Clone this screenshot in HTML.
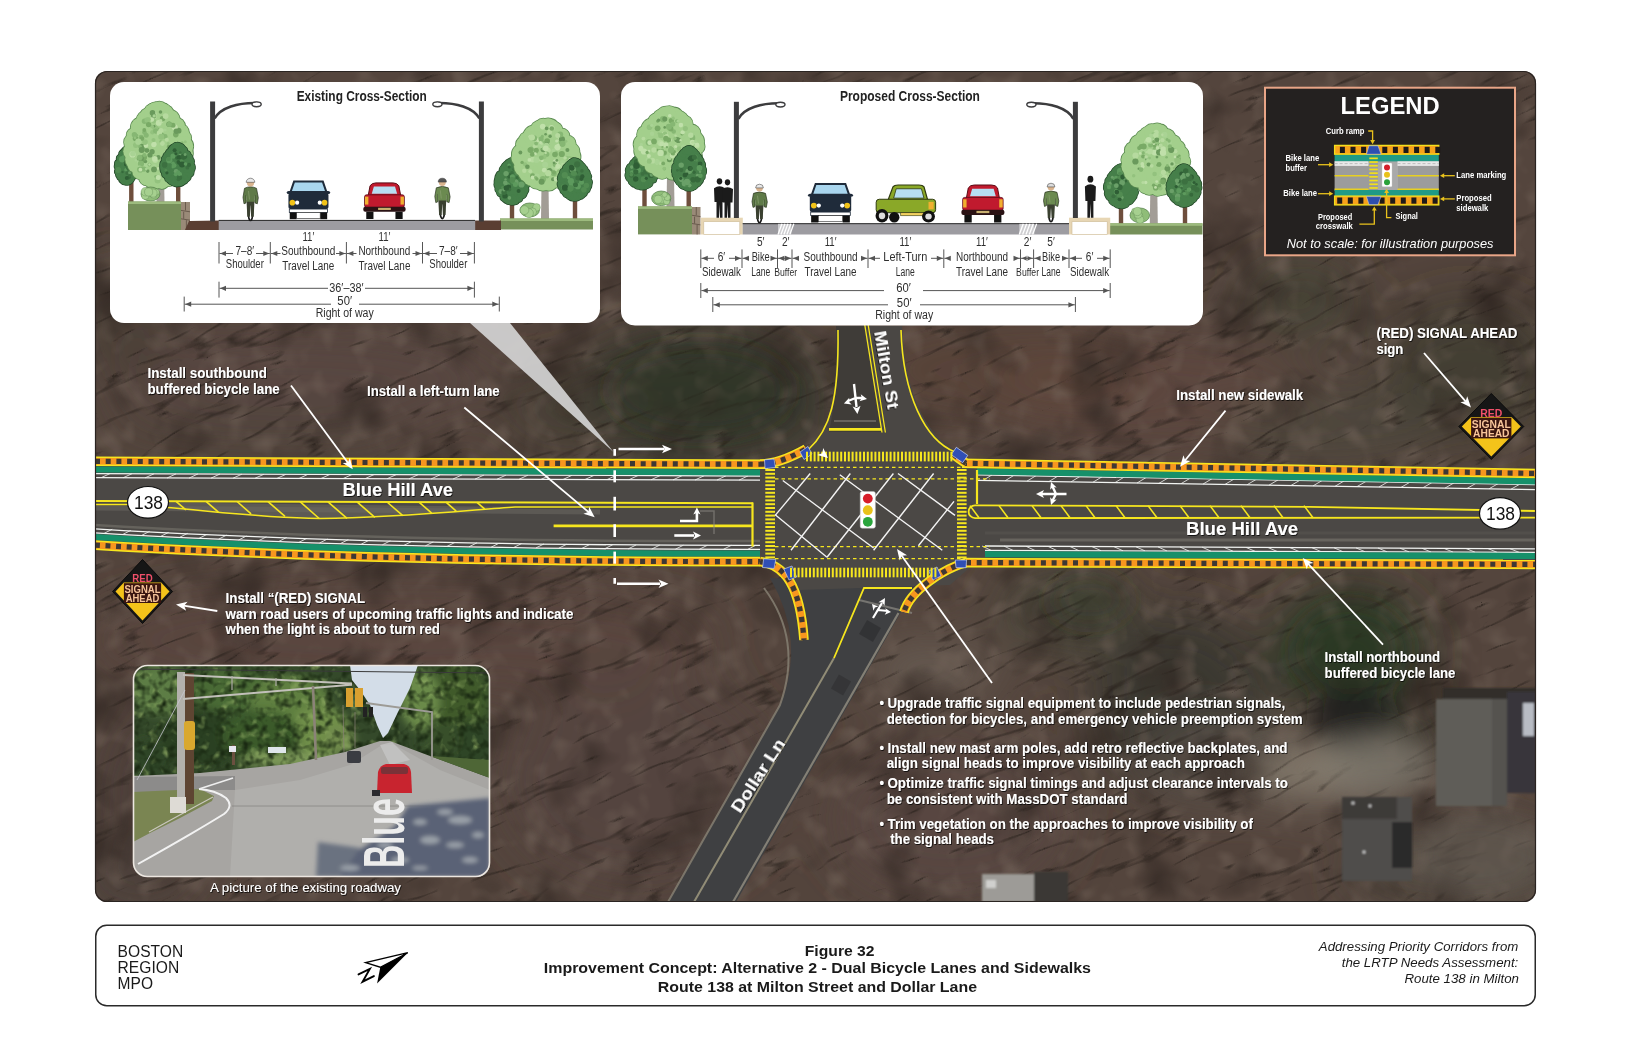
<!DOCTYPE html>
<html><head><meta charset="utf-8">
<style>
html,body{margin:0;padding:0;background:#fff;}
body{width:1632px;height:1056px;position:relative;overflow:hidden;font-family:"Liberation Sans",sans-serif;}
svg{position:absolute;left:0;top:0;font-family:"Liberation Sans",sans-serif;}
.lbl{font-weight:bold;fill:#fff;}
</style></head><body>
<svg width="1632" height="1056" viewBox="0 0 1632 1056">
<defs>
  <clipPath id="mapclip"><rect x="95" y="71" width="1441" height="831" rx="12"/></clipPath>
  <filter id="blur1" x="-20%" y="-20%" width="140%" height="140%"><feGaussianBlur stdDeviation="1"/></filter>
  <filter id="blur2" x="-20%" y="-20%" width="140%" height="140%"><feGaussianBlur stdDeviation="2"/></filter>
  <filter id="blur4" x="-20%" y="-20%" width="140%" height="140%"><feGaussianBlur stdDeviation="4"/></filter>
  <filter id="blur12" x="-50%" y="-50%" width="200%" height="200%"><feGaussianBlur stdDeviation="12"/></filter>
  <filter id="blur25" x="-20%" y="-20%" width="140%" height="140%"><feGaussianBlur stdDeviation="25"/></filter>
  <filter id="streaks" filterUnits="userSpaceOnUse" x="-400" y="-400" width="2600" height="2000" color-interpolation-filters="sRGB">
    <feTurbulence type="turbulence" baseFrequency="0.008 0.045" numOctaves="3" seed="5" result="t"/>
    <feColorMatrix in="t" type="matrix" values="0 0 0 0 0.16  0 0 0 0 0.13  0 0 0 0 0.11  -5 0 0 0 0.75"/>
  </filter>
  <filter id="dblotch" filterUnits="userSpaceOnUse" x="0" y="0" width="1632" height="1056" color-interpolation-filters="sRGB">
    <feTurbulence type="fractalNoise" baseFrequency="0.015 0.015" numOctaves="3" seed="9" result="t"/>
    <feColorMatrix in="t" type="matrix" values="0 0 0 0 0.2  0 0 0 0 0.16  0 0 0 0 0.14  -2.2 0 0 0 1.05"/>
  </filter>
  <filter id="lblotch" filterUnits="userSpaceOnUse" x="0" y="0" width="1632" height="1056" color-interpolation-filters="sRGB">
    <feTurbulence type="fractalNoise" baseFrequency="0.04 0.04" numOctaves="2" seed="2" result="t"/>
    <feColorMatrix in="t" type="matrix" values="0 0 0 0 0.45  0 0 0 0 0.39  0 0 0 0 0.35  1.6 0 0 0 -0.8"/>
  </filter>
  <filter id="foliage" filterUnits="userSpaceOnUse" x="133" y="665" width="357" height="120" color-interpolation-filters="sRGB">
    <feTurbulence type="fractalNoise" baseFrequency="0.12" numOctaves="2" seed="4" result="t"/>
    <feColorMatrix in="t" type="matrix" values="0 0 0 0 0.1  0 0 0 0 0.16  0 0 0 0 0.07  -2.6 0 0 0 1.45"/>
  </filter>
  <filter id="foliage2" filterUnits="userSpaceOnUse" x="133" y="665" width="357" height="120" color-interpolation-filters="sRGB">
    <feTurbulence type="fractalNoise" baseFrequency="0.1" numOctaves="2" seed="11" result="t"/>
    <feColorMatrix in="t" type="matrix" values="0 0 0 0 0.55  0 0 0 0 0.66  0 0 0 0 0.38  2.6 0 0 0 -1.5"/>
  </filter>
  <filter id="tshadow" x="-5%" y="-30%" width="110%" height="160%">
    <feDropShadow dx="0.7" dy="0.9" stdDeviation="0.7" flood-color="#000" flood-opacity="0.85"/>
  </filter>
</defs>
<g clip-path="url(#mapclip)">
<rect x="95" y="71" width="1441" height="831" fill="#54453d"/>
<g filter="url(#blur25)">
<ellipse cx="700" cy="395" rx="130" ry="70" fill="#33372b" opacity="0.95"/>
<ellipse cx="570" cy="410" rx="70" ry="40" fill="#443f35" opacity="0.8"/>
<ellipse cx="1000" cy="370" rx="140" ry="50" fill="#5a4238" opacity="0.7"/>
<ellipse cx="1150" cy="390" rx="160" ry="55" fill="#634a40" opacity="0.6"/>
<ellipse cx="1470" cy="370" rx="90" ry="70" fill="#3a3d31" opacity="0.7"/>
<ellipse cx="1300" cy="300" rx="60" ry="40" fill="#3e4535" opacity="0.7"/>
<ellipse cx="1330" cy="425" rx="110" ry="35" fill="#4a4a3e" opacity="0.6"/>
<ellipse cx="300" cy="380" rx="200" ry="50" fill="#5a4a42" opacity="0.6"/>
<ellipse cx="250" cy="430" rx="160" ry="25" fill="#4a413a" opacity="0.5"/>
<ellipse cx="1350" cy="650" rx="75" ry="60" fill="#2c3c28" opacity="0.95"/>
<ellipse cx="1380" cy="735" rx="60" ry="40" fill="#2a2d25" opacity="0.9"/>
<ellipse cx="930" cy="670" rx="70" ry="25" fill="#6f665c" opacity="0.8"/>
<ellipse cx="1070" cy="610" rx="60" ry="40" fill="#3e4535" opacity="0.8"/>
<ellipse cx="1180" cy="700" rx="90" ry="90" fill="#35362e" opacity="0.85"/>
<ellipse cx="1060" cy="610" rx="70" ry="40" fill="#4b4a3e" opacity="0.6"/>
<ellipse cx="1320" cy="768" rx="90" ry="32" fill="#80766a" opacity="0.95"/>
<ellipse cx="1210" cy="760" rx="70" ry="40" fill="#5e574f" opacity="0.7"/>
<ellipse cx="400" cy="640" rx="320" ry="55" fill="#5c4740" opacity="0.7"/>
<ellipse cx="640" cy="780" rx="140" ry="110" fill="#574540" opacity="0.6"/>
<ellipse cx="950" cy="820" rx="120" ry="80" fill="#5a4a42" opacity="0.6"/>
<ellipse cx="1460" cy="870" rx="120" ry="40" fill="#4e4840" opacity="0.7"/>
<ellipse cx="160" cy="800" rx="60" ry="100" fill="#4a3b36" opacity="0.7"/>
<ellipse cx="860" cy="470" rx="60" ry="30" fill="#45453c" opacity="0.6"/>
<ellipse cx="130" cy="880" rx="60" ry="30" fill="#4a403a" opacity="0.6"/>
<ellipse cx="120" cy="320" rx="60" ry="60" fill="#433a33" opacity="0.6"/>
</g>
<rect x="95" y="71" width="1441" height="831" filter="url(#lblotch)"/>
<rect x="95" y="71" width="1441" height="831" filter="url(#dblotch)"/>
<g transform="rotate(-24 815 486)"><rect x="-300" y="-300" width="2300" height="1600" filter="url(#streaks)"/></g>
<g filter="url(#blur12)">
<ellipse cx="1350" cy="650" rx="55" ry="45" fill="#27361f" opacity="0.55"/>
<ellipse cx="1352" cy="718" rx="38" ry="34" fill="#1c1e1a" opacity="0.75"/>
<ellipse cx="1375" cy="765" rx="62" ry="30" fill="#7c766c" opacity="0.7"/>
<ellipse cx="1300" cy="770" rx="50" ry="22" fill="#8a8172" opacity="0.45"/>
<ellipse cx="1480" cy="855" rx="70" ry="45" fill="#655e55" opacity="0.6"/>
<ellipse cx="700" cy="390" rx="90" ry="45" fill="#2a3324" opacity="0.45"/>
<ellipse cx="1090" cy="600" rx="40" ry="25" fill="#2f3a26" opacity="0.4"/>
</g>
<g filter="url(#blur1)">
<rect x="1443" y="688" width="93" height="12" fill="#332e2a"/>
<rect x="1436" y="699" width="56" height="107" fill="#5e5d58"/>
<rect x="1492" y="699" width="15" height="107" fill="#54534f"/>
<rect x="1507" y="692" width="29" height="101" fill="#37363a"/>
<rect x="1523" y="703" width="11" height="33" fill="#b8bcc4"/>
<rect x="1342" y="797" width="70" height="84" fill="#4f4e4b"/>
<rect x="1342" y="797" width="55" height="22" fill="#3d3b38"/>
<circle cx="1353" cy="803" r="1.6" fill="#d0d0d0"/><circle cx="1370" cy="806" r="1.4" fill="#d0d0d0"/><circle cx="1364" cy="852" r="1.5" fill="#d8d8d8"/>
<rect x="1392" y="822" width="20" height="46" fill="#2c2b29"/>
<rect x="982" y="874" width="52" height="28" fill="#9d9b97"/>
<rect x="986" y="880" width="10" height="8" fill="#d0d0ce"/>
<rect x="1034" y="872" width="34" height="30" fill="#3a3835"/>
</g>
<path d="M770,578 Q806,640 781,703 L668,902 L736,902 L905,605 L935,582 Z" fill="#3f4042"/>
<path d="M764,588 Q803,640 780,705 L668,902" stroke="#857f72" stroke-width="2" fill="none" opacity="0.85"/>
<path d="M898.5,613 L733,902" stroke="#8f8b7e" stroke-width="2.2" opacity="0.85"/>
<path d="M834,658 L694,902" stroke="#a09a80" stroke-width="2" opacity="0.85"/>
<path d="M859,600 L912,613" stroke="#8c8a84" stroke-width="2" opacity="0.7"/>
<rect x="862" y="623" width="16" height="16" fill="#2e2e30" opacity="0.7" transform="rotate(30 870 631)"/>
<rect x="834" y="677" width="14" height="16" fill="#2e2e30" opacity="0.6" transform="rotate(30 841 685)"/>
<path d="M836,326 C838,400 830,430 805,452 L960,452 C930,440 905,400 902,326 Z" fill="#4a4744"/>
<path d="M836,326 L864,326 L881,432 L829,432 C834,410 837,380 836,326 Z" fill="#3c3a36" opacity="0.8"/>
<path d="M95,461.3 L760,464.2 L800,452 L955,452 L975,463.5 L1536,473.5 L1536,566 L975,563 L950,585 L800,590 L760,562 L760,561.6 Q380,562 95,545 Z" fill="#4b4845"/>
<path d="M95,508 L600,512" stroke="#6d6a64" stroke-width="5" opacity="0.5"/>
<path d="M1000,540 L1536,540" stroke="#7a7770" stroke-width="3" opacity="0.6"/>
<path d="M985,533 L1536,533" stroke="#5a5752" stroke-width="3" opacity="0.5"/>
<path d="M95,473.6 L760,476.0" stroke="#f2f4f2" stroke-width="1.3" fill="none" />
<path d="M95,477.7 L760,480.2" stroke="#f2f4f2" stroke-width="1.3" fill="none" />
<path d="M101.0,477.7 L110.0,473.6" stroke="#f2f4f2" stroke-width="0.9" opacity="0.9"/>
<path d="M123.0,477.8 L132.0,473.7" stroke="#f2f4f2" stroke-width="0.9" opacity="0.9"/>
<path d="M145.0,477.9 L154.0,473.8" stroke="#f2f4f2" stroke-width="0.9" opacity="0.9"/>
<path d="M167.0,478.0 L176.0,473.9" stroke="#f2f4f2" stroke-width="0.9" opacity="0.9"/>
<path d="M189.0,478.1 L198.0,473.9" stroke="#f2f4f2" stroke-width="0.9" opacity="0.9"/>
<path d="M211.0,478.1 L220.0,474.0" stroke="#f2f4f2" stroke-width="0.9" opacity="0.9"/>
<path d="M233.0,478.2 L242.0,474.1" stroke="#f2f4f2" stroke-width="0.9" opacity="0.9"/>
<path d="M255.0,478.3 L264.0,474.2" stroke="#f2f4f2" stroke-width="0.9" opacity="0.9"/>
<path d="M277.0,478.4 L286.0,474.3" stroke="#f2f4f2" stroke-width="0.9" opacity="0.9"/>
<path d="M299.0,478.5 L308.0,474.3" stroke="#f2f4f2" stroke-width="0.9" opacity="0.9"/>
<path d="M321.0,478.5 L330.0,474.4" stroke="#f2f4f2" stroke-width="0.9" opacity="0.9"/>
<path d="M343.0,478.6 L352.0,474.5" stroke="#f2f4f2" stroke-width="0.9" opacity="0.9"/>
<path d="M365.0,478.7 L374.0,474.6" stroke="#f2f4f2" stroke-width="0.9" opacity="0.9"/>
<path d="M387.0,478.8 L396.0,474.7" stroke="#f2f4f2" stroke-width="0.9" opacity="0.9"/>
<path d="M409.0,478.9 L418.0,474.7" stroke="#f2f4f2" stroke-width="0.9" opacity="0.9"/>
<path d="M431.0,479.0 L440.0,474.8" stroke="#f2f4f2" stroke-width="0.9" opacity="0.9"/>
<path d="M453.0,479.0 L462.0,474.9" stroke="#f2f4f2" stroke-width="0.9" opacity="0.9"/>
<path d="M475.0,479.1 L484.0,475.0" stroke="#f2f4f2" stroke-width="0.9" opacity="0.9"/>
<path d="M497.0,479.2 L506.0,475.1" stroke="#f2f4f2" stroke-width="0.9" opacity="0.9"/>
<path d="M519.0,479.3 L528.0,475.1" stroke="#f2f4f2" stroke-width="0.9" opacity="0.9"/>
<path d="M541.0,479.4 L550.0,475.2" stroke="#f2f4f2" stroke-width="0.9" opacity="0.9"/>
<path d="M563.0,479.5 L572.0,475.3" stroke="#f2f4f2" stroke-width="0.9" opacity="0.9"/>
<path d="M585.0,479.5 L594.0,475.4" stroke="#f2f4f2" stroke-width="0.9" opacity="0.9"/>
<path d="M607.0,479.6 L616.0,475.4" stroke="#f2f4f2" stroke-width="0.9" opacity="0.9"/>
<path d="M629.0,479.7 L638.0,475.5" stroke="#f2f4f2" stroke-width="0.9" opacity="0.9"/>
<path d="M651.0,479.8 L660.0,475.6" stroke="#f2f4f2" stroke-width="0.9" opacity="0.9"/>
<path d="M673.0,479.9 L682.0,475.7" stroke="#f2f4f2" stroke-width="0.9" opacity="0.9"/>
<path d="M695.0,480.0 L704.0,475.8" stroke="#f2f4f2" stroke-width="0.9" opacity="0.9"/>
<path d="M717.0,480.0 L726.0,475.8" stroke="#f2f4f2" stroke-width="0.9" opacity="0.9"/>
<path d="M739.0,480.1 L748.0,475.9" stroke="#f2f4f2" stroke-width="0.9" opacity="0.9"/>
<path d="M95,469.5 L760,472.4" stroke="#16906a" stroke-width="6" fill="none" />
<path d="M95,461.3 L768,464.3" stroke="#f6e61e" stroke-width="9.6" fill="none"/><path d="M95,461.3 L768,464.3" stroke="#f7961f" stroke-width="6.6" fill="none"/><path d="M95,461.3 L768,464.3" stroke="#3e3834" stroke-width="5.199999999999999" fill="none" stroke-dasharray="5.0 5.699999999999999" stroke-dashoffset="0"/>
<path d="M977,474.8 L1536,484.5" stroke="#f2f4f2" stroke-width="1.3" fill="none" />
<path d="M977,480.3 L1536,489.6" stroke="#f2f4f2" stroke-width="1.3" fill="none" />
<path d="M983.0,480.4 L992.0,474.9" stroke="#f2f4f2" stroke-width="0.9" opacity="0.9"/>
<path d="M1005.0,480.8 L1014.0,475.3" stroke="#f2f4f2" stroke-width="0.9" opacity="0.9"/>
<path d="M1027.0,481.1 L1036.0,475.7" stroke="#f2f4f2" stroke-width="0.9" opacity="0.9"/>
<path d="M1049.0,481.5 L1058.0,476.0" stroke="#f2f4f2" stroke-width="0.9" opacity="0.9"/>
<path d="M1071.0,481.9 L1080.0,476.4" stroke="#f2f4f2" stroke-width="0.9" opacity="0.9"/>
<path d="M1093.0,482.2 L1102.0,476.8" stroke="#f2f4f2" stroke-width="0.9" opacity="0.9"/>
<path d="M1115.0,482.6 L1124.0,477.2" stroke="#f2f4f2" stroke-width="0.9" opacity="0.9"/>
<path d="M1137.0,483.0 L1146.0,477.6" stroke="#f2f4f2" stroke-width="0.9" opacity="0.9"/>
<path d="M1159.0,483.3 L1168.0,478.0" stroke="#f2f4f2" stroke-width="0.9" opacity="0.9"/>
<path d="M1181.0,483.7 L1190.0,478.3" stroke="#f2f4f2" stroke-width="0.9" opacity="0.9"/>
<path d="M1203.0,484.1 L1212.0,478.7" stroke="#f2f4f2" stroke-width="0.9" opacity="0.9"/>
<path d="M1225.0,484.4 L1234.0,479.1" stroke="#f2f4f2" stroke-width="0.9" opacity="0.9"/>
<path d="M1247.0,484.8 L1256.0,479.5" stroke="#f2f4f2" stroke-width="0.9" opacity="0.9"/>
<path d="M1269.0,485.2 L1278.0,479.9" stroke="#f2f4f2" stroke-width="0.9" opacity="0.9"/>
<path d="M1291.0,485.5 L1300.0,480.2" stroke="#f2f4f2" stroke-width="0.9" opacity="0.9"/>
<path d="M1313.0,485.9 L1322.0,480.6" stroke="#f2f4f2" stroke-width="0.9" opacity="0.9"/>
<path d="M1335.0,486.3 L1344.0,481.0" stroke="#f2f4f2" stroke-width="0.9" opacity="0.9"/>
<path d="M1357.0,486.6 L1366.0,481.4" stroke="#f2f4f2" stroke-width="0.9" opacity="0.9"/>
<path d="M1379.0,487.0 L1388.0,481.8" stroke="#f2f4f2" stroke-width="0.9" opacity="0.9"/>
<path d="M1401.0,487.4 L1410.0,482.2" stroke="#f2f4f2" stroke-width="0.9" opacity="0.9"/>
<path d="M1423.0,487.7 L1432.0,482.5" stroke="#f2f4f2" stroke-width="0.9" opacity="0.9"/>
<path d="M1445.0,488.1 L1454.0,482.9" stroke="#f2f4f2" stroke-width="0.9" opacity="0.9"/>
<path d="M1467.0,488.5 L1476.0,483.3" stroke="#f2f4f2" stroke-width="0.9" opacity="0.9"/>
<path d="M1489.0,488.8 L1498.0,483.7" stroke="#f2f4f2" stroke-width="0.9" opacity="0.9"/>
<path d="M1511.0,489.2 L1520.0,484.1" stroke="#f2f4f2" stroke-width="0.9" opacity="0.9"/>
<path d="M977,471.5 L1536,481.4" stroke="#16906a" stroke-width="6.2" fill="none" />
<path d="M962,463.2 L1536,473.5" stroke="#f6e61e" stroke-width="9.6" fill="none"/><path d="M962,463.2 L1536,473.5" stroke="#f7961f" stroke-width="6.6" fill="none"/><path d="M962,463.2 L1536,473.5" stroke="#3e3834" stroke-width="5.199999999999999" fill="none" stroke-dasharray="5.0 5.699999999999999" stroke-dashoffset="0"/>
<path d="M95,528.8000000000001 Q380,545.7 760,545.3000000000001" stroke="#f2f4f2" stroke-width="1.3" fill="none"/>
<path d="M95,532.8000000000001 Q380,549.7 760,549.3000000000001" stroke="#f2f4f2" stroke-width="1.3" fill="none"/>
<path d="M104.2,533.3 L112.2,529.3" stroke="#f2f4f2" stroke-width="0.9" opacity="0.9"/>
<path d="M122.8,534.4 L130.8,530.4" stroke="#f2f4f2" stroke-width="0.9" opacity="0.9"/>
<path d="M141.6,535.4 L149.6,531.4" stroke="#f2f4f2" stroke-width="0.9" opacity="0.9"/>
<path d="M160.6,536.4 L168.6,532.4" stroke="#f2f4f2" stroke-width="0.9" opacity="0.9"/>
<path d="M179.7,537.3 L187.7,533.3" stroke="#f2f4f2" stroke-width="0.9" opacity="0.9"/>
<path d="M199.1,538.3 L207.1,534.3" stroke="#f2f4f2" stroke-width="0.9" opacity="0.9"/>
<path d="M218.7,539.1 L226.7,535.1" stroke="#f2f4f2" stroke-width="0.9" opacity="0.9"/>
<path d="M238.5,540.0 L246.5,536.0" stroke="#f2f4f2" stroke-width="0.9" opacity="0.9"/>
<path d="M258.4,540.8 L266.4,536.8" stroke="#f2f4f2" stroke-width="0.9" opacity="0.9"/>
<path d="M278.6,541.5 L286.6,537.5" stroke="#f2f4f2" stroke-width="0.9" opacity="0.9"/>
<path d="M299.0,542.3 L307.0,538.3" stroke="#f2f4f2" stroke-width="0.9" opacity="0.9"/>
<path d="M319.5,543.0 L327.5,539.0" stroke="#f2f4f2" stroke-width="0.9" opacity="0.9"/>
<path d="M340.3,543.6 L348.3,539.6" stroke="#f2f4f2" stroke-width="0.9" opacity="0.9"/>
<path d="M361.2,544.2 L369.2,540.2" stroke="#f2f4f2" stroke-width="0.9" opacity="0.9"/>
<path d="M382.4,544.8 L390.4,540.8" stroke="#f2f4f2" stroke-width="0.9" opacity="0.9"/>
<path d="M403.8,545.4 L411.8,541.4" stroke="#f2f4f2" stroke-width="0.9" opacity="0.9"/>
<path d="M425.3,545.9 L433.3,541.9" stroke="#f2f4f2" stroke-width="0.9" opacity="0.9"/>
<path d="M447.0,546.4 L455.0,542.4" stroke="#f2f4f2" stroke-width="0.9" opacity="0.9"/>
<path d="M469.0,546.8 L477.0,542.8" stroke="#f2f4f2" stroke-width="0.9" opacity="0.9"/>
<path d="M491.1,547.2 L499.1,543.2" stroke="#f2f4f2" stroke-width="0.9" opacity="0.9"/>
<path d="M513.5,547.6 L521.5,543.6" stroke="#f2f4f2" stroke-width="0.9" opacity="0.9"/>
<path d="M536.0,547.9 L544.0,543.9" stroke="#f2f4f2" stroke-width="0.9" opacity="0.9"/>
<path d="M558.8,548.2 L566.8,544.2" stroke="#f2f4f2" stroke-width="0.9" opacity="0.9"/>
<path d="M581.7,548.5 L589.7,544.5" stroke="#f2f4f2" stroke-width="0.9" opacity="0.9"/>
<path d="M604.8,548.7 L612.8,544.7" stroke="#f2f4f2" stroke-width="0.9" opacity="0.9"/>
<path d="M628.2,548.9 L636.2,544.9" stroke="#f2f4f2" stroke-width="0.9" opacity="0.9"/>
<path d="M651.7,549.1 L659.7,545.1" stroke="#f2f4f2" stroke-width="0.9" opacity="0.9"/>
<path d="M675.4,549.2 L683.4,545.2" stroke="#f2f4f2" stroke-width="0.9" opacity="0.9"/>
<path d="M699.3,549.3 L707.3,545.3" stroke="#f2f4f2" stroke-width="0.9" opacity="0.9"/>
<path d="M723.4,549.3 L731.4,545.3" stroke="#f2f4f2" stroke-width="0.9" opacity="0.9"/>
<path d="M747.8,549.3 L755.8,545.3" stroke="#f2f4f2" stroke-width="0.9" opacity="0.9"/>
<path d="M95,537.0 Q380,553.9 760,553.5" stroke="#16906a" stroke-width="6" fill="none"/>
<path d="M95,545.1 Q380,562 760,561.6" stroke="#f6e61e" stroke-width="9.6" fill="none"/><path d="M95,545.1 Q380,562 760,561.6" stroke="#f7961f" stroke-width="6.6" fill="none"/><path d="M95,545.1 Q380,562 760,561.6" stroke="#3e3834" stroke-width="5.199999999999999" fill="none" stroke-dasharray="5.0 5.699999999999999" stroke-dashoffset="0"/>
<path d="M985,546.0 L1536,548.8" stroke="#f2f4f2" stroke-width="1.3" fill="none" />
<path d="M985,550.3 L1536,552.4" stroke="#f2f4f2" stroke-width="1.3" fill="none" />
<path d="M991.0,550.3 L982.0,546.0" stroke="#f2f4f2" stroke-width="0.9" opacity="0.9"/>
<path d="M1013.0,550.4 L1004.0,546.1" stroke="#f2f4f2" stroke-width="0.9" opacity="0.9"/>
<path d="M1035.0,550.5 L1026.0,546.3" stroke="#f2f4f2" stroke-width="0.9" opacity="0.9"/>
<path d="M1057.0,550.6 L1048.0,546.4" stroke="#f2f4f2" stroke-width="0.9" opacity="0.9"/>
<path d="M1079.0,550.7 L1070.0,546.5" stroke="#f2f4f2" stroke-width="0.9" opacity="0.9"/>
<path d="M1101.0,550.7 L1092.0,546.6" stroke="#f2f4f2" stroke-width="0.9" opacity="0.9"/>
<path d="M1123.0,550.8 L1114.0,546.7" stroke="#f2f4f2" stroke-width="0.9" opacity="0.9"/>
<path d="M1145.0,550.9 L1136.0,546.8" stroke="#f2f4f2" stroke-width="0.9" opacity="0.9"/>
<path d="M1167.0,551.0 L1158.0,546.9" stroke="#f2f4f2" stroke-width="0.9" opacity="0.9"/>
<path d="M1189.0,551.1 L1180.0,547.0" stroke="#f2f4f2" stroke-width="0.9" opacity="0.9"/>
<path d="M1211.0,551.2 L1202.0,547.1" stroke="#f2f4f2" stroke-width="0.9" opacity="0.9"/>
<path d="M1233.0,551.2 L1224.0,547.3" stroke="#f2f4f2" stroke-width="0.9" opacity="0.9"/>
<path d="M1255.0,551.3 L1246.0,547.4" stroke="#f2f4f2" stroke-width="0.9" opacity="0.9"/>
<path d="M1277.0,551.4 L1268.0,547.5" stroke="#f2f4f2" stroke-width="0.9" opacity="0.9"/>
<path d="M1299.0,551.5 L1290.0,547.6" stroke="#f2f4f2" stroke-width="0.9" opacity="0.9"/>
<path d="M1321.0,551.6 L1312.0,547.7" stroke="#f2f4f2" stroke-width="0.9" opacity="0.9"/>
<path d="M1343.0,551.7 L1334.0,547.8" stroke="#f2f4f2" stroke-width="0.9" opacity="0.9"/>
<path d="M1365.0,551.7 L1356.0,547.9" stroke="#f2f4f2" stroke-width="0.9" opacity="0.9"/>
<path d="M1387.0,551.8 L1378.0,548.0" stroke="#f2f4f2" stroke-width="0.9" opacity="0.9"/>
<path d="M1409.0,551.9 L1400.0,548.2" stroke="#f2f4f2" stroke-width="0.9" opacity="0.9"/>
<path d="M1431.0,552.0 L1422.0,548.3" stroke="#f2f4f2" stroke-width="0.9" opacity="0.9"/>
<path d="M1453.0,552.1 L1444.0,548.4" stroke="#f2f4f2" stroke-width="0.9" opacity="0.9"/>
<path d="M1475.0,552.2 L1466.0,548.5" stroke="#f2f4f2" stroke-width="0.9" opacity="0.9"/>
<path d="M1497.0,552.3 L1488.0,548.6" stroke="#f2f4f2" stroke-width="0.9" opacity="0.9"/>
<path d="M1519.0,552.3 L1510.0,548.7" stroke="#f2f4f2" stroke-width="0.9" opacity="0.9"/>
<path d="M985,554.2 L1536,556" stroke="#16906a" stroke-width="6.2" fill="none" />
<path d="M966,562.6 L1536,564.4" stroke="#f6e61e" stroke-width="9.6" fill="none"/><path d="M966,562.6 L1536,564.4" stroke="#f7961f" stroke-width="6.6" fill="none"/><path d="M966,562.6 L1536,564.4" stroke="#3e3834" stroke-width="5.199999999999999" fill="none" stroke-dasharray="5.0 5.699999999999999" stroke-dashoffset="0"/>
<path d="M760,464.2 C775,464 790,458 806,449" stroke="#f6e61e" stroke-width="9.6" fill="none"/><path d="M760,464.2 C775,464 790,458 806,449" stroke="#f7961f" stroke-width="6.6" fill="none"/><path d="M760,464.2 C775,464 790,458 806,449" stroke="#3e3834" stroke-width="5.199999999999999" fill="none" stroke-dasharray="5.0 5.699999999999999" stroke-dashoffset="0"/>
<path d="M966,463.2 C962,461 958,458 953,454" stroke="#f6e61e" stroke-width="9.6" fill="none"/><path d="M966,463.2 C962,461 958,458 953,454" stroke="#f7961f" stroke-width="6.6" fill="none"/><path d="M966,463.2 C962,461 958,458 953,454" stroke="#3e3834" stroke-width="5.199999999999999" fill="none" stroke-dasharray="5.0 5.699999999999999" stroke-dashoffset="0"/>
<path d="M760,561.6 C785,565 800,585 804,640" stroke="#f6e61e" stroke-width="9.6" fill="none"/><path d="M760,561.6 C785,565 800,585 804,640" stroke="#f7961f" stroke-width="6.6" fill="none"/><path d="M760,561.6 C785,565 800,585 804,640" stroke="#3e3834" stroke-width="5.199999999999999" fill="none" stroke-dasharray="5.0 5.699999999999999" stroke-dashoffset="0"/>
<path d="M966,562.6 C945,568 910,590 904,612" stroke="#f6e61e" stroke-width="9.6" fill="none"/><path d="M966,562.6 C945,568 910,590 904,612" stroke="#f7961f" stroke-width="6.6" fill="none"/><path d="M966,562.6 C945,568 910,590 904,612" stroke="#3e3834" stroke-width="5.199999999999999" fill="none" stroke-dasharray="5.0 5.699999999999999" stroke-dashoffset="0"/>
<path d="M838,330 C839,400 830,430 808,450" stroke="#f6e61e" stroke-width="1.6" fill="none"/>
<path d="M901,330 C903,395 925,440 955,452" stroke="#f6e61e" stroke-width="1.6" fill="none"/>
<path d="M864.8,325 L882,432.5 M868.2,325 L885.4,432.5" stroke="#f6e61e" stroke-width="1.3" fill="none"/>
<path d="M829,429.4 L881,429.4" stroke="#f6e61e" stroke-width="2.8"/>
<path d="M834,421 L876,421" stroke="#8b8880" stroke-width="1.5" opacity="0.7"/>
<path d="M834,658 L864,588 L912,588" stroke="#f6e61e" stroke-width="1.8" fill="none"/>
<polygon points="764.5,459.8 774,459 775.5,467.5 765,468.5" fill="#2f4fb5" stroke="#d8e0f8" stroke-width="0.6"/>
<polygon points="800,452 808,446.5 812,454 804,459.5" fill="#2f4fb5" stroke="#d8e0f8" stroke-width="0.6"/>
<polygon points="763.7,558.8 775.8,559.5 774,568.5 762.5,567.5" fill="#2f4fb5" stroke="#d8e0f8" stroke-width="0.6"/>
<polygon points="783.8,569 792,566 796.7,577 789,580" fill="#2f4fb5" stroke="#d8e0f8" stroke-width="0.6"/>
<polygon points="955.3,560 966.6,560 966,567.7 956,567.7" fill="#2f4fb5" stroke="#d8e0f8" stroke-width="0.6"/>
<polygon points="928.7,571 937,567 941,576 933,580" fill="#2f4fb5" stroke="#d8e0f8" stroke-width="0.6"/>
<rect x="-7" y="-4.5" width="14" height="9" fill="#2f4fb5" stroke="#d8e0f8" stroke-width="0.6" transform="translate(959.5,455) rotate(35)"/>
<rect x="806.0" y="451.7" width="2.0" height="9.699999999999989" fill="#f6e61e"/><rect x="809.8" y="451.7" width="2.0" height="9.699999999999989" fill="#f6e61e"/><rect x="813.6" y="451.7" width="2.0" height="9.699999999999989" fill="#f6e61e"/><rect x="817.4" y="451.7" width="2.0" height="9.699999999999989" fill="#f6e61e"/><rect x="821.2" y="451.7" width="2.0" height="9.699999999999989" fill="#f6e61e"/><rect x="825.0" y="451.7" width="2.0" height="9.699999999999989" fill="#f6e61e"/><rect x="828.8" y="451.7" width="2.0" height="9.699999999999989" fill="#f6e61e"/><rect x="832.6" y="451.7" width="2.0" height="9.699999999999989" fill="#f6e61e"/><rect x="836.4" y="451.7" width="2.0" height="9.699999999999989" fill="#f6e61e"/><rect x="840.2" y="451.7" width="2.0" height="9.699999999999989" fill="#f6e61e"/><rect x="844.0" y="451.7" width="2.0" height="9.699999999999989" fill="#f6e61e"/><rect x="847.8" y="451.7" width="2.0" height="9.699999999999989" fill="#f6e61e"/><rect x="851.6" y="451.7" width="2.0" height="9.699999999999989" fill="#f6e61e"/><rect x="855.4" y="451.7" width="2.0" height="9.699999999999989" fill="#f6e61e"/><rect x="859.2" y="451.7" width="2.0" height="9.699999999999989" fill="#f6e61e"/><rect x="863.0" y="451.7" width="2.0" height="9.699999999999989" fill="#f6e61e"/><rect x="866.8" y="451.7" width="2.0" height="9.699999999999989" fill="#f6e61e"/><rect x="870.6" y="451.7" width="2.0" height="9.699999999999989" fill="#f6e61e"/><rect x="874.4" y="451.7" width="2.0" height="9.699999999999989" fill="#f6e61e"/><rect x="878.2" y="451.7" width="2.0" height="9.699999999999989" fill="#f6e61e"/><rect x="882.0" y="451.7" width="2.0" height="9.699999999999989" fill="#f6e61e"/><rect x="885.8" y="451.7" width="2.0" height="9.699999999999989" fill="#f6e61e"/><rect x="889.6" y="451.7" width="2.0" height="9.699999999999989" fill="#f6e61e"/><rect x="893.4" y="451.7" width="2.0" height="9.699999999999989" fill="#f6e61e"/><rect x="897.2" y="451.7" width="2.0" height="9.699999999999989" fill="#f6e61e"/><rect x="901.0" y="451.7" width="2.0" height="9.699999999999989" fill="#f6e61e"/><rect x="904.8" y="451.7" width="2.0" height="9.699999999999989" fill="#f6e61e"/><rect x="908.6" y="451.7" width="2.0" height="9.699999999999989" fill="#f6e61e"/><rect x="912.4" y="451.7" width="2.0" height="9.699999999999989" fill="#f6e61e"/><rect x="916.2" y="451.7" width="2.0" height="9.699999999999989" fill="#f6e61e"/><rect x="920.0" y="451.7" width="2.0" height="9.699999999999989" fill="#f6e61e"/><rect x="923.8" y="451.7" width="2.0" height="9.699999999999989" fill="#f6e61e"/><rect x="927.6" y="451.7" width="2.0" height="9.699999999999989" fill="#f6e61e"/><rect x="931.4" y="451.7" width="2.0" height="9.699999999999989" fill="#f6e61e"/><rect x="935.2" y="451.7" width="2.0" height="9.699999999999989" fill="#f6e61e"/><rect x="939.0" y="451.7" width="2.0" height="9.699999999999989" fill="#f6e61e"/><rect x="942.8" y="451.7" width="2.0" height="9.699999999999989" fill="#f6e61e"/><rect x="946.6" y="451.7" width="2.0" height="9.699999999999989" fill="#f6e61e"/><rect x="950.4" y="451.7" width="2.0" height="9.699999999999989" fill="#f6e61e"/>
<rect x="790.0" y="567.7" width="2.0" height="9.599999999999909" fill="#f6e61e"/><rect x="793.8" y="567.7" width="2.0" height="9.599999999999909" fill="#f6e61e"/><rect x="797.6" y="567.7" width="2.0" height="9.599999999999909" fill="#f6e61e"/><rect x="801.4" y="567.7" width="2.0" height="9.599999999999909" fill="#f6e61e"/><rect x="805.2" y="567.7" width="2.0" height="9.599999999999909" fill="#f6e61e"/><rect x="809.0" y="567.7" width="2.0" height="9.599999999999909" fill="#f6e61e"/><rect x="812.8" y="567.7" width="2.0" height="9.599999999999909" fill="#f6e61e"/><rect x="816.6" y="567.7" width="2.0" height="9.599999999999909" fill="#f6e61e"/><rect x="820.4" y="567.7" width="2.0" height="9.599999999999909" fill="#f6e61e"/><rect x="824.2" y="567.7" width="2.0" height="9.599999999999909" fill="#f6e61e"/><rect x="828.0" y="567.7" width="2.0" height="9.599999999999909" fill="#f6e61e"/><rect x="831.8" y="567.7" width="2.0" height="9.599999999999909" fill="#f6e61e"/><rect x="835.6" y="567.7" width="2.0" height="9.599999999999909" fill="#f6e61e"/><rect x="839.4" y="567.7" width="2.0" height="9.599999999999909" fill="#f6e61e"/><rect x="843.2" y="567.7" width="2.0" height="9.599999999999909" fill="#f6e61e"/><rect x="847.0" y="567.7" width="2.0" height="9.599999999999909" fill="#f6e61e"/><rect x="850.8" y="567.7" width="2.0" height="9.599999999999909" fill="#f6e61e"/><rect x="854.6" y="567.7" width="2.0" height="9.599999999999909" fill="#f6e61e"/><rect x="858.4" y="567.7" width="2.0" height="9.599999999999909" fill="#f6e61e"/><rect x="862.2" y="567.7" width="2.0" height="9.599999999999909" fill="#f6e61e"/><rect x="866.0" y="567.7" width="2.0" height="9.599999999999909" fill="#f6e61e"/><rect x="869.8" y="567.7" width="2.0" height="9.599999999999909" fill="#f6e61e"/><rect x="873.6" y="567.7" width="2.0" height="9.599999999999909" fill="#f6e61e"/><rect x="877.4" y="567.7" width="2.0" height="9.599999999999909" fill="#f6e61e"/><rect x="881.2" y="567.7" width="2.0" height="9.599999999999909" fill="#f6e61e"/><rect x="885.0" y="567.7" width="2.0" height="9.599999999999909" fill="#f6e61e"/><rect x="888.8" y="567.7" width="2.0" height="9.599999999999909" fill="#f6e61e"/><rect x="892.6" y="567.7" width="2.0" height="9.599999999999909" fill="#f6e61e"/><rect x="896.4" y="567.7" width="2.0" height="9.599999999999909" fill="#f6e61e"/><rect x="900.2" y="567.7" width="2.0" height="9.599999999999909" fill="#f6e61e"/><rect x="904.0" y="567.7" width="2.0" height="9.599999999999909" fill="#f6e61e"/><rect x="907.8" y="567.7" width="2.0" height="9.599999999999909" fill="#f6e61e"/><rect x="911.6" y="567.7" width="2.0" height="9.599999999999909" fill="#f6e61e"/><rect x="915.4" y="567.7" width="2.0" height="9.599999999999909" fill="#f6e61e"/><rect x="919.2" y="567.7" width="2.0" height="9.599999999999909" fill="#f6e61e"/><rect x="923.0" y="567.7" width="2.0" height="9.599999999999909" fill="#f6e61e"/><rect x="926.8" y="567.7" width="2.0" height="9.599999999999909" fill="#f6e61e"/><rect x="930.6" y="567.7" width="2.0" height="9.599999999999909" fill="#f6e61e"/><rect x="934.4" y="567.7" width="2.0" height="9.599999999999909" fill="#f6e61e"/>
<rect x="765.3" y="469.0" width="9.700000000000045" height="2.0" fill="#f6e61e"/><rect x="765.3" y="472.8" width="9.700000000000045" height="2.0" fill="#f6e61e"/><rect x="765.3" y="476.6" width="9.700000000000045" height="2.0" fill="#f6e61e"/><rect x="765.3" y="480.4" width="9.700000000000045" height="2.0" fill="#f6e61e"/><rect x="765.3" y="484.2" width="9.700000000000045" height="2.0" fill="#f6e61e"/><rect x="765.3" y="488.0" width="9.700000000000045" height="2.0" fill="#f6e61e"/><rect x="765.3" y="491.8" width="9.700000000000045" height="2.0" fill="#f6e61e"/><rect x="765.3" y="495.6" width="9.700000000000045" height="2.0" fill="#f6e61e"/><rect x="765.3" y="499.4" width="9.700000000000045" height="2.0" fill="#f6e61e"/><rect x="765.3" y="503.2" width="9.700000000000045" height="2.0" fill="#f6e61e"/><rect x="765.3" y="507.0" width="9.700000000000045" height="2.0" fill="#f6e61e"/><rect x="765.3" y="510.8" width="9.700000000000045" height="2.0" fill="#f6e61e"/><rect x="765.3" y="514.6" width="9.700000000000045" height="2.0" fill="#f6e61e"/><rect x="765.3" y="518.4" width="9.700000000000045" height="2.0" fill="#f6e61e"/><rect x="765.3" y="522.2" width="9.700000000000045" height="2.0" fill="#f6e61e"/><rect x="765.3" y="526.0" width="9.700000000000045" height="2.0" fill="#f6e61e"/><rect x="765.3" y="529.8" width="9.700000000000045" height="2.0" fill="#f6e61e"/><rect x="765.3" y="533.6" width="9.700000000000045" height="2.0" fill="#f6e61e"/><rect x="765.3" y="537.4" width="9.700000000000045" height="2.0" fill="#f6e61e"/><rect x="765.3" y="541.2" width="9.700000000000045" height="2.0" fill="#f6e61e"/><rect x="765.3" y="545.0" width="9.700000000000045" height="2.0" fill="#f6e61e"/><rect x="765.3" y="548.8" width="9.700000000000045" height="2.0" fill="#f6e61e"/><rect x="765.3" y="552.6" width="9.700000000000045" height="2.0" fill="#f6e61e"/><rect x="765.3" y="556.4" width="9.700000000000045" height="2.0" fill="#f6e61e"/>
<rect x="957" y="469.0" width="9.600000000000023" height="2.0" fill="#f6e61e"/><rect x="957" y="472.8" width="9.600000000000023" height="2.0" fill="#f6e61e"/><rect x="957" y="476.6" width="9.600000000000023" height="2.0" fill="#f6e61e"/><rect x="957" y="480.4" width="9.600000000000023" height="2.0" fill="#f6e61e"/><rect x="957" y="484.2" width="9.600000000000023" height="2.0" fill="#f6e61e"/><rect x="957" y="488.0" width="9.600000000000023" height="2.0" fill="#f6e61e"/><rect x="957" y="491.8" width="9.600000000000023" height="2.0" fill="#f6e61e"/><rect x="957" y="495.6" width="9.600000000000023" height="2.0" fill="#f6e61e"/><rect x="957" y="499.4" width="9.600000000000023" height="2.0" fill="#f6e61e"/><rect x="957" y="503.2" width="9.600000000000023" height="2.0" fill="#f6e61e"/><rect x="957" y="507.0" width="9.600000000000023" height="2.0" fill="#f6e61e"/><rect x="957" y="510.8" width="9.600000000000023" height="2.0" fill="#f6e61e"/><rect x="957" y="514.6" width="9.600000000000023" height="2.0" fill="#f6e61e"/><rect x="957" y="518.4" width="9.600000000000023" height="2.0" fill="#f6e61e"/><rect x="957" y="522.2" width="9.600000000000023" height="2.0" fill="#f6e61e"/><rect x="957" y="526.0" width="9.600000000000023" height="2.0" fill="#f6e61e"/><rect x="957" y="529.8" width="9.600000000000023" height="2.0" fill="#f6e61e"/><rect x="957" y="533.6" width="9.600000000000023" height="2.0" fill="#f6e61e"/><rect x="957" y="537.4" width="9.600000000000023" height="2.0" fill="#f6e61e"/><rect x="957" y="541.2" width="9.600000000000023" height="2.0" fill="#f6e61e"/><rect x="957" y="545.0" width="9.600000000000023" height="2.0" fill="#f6e61e"/><rect x="957" y="548.8" width="9.600000000000023" height="2.0" fill="#f6e61e"/><rect x="957" y="552.6" width="9.600000000000023" height="2.0" fill="#f6e61e"/><rect x="957" y="556.4" width="9.600000000000023" height="2.0" fill="#f6e61e"/>
<path d="M775,467.4 L990,467.4" stroke="#f6e61e" stroke-width="1.3" stroke-dasharray="3.5 3"/>
<path d="M775,478.9 L990,478.9" stroke="#f6e61e" stroke-width="1.3" stroke-dasharray="3.5 3"/>
<path d="M775,546.6 L990,546.6" stroke="#f6e61e" stroke-width="1.3" stroke-dasharray="3.5 3"/>
<path d="M775,558.6 L990,558.6" stroke="#f6e61e" stroke-width="1.3" stroke-dasharray="3.5 3"/>
<path d="M775.2,515.4 L810.2,473.5" stroke="#f4f4f4" stroke-width="1.4" fill="none" />
<path d="M791,550.3 L850.3,473.5" stroke="#f4f4f4" stroke-width="1.4" fill="none" />
<path d="M827,557.3 L893.4,473.5" stroke="#f4f4f4" stroke-width="1.4" fill="none" />
<path d="M873.6,550.3 L933.6,473.5" stroke="#f4f4f4" stroke-width="1.4" fill="none" />
<path d="M918.4,545.7 L954,501.4" stroke="#f4f4f4" stroke-width="1.4" fill="none" />
<path d="M782.8,480.5 L873.6,548" stroke="#f4f4f4" stroke-width="1.4" fill="none" />
<path d="M775.2,514.8 L827,557.3" stroke="#f4f4f4" stroke-width="1.4" fill="none" />
<path d="M839.8,474.7 L942.3,550.3" stroke="#f4f4f4" stroke-width="1.4" fill="none" />
<path d="M898,473.5 L955,515.4" stroke="#f4f4f4" stroke-width="1.4" fill="none" />
<rect x="860.2" y="491.5" width="15.2" height="36.7" rx="2" fill="#fff" stroke="#bbb" stroke-width="0.5"/>
<circle cx="867.8" cy="498.6" r="4.9" fill="#d81e2a"/>
<circle cx="867.8" cy="510.2" r="4.9" fill="#e8c21a"/>
<circle cx="867.8" cy="521.8" r="4.9" fill="#2aa53c"/>
<path d="M130,504.5 C200,509 250,518 320,518.5 C400,518 470,510 515,507 L130,502 Z" fill="#6e6a62" opacity="0.55"/>
<path d="M95,501 L753,503.3" stroke="#f6e61e" stroke-width="1.9" fill="none"/>
<path d="M95,504.4 L128,504.6 C200,509 250,518 320,518.5 C400,518 470,510 515,507 L753,507" stroke="#f6e61e" stroke-width="1.5" fill="none"/>
<path d="M176,501.3 L185.9,509.9" stroke="#f6e61e" stroke-width="1.6"/>
<path d="M206,501.4 L218.4,512.2" stroke="#f6e61e" stroke-width="1.6"/>
<path d="M237,501.5 L251.1,513.8" stroke="#f6e61e" stroke-width="1.6"/>
<path d="M268,501.6 L285.0,516.4" stroke="#f6e61e" stroke-width="1.6"/>
<path d="M300,501.7 L319.2,518.5" stroke="#f6e61e" stroke-width="1.6"/>
<path d="M328,501.8 L347.0,518.4" stroke="#f6e61e" stroke-width="1.6"/>
<path d="M357,501.9 L374.9,517.4" stroke="#f6e61e" stroke-width="1.6"/>
<path d="M387,502.0 L402.8,515.7" stroke="#f6e61e" stroke-width="1.6"/>
<path d="M419,502.1 L431.7,513.1" stroke="#f6e61e" stroke-width="1.6"/>
<path d="M446,502.2 L456.2,511.1" stroke="#f6e61e" stroke-width="1.6"/>
<path d="M477,502.3 L484.8,509.1" stroke="#f6e61e" stroke-width="1.6"/>
<path d="M95,525 Q380,542 760,541" stroke="#77746d" stroke-width="2.5" fill="none" opacity="0.6"/>
<path d="M553.6,525.8 L753,525.8" stroke="#f6e61e" stroke-width="2.8"/>
<path d="M752.5,502.5 L752.5,546.5" stroke="#f6e61e" stroke-width="2.2"/>
<path d="M700,511 L714,511 L714,534" stroke="#8b8880" stroke-width="1.5" fill="none" opacity="0.6"/>
<path d="M1310,506.8 L975,505.3 A6.4,6.4 0 0 0 975,518.1 L1536,517.7" stroke="#f6e61e" stroke-width="1.8" fill="none"/>
<path d="M1310,506.8 L1536,511" stroke="#f6e61e" stroke-width="1.8" fill="none"/>
<path d="M970,505.6 L979,517.8" stroke="#f6e61e" stroke-width="1.6"/>
<path d="M999,505.6 L1008,517.8" stroke="#f6e61e" stroke-width="1.6"/>
<path d="M1032,505.6 L1041,517.8" stroke="#f6e61e" stroke-width="1.6"/>
<path d="M1061,505.6 L1070,517.8" stroke="#f6e61e" stroke-width="1.6"/>
<path d="M1086,505.6 L1095,517.8" stroke="#f6e61e" stroke-width="1.6"/>
<path d="M1116,505.6 L1125,517.8" stroke="#f6e61e" stroke-width="1.6"/>
<path d="M1148,505.6 L1157,517.8" stroke="#f6e61e" stroke-width="1.6"/>
<path d="M1180,505.6 L1189,517.8" stroke="#f6e61e" stroke-width="1.6"/>
<path d="M1210,505.6 L1219,517.8" stroke="#f6e61e" stroke-width="1.6"/>
<path d="M1241,505.6 L1250,517.8" stroke="#f6e61e" stroke-width="1.6"/>
<path d="M1274,505.6 L1283,517.8" stroke="#f6e61e" stroke-width="1.6"/>
<path d="M1304,505.6 L1313,517.8" stroke="#f6e61e" stroke-width="1.6"/>
<path d="M977,470 L977,504" stroke="#f6e61e" stroke-width="2.2"/>
<path d="M680,521 L696.9,521 L696.9,512" stroke="#fff" stroke-width="2.6" fill="none"/><path d="M696.9,507.5 L700.50,514.50 L696.90,512.75 L693.30,514.50 Z" fill="#fff"/>
<path d="M674.3,535.5 L694,535.5" stroke="#fff" stroke-width="2.6"/><path d="M701,535.5 L693.00,539.50 L695.00,535.50 L693.00,531.50 Z" fill="#fff"/>
<path d="M1066.5,494 L1042,494 M1056,494 L1052.3,486 M1056,494 L1052.3,501" stroke="#fff" stroke-width="2.4" fill="none"/><path d="M1036,494 L1044.00,490.00 L1042.00,494.00 L1044.00,498.00 Z" fill="#fff"/><path d="M1051,482 L1056.68,487.38 L1052.80,486.93 L1050.11,489.77 Z" fill="#fff"/><path d="M1051,505 L1050.11,497.23 L1052.80,500.07 L1056.68,499.62 Z" fill="#fff"/>
<path d="M854,384 L856.5,407 M855.5,398 L848,401 M855.5,398 L862.5,398" stroke="#fff" stroke-width="2.4" fill="none"/><path d="M857.4,414 L852.59,406.46 L856.77,408.03 L860.54,405.63 Z" fill="#fff"/><path d="M843.9,403.5 L849.28,397.82 L848.83,401.70 L851.67,404.39 Z" fill="#fff"/><path d="M867,399 L859.50,401.23 L861.83,398.09 L860.71,394.34 Z" fill="#fff"/>
<path d="M873,618 L882,603 M878,610 L888,611" stroke="#fff" stroke-width="2.2" fill="none"/><path d="M885,598 L884.53,605.81 L882.38,602.55 L878.47,602.31 Z" fill="#fff"/><path d="M891,612 L884.74,614.66 L886.52,611.61 L885.30,608.29 Z" fill="#fff"/><path d="M872,604 L878.31,606.54 L874.89,607.45 L873.41,610.65 Z" fill="#fff"/>
<path d="M828,458 L817.45,455.02 L822.25,453.18 L823.23,448.12 Z" fill="#fff"/>
<path d="M614.7,449 L614.7,455.8" stroke="#fff" stroke-width="2.6" fill="none" />
<path d="M614.7,470.3 L614.7,482.3" stroke="#fff" stroke-width="2.6" fill="none" />
<path d="M614.7,496.8 L614.7,510.5" stroke="#fff" stroke-width="2.6" fill="none" />
<path d="M614.7,524.2 L614.7,537" stroke="#fff" stroke-width="2.6" fill="none" />
<path d="M614.7,551.6 L614.7,563.7" stroke="#fff" stroke-width="2.6" fill="none" />
<path d="M614.7,578 L614.7,583.8" stroke="#fff" stroke-width="2.6" fill="none" />
<path d="M618.5,449 L664,449" stroke="#fff" stroke-width="2.4" fill="none" /><path d="M672,449 L662.00,453.20 L664.50,449.00 L662.00,444.80 Z" fill="#fff"/>
<path d="M617,583.8 L660,583.8" stroke="#fff" stroke-width="2.4" fill="none" /><path d="M668.5,583.8 L658.50,588.00 L661.00,583.80 L658.50,579.60 Z" fill="#fff"/>
<ellipse cx="148" cy="502.3" rx="20.5" ry="15.8" fill="#fff" stroke="#111" stroke-width="1.2"/><text x="148.5" y="508.6" font-size="17.5" fill="#111" text-anchor="middle" textLength="29" lengthAdjust="spacingAndGlyphs">138</text>
<ellipse cx="1500" cy="513.4" rx="20.5" ry="15.8" fill="#fff" stroke="#111" stroke-width="1.2"/><text x="1500.5" y="519.6999999999999" font-size="17.5" fill="#111" text-anchor="middle" textLength="29" lengthAdjust="spacingAndGlyphs">138</text>
<polygon points="142.5,559.5 172.5,591.5 142.5,623.5 112.5,591.5" fill="#161616" stroke="#0b0b0b" stroke-width="1"/>
<polygon points="123.8,582.5 161.2,582.5 169.5,591.5 142.5,620.5 115.5,591.5" fill="#f4c31a"/>
<rect x="123.9" y="583.2" width="37.2" height="19.8" fill="#3a1510"/>
<text x="142.5" y="582.2" font-size="11.4" font-weight="bold" fill="#f0506a" text-anchor="middle" textLength="20.4" lengthAdjust="spacingAndGlyphs">RED</text>
<text x="142.5" y="592.8" font-size="11.4" font-weight="bold" fill="#f8c59a" text-anchor="middle" textLength="36.0" lengthAdjust="spacingAndGlyphs">SIGNAL</text>
<text x="142.5" y="602.1" font-size="11.4" font-weight="bold" fill="#f8c59a" text-anchor="middle" textLength="33.6" lengthAdjust="spacingAndGlyphs">AHEAD</text>
<polygon points="1491.3,393.5 1523.8,426.5 1491.3,459.5 1458.8,426.5" fill="#161616" stroke="#0b0b0b" stroke-width="1"/>
<polygon points="1470.9,417.3 1511.7,417.3 1520.8,426.5 1491.3,456.5 1461.8,426.5" fill="#f4c31a"/>
<rect x="1471.1" y="417.9" width="40.3" height="20.5" fill="#3a1510"/>
<text x="1491.3" y="416.9" font-size="11.7" font-weight="bold" fill="#f0506a" text-anchor="middle" textLength="22.1" lengthAdjust="spacingAndGlyphs">RED</text>
<text x="1491.3" y="427.8" font-size="11.7" font-weight="bold" fill="#f8c59a" text-anchor="middle" textLength="39.0" lengthAdjust="spacingAndGlyphs">SIGNAL</text>
<text x="1491.3" y="437.4" font-size="11.7" font-weight="bold" fill="#f8c59a" text-anchor="middle" textLength="36.4" lengthAdjust="spacingAndGlyphs">AHEAD</text>
<clipPath id="photoclip"><rect x="133" y="665" width="357" height="212" rx="14"/></clipPath>
<g clip-path="url(#photoclip)">
<rect x="133" y="665" width="357" height="212" fill="#34492a"/>
<g filter="url(#blur4)">
<ellipse cx="160" cy="690" rx="30" ry="25" fill="#5d7d44"/>
<ellipse cx="230" cy="690" rx="40" ry="22" fill="#4a6a34"/>
<ellipse cx="290" cy="700" rx="40" ry="25" fill="#5f7f40"/>
<ellipse cx="320" cy="730" rx="30" ry="25" fill="#6f8f48"/>
<ellipse cx="200" cy="740" rx="40" ry="30" fill="#2c4024"/>
<ellipse cx="260" cy="735" rx="40" ry="25" fill="#3a5a2c"/>
<ellipse cx="455" cy="700" rx="35" ry="35" fill="#3f5a2c"/>
<ellipse cx="470" cy="745" rx="25" ry="25" fill="#2f4526"/>
<ellipse cx="440" cy="740" rx="20" ry="20" fill="#38502a"/>
<ellipse cx="290" cy="760" rx="50" ry="8" fill="#7e9a58"/>
<ellipse cx="420" cy="700" rx="20" ry="30" fill="#6a8a4a"/>
<ellipse cx="340" cy="740" rx="15" ry="15" fill="#6f8a4c"/>
<ellipse cx="150" cy="760" rx="20" ry="20" fill="#2e4526"/>
</g>
<polygon points="133,665 490,665 490,780 430,756 390,741 380,741 345,752 290,764 200,773 133,776" filter="url(#foliage2)"/>
<polygon points="133,665 490,665 490,780 430,756 390,741 380,741 345,752 290,764 200,773 133,776" filter="url(#foliage)"/>
<polygon points="350,665 418,665 410,688 398,712 388,733 383,738 377,725 370,705 360,690 352,680" fill="#d3dde8"/>
<polygon points="133,776 200,773 290,764 345,752 380,741 390,741 430,756 490,778 490,877 133,877" fill="#a7a5a2"/>
<polygon points="235,790 300,780 350,765 382,745 395,745 440,770 490,790 490,877 230,877" fill="#b0afac"/>
<polygon points="380,745 392,742 410,760 390,765" fill="#c9c9c9" opacity="0.7"/>
<polygon points="133,777 235,776 235,790 200,790 133,793" fill="#8c8b8a"/>
<polygon points="133,792 200,789 214,796 212,801 180,818 150,833 133,842" fill="#7a8552"/>
<path d="M149,832 Q185,812 213,797" stroke="#c9c6bd" stroke-width="1.3" fill="none"/>
<path d="M138,864 Q190,835 224,814 Q234,806 226,798 Q215,790 199,789" stroke="#f2f2f2" stroke-width="2" fill="none"/>
<path d="M199,789 L233,778" stroke="#eeeeee" stroke-width="1.6" fill="none"/>
<path d="M232,806 L480,806" stroke="#7a7876" stroke-width="1" opacity="0.6"/>
<g filter="url(#blur2)">
<polygon points="408,806 490,798 490,877 322,877 330,866 362,848 395,826" fill="#5a6276"/>
<polygon points="318,842 360,848 340,877 316,877" fill="#6b7280"/>
<ellipse cx="430" cy="840" rx="10" ry="4" fill="#9aa0a8"/>
<ellipse cx="460" cy="820" rx="12" ry="4" fill="#9aa0a8"/>
<ellipse cx="400" cy="860" rx="9" ry="3" fill="#9aa0a8"/>
<ellipse cx="470" cy="860" rx="8" ry="3" fill="#9aa0a8"/>
<ellipse cx="445" cy="812" rx="8" ry="3" fill="#9aa0a8"/>
<ellipse cx="420" cy="822" rx="7" ry="3" fill="#9aa0a8"/>
<ellipse cx="385" cy="845" rx="8" ry="3" fill="#9aa0a8"/>
<ellipse cx="455" cy="845" rx="9" ry="3" fill="#9aa0a8"/>
<ellipse cx="478" cy="835" rx="6" ry="3" fill="#9aa0a8"/>
<ellipse cx="350" cy="868" rx="10" ry="3" fill="#9aa0a8"/>
<ellipse cx="420" cy="868" rx="8" ry="2" fill="#9aa0a8"/>
</g>
<polygon points="430,756 490,760 490,778" fill="#4e6636"/>
<path d="M133,669 L490,673" stroke="#3a3a3a" stroke-width="1"/>
<rect x="177" y="672" width="8" height="132" fill="#b3b1ac"/>
<rect x="185" y="673" width="9" height="131" fill="#5e4532"/>
<rect x="170" y="797" width="16" height="16" fill="#dedbd5"/>
<path d="M183,675 L352,683.5 M183,699 L352,684.7" stroke="#c2c0ba" stroke-width="2" fill="none"/>
<path d="M232,676 L232,690 M276,678 L276,686" stroke="#b0aea8" stroke-width="1.2"/>
<path d="M366,703 L432,712 L432,760" stroke="#9d9b96" stroke-width="1.8" fill="none"/>
<path d="M313,686 L316,760" stroke="#8b8378" stroke-width="2.6"/>
<path d="M343,705 L344,752 M355,712 L355,748" stroke="#8b8378" stroke-width="1" opacity="0.7"/>
<path d="M185,690 L137,780" stroke="#c8c8d0" stroke-width="0.8"/>
<rect x="184" y="721" width="11" height="29" rx="3" fill="#d9a82e"/>
<rect x="346" y="688" width="7" height="19" fill="#d9a030"/><rect x="355" y="688" width="8" height="19" fill="#d9a030"/>
<rect x="363" y="707" width="4" height="10" fill="#222"/><rect x="369" y="707" width="4" height="10" fill="#222"/>
<rect x="232" y="745" width="3" height="20" fill="#6b5040"/><rect x="229" y="746" width="7" height="6" fill="#e8e8f0"/>
<rect x="268" y="747" width="18" height="6" fill="#dfe6ea"/>
<path d="M378,772 Q380,765 386,764 L404,764 Q410,765 411,772 L412,793 L377,793 Z" fill="#c8242f"/>
<rect x="381" y="767" width="27" height="7" rx="2" fill="#7a3238"/>
<rect x="372" y="790" width="8" height="6" fill="#2a2a2e"/>
<rect x="347" y="751" width="14" height="12" rx="2" fill="#3a3c42"/>
<text transform="translate(404,868) rotate(-90) scale(1,1.75)" font-size="33" font-weight="bold" fill="#ececec" textLength="70" lengthAdjust="spacingAndGlyphs">Blue</text>
</g>
<rect x="133.5" y="665.5" width="356" height="211" rx="14" fill="none" stroke="#ece6e0" stroke-width="1.6"/>
<polygon points="470,323 510,323 613.5,452" fill="#d4d4d4" opacity="0.92"/>
<text class="lbl" x="147.5" y="378.2" font-size="14" textLength="119.4" lengthAdjust="spacingAndGlyphs" filter="url(#tshadow)">Install southbound</text>
<text class="lbl" x="147.5" y="393.8" font-size="14" textLength="132.2" lengthAdjust="spacingAndGlyphs" filter="url(#tshadow)">buffered bicycle lane</text>
<text class="lbl" x="367" y="396" font-size="14" textLength="132.7" lengthAdjust="spacingAndGlyphs" filter="url(#tshadow)">Install a left-turn lane</text>
<text class="lbl" x="1176.3" y="399.9" font-size="14" textLength="126.9" lengthAdjust="spacingAndGlyphs" filter="url(#tshadow)">Install new sidewalk</text>
<text class="lbl" x="1376.5" y="338.2" font-size="14" textLength="140.9" lengthAdjust="spacingAndGlyphs" filter="url(#tshadow)">(RED) SIGNAL AHEAD</text>
<text class="lbl" x="1376.5" y="353.6" font-size="14" textLength="26.8" lengthAdjust="spacingAndGlyphs" filter="url(#tshadow)">sign</text>
<text class="lbl" x="225.6" y="603.1" font-size="14" textLength="139.4" lengthAdjust="spacingAndGlyphs" filter="url(#tshadow)">Install &#8220;(RED) SIGNAL</text>
<text class="lbl" x="225.6" y="619" font-size="14" textLength="347.7" lengthAdjust="spacingAndGlyphs" filter="url(#tshadow)">warn road users of upcoming traffic lights and indicate</text>
<text class="lbl" x="225.6" y="634.3" font-size="14" textLength="214.4" lengthAdjust="spacingAndGlyphs" filter="url(#tshadow)">when the light is about to turn red</text>
<text class="lbl" x="1324.6" y="661.5" font-size="14" textLength="115.4" lengthAdjust="spacingAndGlyphs" filter="url(#tshadow)">Install northbound</text>
<text class="lbl" x="1324.6" y="677.8" font-size="14" textLength="130.8" lengthAdjust="spacingAndGlyphs" filter="url(#tshadow)">buffered bicycle lane</text>
<text class="lbl" x="879.4" y="708.3" font-size="14" textLength="4.5" lengthAdjust="spacingAndGlyphs" filter="url(#tshadow)">&#8226;</text>
<text class="lbl" x="887.5" y="708.3" font-size="14" textLength="397.7" lengthAdjust="spacingAndGlyphs" filter="url(#tshadow)">Upgrade traffic signal equipment to include pedestrian signals,</text>
<text class="lbl" x="886.7" y="724.2" font-size="14" textLength="416" lengthAdjust="spacingAndGlyphs" filter="url(#tshadow)">detection for bicycles, and emergency vehicle preemption system</text>
<text class="lbl" x="879.4" y="752.5" font-size="14" textLength="4.5" lengthAdjust="spacingAndGlyphs" filter="url(#tshadow)">&#8226;</text>
<text class="lbl" x="887.5" y="752.5" font-size="14" textLength="399.9" lengthAdjust="spacingAndGlyphs" filter="url(#tshadow)">Install new mast arm poles, add retro reflective backplates, and</text>
<text class="lbl" x="886.7" y="768.2" font-size="14" textLength="358.1" lengthAdjust="spacingAndGlyphs" filter="url(#tshadow)">align signal heads to improve visibility at each approach</text>
<text class="lbl" x="879.4" y="788" font-size="14" textLength="4.5" lengthAdjust="spacingAndGlyphs" filter="url(#tshadow)">&#8226;</text>
<text class="lbl" x="887.5" y="788" font-size="14" textLength="400.4" lengthAdjust="spacingAndGlyphs" filter="url(#tshadow)">Optimize traffic signal timings and adjust clearance intervals to</text>
<text class="lbl" x="886.7" y="804.2" font-size="14" textLength="240.8" lengthAdjust="spacingAndGlyphs" filter="url(#tshadow)">be consistent with MassDOT standard</text>
<text class="lbl" x="879.4" y="828.5" font-size="14" textLength="4.5" lengthAdjust="spacingAndGlyphs" filter="url(#tshadow)">&#8226;</text>
<text class="lbl" x="887.5" y="828.5" font-size="14" textLength="365.4" lengthAdjust="spacingAndGlyphs" filter="url(#tshadow)">Trim vegetation on the approaches to improve visibility of</text>
<text class="lbl" x="890.2" y="844.1" font-size="14" textLength="103.8" lengthAdjust="spacingAndGlyphs" filter="url(#tshadow)">the signal heads</text>
<text class="lbl" x="342.5" y="495.7" font-size="17.5" textLength="110.5" lengthAdjust="spacingAndGlyphs" filter="url(#tshadow)">Blue Hill Ave</text>
<text class="lbl" x="1186" y="534.8" font-size="17.5" textLength="112.2" lengthAdjust="spacingAndGlyphs" filter="url(#tshadow)">Blue Hill Ave</text>
<text class="lbl" transform="translate(874,332) rotate(80)" font-size="16.5" textLength="79" lengthAdjust="spacingAndGlyphs" filter="url(#tshadow)">Milton St</text>
<text class="lbl" transform="translate(740,814) rotate(-57)" font-size="16" textLength="84" lengthAdjust="spacingAndGlyphs" filter="url(#tshadow)">Dollar Ln</text>
<text x="210" y="891.7" font-size="13" fill="#fff" textLength="191" lengthAdjust="spacingAndGlyphs" filter="url(#tshadow)">A picture of the existing roadway</text>
<path d="M291,385.5 L349.2,464.5" stroke="#fff" stroke-width="1.8"/><path d="M352.8,469.3 L342.65,463.12 L347.90,462.66 L349.89,457.78 Z" fill="#fff"/>
<path d="M464.3,407.5 L590.1,513.4" stroke="#fff" stroke-width="1.8"/><path d="M594.7,517.3 L583.39,513.66 L588.39,511.99 L589.18,506.77 Z" fill="#fff"/>
<path d="M217.3,611 L181.9,605.4" stroke="#fff" stroke-width="1.8"/><path d="M176,604.5 L187.57,601.76 L184.15,605.78 L186.17,610.66 Z" fill="#fff"/>
<path d="M1225.5,410.6 L1183.8,462.0" stroke="#fff" stroke-width="1.8"/><path d="M1180,466.7 L1183.43,455.32 L1185.20,460.29 L1190.42,460.99 Z" fill="#fff"/>
<path d="M1424,353 L1467.1,403.1" stroke="#fff" stroke-width="1.8"/><path d="M1471,407.6 L1460.41,402.20 L1465.62,401.35 L1467.23,396.33 Z" fill="#fff"/>
<path d="M1383,644.6 L1306.8,562.4" stroke="#fff" stroke-width="1.8"/><path d="M1302.7,558 L1313.48,563.01 L1308.31,564.05 L1306.88,569.13 Z" fill="#fff"/>
<path d="M992,683 L900.5,553.9" stroke="#fff" stroke-width="1.8"/><path d="M897,549 L907.03,555.37 L901.77,555.73 L899.69,560.58 Z" fill="#fff"/>
</g>
<rect x="95.5" y="71.5" width="1440" height="830" rx="12" fill="none" stroke="#2a2421" stroke-width="1.2"/>
<rect x="110" y="82" width="490" height="241" rx="14" fill="#fff"/>
<rect x="129.10000000000002" y="167.81" width="4.4" height="34.19" fill="#6e4e3c"/>
<circle cx="126.7" cy="149.9" r="3.1" fill="#254a2a" stroke="#254a2a" stroke-width="1.6"/>
<circle cx="127.9" cy="150.5" r="2.9" fill="#254a2a" stroke="#254a2a" stroke-width="1.6"/>
<circle cx="128.5" cy="151.3" r="3.1" fill="#254a2a" stroke="#254a2a" stroke-width="1.6"/>
<circle cx="129.3" cy="152.2" r="3.0" fill="#254a2a" stroke="#254a2a" stroke-width="1.6"/>
<circle cx="130.8" cy="154.8" r="3.3" fill="#254a2a" stroke="#254a2a" stroke-width="1.6"/>
<circle cx="131.8" cy="155.6" r="2.7" fill="#254a2a" stroke="#254a2a" stroke-width="1.6"/>
<circle cx="132.6" cy="158.2" r="3.4" fill="#254a2a" stroke="#254a2a" stroke-width="1.6"/>
<circle cx="134.9" cy="161.8" r="2.4" fill="#254a2a" stroke="#254a2a" stroke-width="1.6"/>
<circle cx="134.6" cy="165.5" r="3.6" fill="#254a2a" stroke="#254a2a" stroke-width="1.6"/>
<circle cx="135.1" cy="167.5" r="3.1" fill="#254a2a" stroke="#254a2a" stroke-width="1.6"/>
<circle cx="135.8" cy="169.2" r="2.4" fill="#254a2a" stroke="#254a2a" stroke-width="1.6"/>
<circle cx="135.1" cy="172.8" r="2.4" fill="#254a2a" stroke="#254a2a" stroke-width="1.6"/>
<circle cx="134.2" cy="174.5" r="2.7" fill="#254a2a" stroke="#254a2a" stroke-width="1.6"/>
<circle cx="133.1" cy="176.3" r="2.9" fill="#254a2a" stroke="#254a2a" stroke-width="1.6"/>
<circle cx="131.1" cy="178.6" r="3.4" fill="#254a2a" stroke="#254a2a" stroke-width="1.6"/>
<circle cx="129.8" cy="180.3" r="3.2" fill="#254a2a" stroke="#254a2a" stroke-width="1.6"/>
<circle cx="128.5" cy="181.2" r="3.2" fill="#254a2a" stroke="#254a2a" stroke-width="1.6"/>
<circle cx="127.2" cy="182.2" r="2.7" fill="#254a2a" stroke="#254a2a" stroke-width="1.6"/>
<circle cx="125.3" cy="181.2" r="3.6" fill="#254a2a" stroke="#254a2a" stroke-width="1.6"/>
<circle cx="124.1" cy="181.1" r="3.2" fill="#254a2a" stroke="#254a2a" stroke-width="1.6"/>
<circle cx="123.1" cy="181.1" r="2.6" fill="#254a2a" stroke="#254a2a" stroke-width="1.6"/>
<circle cx="121.6" cy="180.0" r="2.4" fill="#254a2a" stroke="#254a2a" stroke-width="1.6"/>
<circle cx="120.0" cy="177.1" r="2.9" fill="#254a2a" stroke="#254a2a" stroke-width="1.6"/>
<circle cx="118.7" cy="174.7" r="2.8" fill="#254a2a" stroke="#254a2a" stroke-width="1.6"/>
<circle cx="118.3" cy="171.7" r="3.4" fill="#254a2a" stroke="#254a2a" stroke-width="1.6"/>
<circle cx="117.5" cy="171.5" r="2.6" fill="#254a2a" stroke="#254a2a" stroke-width="1.6"/>
<circle cx="117.4" cy="166.5" r="2.9" fill="#254a2a" stroke="#254a2a" stroke-width="1.6"/>
<circle cx="117.8" cy="163.5" r="2.8" fill="#254a2a" stroke="#254a2a" stroke-width="1.6"/>
<circle cx="118.2" cy="163.0" r="3.1" fill="#254a2a" stroke="#254a2a" stroke-width="1.6"/>
<circle cx="119.3" cy="158.5" r="2.7" fill="#254a2a" stroke="#254a2a" stroke-width="1.6"/>
<circle cx="119.9" cy="157.5" r="2.8" fill="#254a2a" stroke="#254a2a" stroke-width="1.6"/>
<circle cx="122.3" cy="154.1" r="3.3" fill="#254a2a" stroke="#254a2a" stroke-width="1.6"/>
<circle cx="122.4" cy="153.1" r="2.7" fill="#254a2a" stroke="#254a2a" stroke-width="1.6"/>
<circle cx="123.5" cy="151.3" r="2.4" fill="#254a2a" stroke="#254a2a" stroke-width="1.6"/>
<circle cx="125.2" cy="149.8" r="2.6" fill="#254a2a" stroke="#254a2a" stroke-width="1.6"/>
<circle cx="125.9" cy="149.8" r="2.9" fill="#254a2a" stroke="#254a2a" stroke-width="1.6"/>
<polygon points="135.3,165.9 135.4,168.0 135.3,170.1 134.9,172.1 134.3,174.0 133.5,175.8 132.6,177.4 131.6,178.8 130.5,180.0 129.5,180.9 128.4,181.6 127.4,182.0 126.3,182.2 125.3,182.0 124.3,181.6 123.2,180.9 122.2,180.0 121.1,178.8 120.1,177.4 119.2,175.8 118.4,174.0 117.8,172.1 117.4,170.1 117.3,168.0 117.4,165.9 117.7,163.8 118.2,161.7 119.0,159.7 119.8,157.8 120.7,156.0 121.7,154.4 122.6,153.0 123.5,151.8 124.3,150.9 125.0,150.2 125.7,149.8 126.3,149.6 127.0,149.8 127.7,150.2 128.4,150.9 129.2,151.8 130.1,153.0 131.0,154.4 132.0,156.0 132.9,157.8 133.7,159.7 134.5,161.7 135.0,163.8" fill="#467f4a" stroke="#467f4a" stroke-width="1"/>
<circle cx="126.7" cy="149.9" r="3.1" fill="#467f4a"/>
<circle cx="127.9" cy="150.5" r="2.9" fill="#467f4a"/>
<circle cx="128.5" cy="151.3" r="3.1" fill="#467f4a"/>
<circle cx="129.3" cy="152.2" r="3.0" fill="#467f4a"/>
<circle cx="130.8" cy="154.8" r="3.3" fill="#467f4a"/>
<circle cx="131.8" cy="155.6" r="2.7" fill="#467f4a"/>
<circle cx="132.6" cy="158.2" r="3.4" fill="#467f4a"/>
<circle cx="134.9" cy="161.8" r="2.4" fill="#467f4a"/>
<circle cx="134.6" cy="165.5" r="3.6" fill="#467f4a"/>
<circle cx="135.1" cy="167.5" r="3.1" fill="#467f4a"/>
<circle cx="135.8" cy="169.2" r="2.4" fill="#467f4a"/>
<circle cx="135.1" cy="172.8" r="2.4" fill="#467f4a"/>
<circle cx="134.2" cy="174.5" r="2.7" fill="#467f4a"/>
<circle cx="133.1" cy="176.3" r="2.9" fill="#467f4a"/>
<circle cx="131.1" cy="178.6" r="3.4" fill="#467f4a"/>
<circle cx="129.8" cy="180.3" r="3.2" fill="#467f4a"/>
<circle cx="128.5" cy="181.2" r="3.2" fill="#467f4a"/>
<circle cx="127.2" cy="182.2" r="2.7" fill="#467f4a"/>
<circle cx="125.3" cy="181.2" r="3.6" fill="#467f4a"/>
<circle cx="124.1" cy="181.1" r="3.2" fill="#467f4a"/>
<circle cx="123.1" cy="181.1" r="2.6" fill="#467f4a"/>
<circle cx="121.6" cy="180.0" r="2.4" fill="#467f4a"/>
<circle cx="120.0" cy="177.1" r="2.9" fill="#467f4a"/>
<circle cx="118.7" cy="174.7" r="2.8" fill="#467f4a"/>
<circle cx="118.3" cy="171.7" r="3.4" fill="#467f4a"/>
<circle cx="117.5" cy="171.5" r="2.6" fill="#467f4a"/>
<circle cx="117.4" cy="166.5" r="2.9" fill="#467f4a"/>
<circle cx="117.8" cy="163.5" r="2.8" fill="#467f4a"/>
<circle cx="118.2" cy="163.0" r="3.1" fill="#467f4a"/>
<circle cx="119.3" cy="158.5" r="2.7" fill="#467f4a"/>
<circle cx="119.9" cy="157.5" r="2.8" fill="#467f4a"/>
<circle cx="122.3" cy="154.1" r="3.3" fill="#467f4a"/>
<circle cx="122.4" cy="153.1" r="2.7" fill="#467f4a"/>
<circle cx="123.5" cy="151.3" r="2.4" fill="#467f4a"/>
<circle cx="125.2" cy="149.8" r="2.6" fill="#467f4a"/>
<circle cx="125.9" cy="149.8" r="2.9" fill="#467f4a"/>
<circle cx="128.7" cy="177.5" r="2.0" fill="#36693b"/>
<circle cx="122.5" cy="172.0" r="1.2" fill="#36693b"/>
<circle cx="130.2" cy="155.1" r="1.8" fill="#3c7040"/>
<circle cx="128.5" cy="161.5" r="3.2" fill="#528c52"/>
<circle cx="122.3" cy="159.3" r="3.2" fill="#5d9a5d"/>
<circle cx="127.2" cy="173.1" r="1.9" fill="#3c7040"/>
<circle cx="125.8" cy="169.7" r="1.6" fill="#5d9a5d"/>
<circle cx="125.9" cy="164.5" r="1.9" fill="#2f5e35"/>
<circle cx="118.3" cy="170.0" r="2.9" fill="#528c52"/>
<circle cx="129.6" cy="172.7" r="1.5" fill="#6aa068"/>
<circle cx="131.5" cy="158.7" r="2.7" fill="#36693b"/>
<circle cx="129.7" cy="175.6" r="1.6" fill="#3c7040"/>
<circle cx="133.2" cy="161.7" r="1.4" fill="#3c7040"/>
<circle cx="129.0" cy="167.3" r="3.1" fill="#3c7040"/>
<circle cx="126.8" cy="178.1" r="2.0" fill="#2f5e35"/>
<circle cx="130.3" cy="160.2" r="1.6" fill="#3c7040"/>
<circle cx="126.1" cy="162.2" r="2.2" fill="#36693b"/>
<circle cx="123.9" cy="156.5" r="1.8" fill="#5d9a5d"/>
<circle cx="129.1" cy="162.6" r="1.3" fill="#5d9a5d"/>
<path d="M157.5,145.4 L156.5,202 L164.5,202 L163.5,145.4 Z" fill="#a29d96"/>
<path d="M160.5,185.4 L169.5,175.4 M160.5,187.4 L152.5,177.4" stroke="#a29d96" stroke-width="2.2"/>
<circle cx="159.3" cy="110.8" r="9.3" fill="#5a8a50" stroke="#5a8a50" stroke-width="1.6"/>
<circle cx="163.3" cy="110.8" r="7.4" fill="#5a8a50" stroke="#5a8a50" stroke-width="1.6"/>
<circle cx="165.3" cy="113.3" r="8.3" fill="#5a8a50" stroke="#5a8a50" stroke-width="1.6"/>
<circle cx="169.8" cy="119.6" r="9.9" fill="#5a8a50" stroke="#5a8a50" stroke-width="1.6"/>
<circle cx="176.1" cy="126.6" r="9.1" fill="#5a8a50" stroke="#5a8a50" stroke-width="1.6"/>
<circle cx="179.7" cy="133.0" r="9.4" fill="#5a8a50" stroke="#5a8a50" stroke-width="1.6"/>
<circle cx="182.8" cy="138.3" r="8.5" fill="#5a8a50" stroke="#5a8a50" stroke-width="1.6"/>
<circle cx="183.0" cy="146.2" r="10.3" fill="#5a8a50" stroke="#5a8a50" stroke-width="1.6"/>
<circle cx="183.1" cy="153.3" r="9.9" fill="#5a8a50" stroke="#5a8a50" stroke-width="1.6"/>
<circle cx="181.5" cy="160.7" r="9.5" fill="#5a8a50" stroke="#5a8a50" stroke-width="1.6"/>
<circle cx="177.8" cy="169.0" r="8.4" fill="#5a8a50" stroke="#5a8a50" stroke-width="1.6"/>
<circle cx="171.8" cy="177.0" r="7.0" fill="#5a8a50" stroke="#5a8a50" stroke-width="1.6"/>
<circle cx="167.9" cy="175.9" r="10.3" fill="#5a8a50" stroke="#5a8a50" stroke-width="1.6"/>
<circle cx="161.9" cy="181.7" r="7.3" fill="#5a8a50" stroke="#5a8a50" stroke-width="1.6"/>
<circle cx="155.1" cy="178.6" r="10.4" fill="#5a8a50" stroke="#5a8a50" stroke-width="1.6"/>
<circle cx="152.7" cy="179.9" r="8.5" fill="#5a8a50" stroke="#5a8a50" stroke-width="1.6"/>
<circle cx="147.1" cy="177.4" r="8.1" fill="#5a8a50" stroke="#5a8a50" stroke-width="1.6"/>
<circle cx="139.9" cy="171.7" r="7.5" fill="#5a8a50" stroke="#5a8a50" stroke-width="1.6"/>
<circle cx="134.8" cy="165.3" r="7.1" fill="#5a8a50" stroke="#5a8a50" stroke-width="1.6"/>
<circle cx="135.1" cy="159.4" r="9.9" fill="#5a8a50" stroke="#5a8a50" stroke-width="1.6"/>
<circle cx="131.8" cy="151.2" r="8.5" fill="#5a8a50" stroke="#5a8a50" stroke-width="1.6"/>
<circle cx="132.7" cy="142.2" r="8.7" fill="#5a8a50" stroke="#5a8a50" stroke-width="1.6"/>
<circle cx="133.6" cy="135.1" r="7.0" fill="#5a8a50" stroke="#5a8a50" stroke-width="1.6"/>
<circle cx="141.2" cy="127.7" r="10.5" fill="#5a8a50" stroke="#5a8a50" stroke-width="1.6"/>
<circle cx="145.9" cy="120.1" r="9.4" fill="#5a8a50" stroke="#5a8a50" stroke-width="1.6"/>
<circle cx="148.1" cy="116.3" r="8.3" fill="#5a8a50" stroke="#5a8a50" stroke-width="1.6"/>
<circle cx="153.3" cy="112.9" r="9.4" fill="#5a8a50" stroke="#5a8a50" stroke-width="1.6"/>
<circle cx="155.2" cy="110.0" r="7.8" fill="#5a8a50" stroke="#5a8a50" stroke-width="1.6"/>
<polygon points="184.8,145.4 185.0,150.1 184.6,154.6 183.4,159.1 181.6,163.2 179.3,167.1 176.6,170.6 173.7,173.7 170.7,176.3 167.6,178.4 164.5,179.9 161.4,180.8 158.3,181.1 155.2,180.8 152.1,179.9 149.0,178.4 145.9,176.3 142.9,173.7 140.0,170.6 137.3,167.1 135.0,163.2 133.2,159.1 132.0,154.6 131.6,150.1 131.8,145.4 132.8,140.7 134.4,136.2 136.5,131.7 139.0,127.6 141.8,123.7 144.6,120.2 147.4,117.1 150.0,114.5 152.3,112.4 154.5,110.9 156.4,110.0 158.3,109.7 160.2,110.0 162.1,110.9 164.3,112.4 166.6,114.5 169.2,117.1 172.0,120.2 174.8,123.7 177.6,127.6 180.1,131.7 182.2,136.2 183.8,140.7" fill="#a3cf8c" stroke="#a3cf8c" stroke-width="1"/>
<circle cx="159.3" cy="110.8" r="9.3" fill="#a3cf8c"/>
<circle cx="163.3" cy="110.8" r="7.4" fill="#a3cf8c"/>
<circle cx="165.3" cy="113.3" r="8.3" fill="#a3cf8c"/>
<circle cx="169.8" cy="119.6" r="9.9" fill="#a3cf8c"/>
<circle cx="176.1" cy="126.6" r="9.1" fill="#a3cf8c"/>
<circle cx="179.7" cy="133.0" r="9.4" fill="#a3cf8c"/>
<circle cx="182.8" cy="138.3" r="8.5" fill="#a3cf8c"/>
<circle cx="183.0" cy="146.2" r="10.3" fill="#a3cf8c"/>
<circle cx="183.1" cy="153.3" r="9.9" fill="#a3cf8c"/>
<circle cx="181.5" cy="160.7" r="9.5" fill="#a3cf8c"/>
<circle cx="177.8" cy="169.0" r="8.4" fill="#a3cf8c"/>
<circle cx="171.8" cy="177.0" r="7.0" fill="#a3cf8c"/>
<circle cx="167.9" cy="175.9" r="10.3" fill="#a3cf8c"/>
<circle cx="161.9" cy="181.7" r="7.3" fill="#a3cf8c"/>
<circle cx="155.1" cy="178.6" r="10.4" fill="#a3cf8c"/>
<circle cx="152.7" cy="179.9" r="8.5" fill="#a3cf8c"/>
<circle cx="147.1" cy="177.4" r="8.1" fill="#a3cf8c"/>
<circle cx="139.9" cy="171.7" r="7.5" fill="#a3cf8c"/>
<circle cx="134.8" cy="165.3" r="7.1" fill="#a3cf8c"/>
<circle cx="135.1" cy="159.4" r="9.9" fill="#a3cf8c"/>
<circle cx="131.8" cy="151.2" r="8.5" fill="#a3cf8c"/>
<circle cx="132.7" cy="142.2" r="8.7" fill="#a3cf8c"/>
<circle cx="133.6" cy="135.1" r="7.0" fill="#a3cf8c"/>
<circle cx="141.2" cy="127.7" r="10.5" fill="#a3cf8c"/>
<circle cx="145.9" cy="120.1" r="9.4" fill="#a3cf8c"/>
<circle cx="148.1" cy="116.3" r="8.3" fill="#a3cf8c"/>
<circle cx="153.3" cy="112.9" r="9.4" fill="#a3cf8c"/>
<circle cx="155.2" cy="110.0" r="7.8" fill="#a3cf8c"/>
<circle cx="145.8" cy="164.7" r="2.7" fill="#a9d394"/>
<circle cx="165.1" cy="165.3" r="2.1" fill="#a9d394"/>
<circle cx="145.6" cy="143.4" r="1.3" fill="#79aa66"/>
<circle cx="163.8" cy="172.1" r="2.3" fill="#a9d394"/>
<circle cx="167.6" cy="172.2" r="2.1" fill="#c0e0aa"/>
<circle cx="136.7" cy="145.7" r="1.3" fill="#6a9a5c"/>
<circle cx="145.7" cy="149.5" r="2.1" fill="#86b773"/>
<circle cx="153.5" cy="114.2" r="3.1" fill="#b6da9f"/>
<circle cx="170.6" cy="175.2" r="1.6" fill="#86b773"/>
<circle cx="159.0" cy="128.7" r="1.2" fill="#93c27e"/>
<circle cx="155.8" cy="176.5" r="1.6" fill="#86b773"/>
<circle cx="161.4" cy="121.1" r="2.4" fill="#b6da9f"/>
<circle cx="185.3" cy="141.8" r="1.5" fill="#93c27e"/>
<circle cx="178.6" cy="130.7" r="2.9" fill="#6a9a5c"/>
<circle cx="152.4" cy="132.3" r="2.2" fill="#93c27e"/>
<circle cx="141.7" cy="146.8" r="3.1" fill="#6a9a5c"/>
<circle cx="165.2" cy="136.5" r="2.4" fill="#86b773"/>
<circle cx="174.0" cy="151.2" r="2.2" fill="#a9d394"/>
<circle cx="153.8" cy="117.1" r="2.7" fill="#b6da9f"/>
<circle cx="153.8" cy="144.6" r="2.6" fill="#c0e0aa"/>
<circle cx="175.5" cy="170.2" r="1.5" fill="#79aa66"/>
<circle cx="163.6" cy="168.7" r="2.3" fill="#c0e0aa"/>
<circle cx="144.5" cy="121.2" r="2.7" fill="#86b773"/>
<circle cx="139.5" cy="158.9" r="2.8" fill="#79aa66"/>
<circle cx="146.2" cy="135.2" r="2.5" fill="#86b773"/>
<circle cx="150.0" cy="154.9" r="2.6" fill="#6a9a5c"/>
<circle cx="174.7" cy="127.3" r="3.0" fill="#c0e0aa"/>
<circle cx="135.5" cy="138.5" r="2.8" fill="#79aa66"/>
<circle cx="156.6" cy="130.4" r="3.1" fill="#86b773"/>
<circle cx="153.8" cy="121.0" r="2.4" fill="#93c27e"/>
<circle cx="162.9" cy="172.2" r="2.0" fill="#6a9a5c"/>
<circle cx="158.7" cy="168.2" r="1.4" fill="#86b773"/>
<circle cx="147.7" cy="171.1" r="1.8" fill="#6a9a5c"/>
<circle cx="153.6" cy="116.1" r="2.5" fill="#6a9a5c"/>
<circle cx="147.3" cy="151.3" r="2.2" fill="#b6da9f"/>
<circle cx="147.0" cy="150.6" r="2.4" fill="#6a9a5c"/>
<circle cx="132.5" cy="154.4" r="3.1" fill="#c0e0aa"/>
<circle cx="175.1" cy="146.4" r="2.9" fill="#86b773"/>
<circle cx="155.0" cy="127.4" r="3.0" fill="#93c27e"/>
<circle cx="135.1" cy="145.2" r="2.2" fill="#b6da9f"/>
<circle cx="143.4" cy="161.6" r="1.7" fill="#6a9a5c"/>
<circle cx="132.8" cy="153.7" r="2.7" fill="#a9d394"/>
<circle cx="138.8" cy="161.8" r="2.0" fill="#a9d394"/>
<circle cx="151.9" cy="119.6" r="2.3" fill="#c0e0aa"/>
<circle cx="154.1" cy="126.2" r="1.2" fill="#6a9a5c"/>
<circle cx="160.5" cy="112.0" r="1.8" fill="#6a9a5c"/>
<circle cx="166.7" cy="158.2" r="1.5" fill="#93c27e"/>
<circle cx="140.0" cy="146.2" r="1.8" fill="#86b773"/>
<circle cx="175.8" cy="134.6" r="2.8" fill="#79aa66"/>
<circle cx="161.3" cy="118.4" r="1.5" fill="#b6da9f"/>
<circle cx="147.2" cy="120.0" r="2.8" fill="#93c27e"/>
<circle cx="145.5" cy="161.5" r="1.7" fill="#6a9a5c"/>
<circle cx="143.9" cy="157.5" r="3.1" fill="#79aa66"/>
<circle cx="161.1" cy="131.4" r="1.6" fill="#a9d394"/>
<circle cx="157.6" cy="180.6" r="3.0" fill="#93c27e"/>
<circle cx="169.1" cy="124.2" r="2.8" fill="#6a9a5c"/>
<circle cx="143.9" cy="169.1" r="2.7" fill="#86b773"/>
<circle cx="165.0" cy="130.0" r="1.6" fill="#a9d394"/>
<circle cx="160.7" cy="141.6" r="1.3" fill="#86b773"/>
<circle cx="161.0" cy="130.7" r="2.6" fill="#b6da9f"/>
<circle cx="155.2" cy="160.3" r="2.7" fill="#b6da9f"/>
<circle cx="154.7" cy="143.9" r="1.9" fill="#c0e0aa"/>
<circle cx="145.9" cy="145.6" r="2.3" fill="#c0e0aa"/>
<circle cx="148.7" cy="119.4" r="2.2" fill="#93c27e"/>
<circle cx="154.3" cy="165.9" r="2.0" fill="#a9d394"/>
<circle cx="140.9" cy="158.5" r="2.9" fill="#6a9a5c"/>
<circle cx="169.3" cy="147.2" r="2.9" fill="#a9d394"/>
<circle cx="152.5" cy="112.9" r="2.8" fill="#6a9a5c"/>
<circle cx="134.4" cy="134.8" r="2.7" fill="#86b773"/>
<circle cx="161.7" cy="134.5" r="1.7" fill="#c0e0aa"/>
<circle cx="135.8" cy="160.3" r="1.2" fill="#a9d394"/>
<circle cx="158.3" cy="157.4" r="2.3" fill="#6a9a5c"/>
<circle cx="176.3" cy="131.3" r="2.7" fill="#6a9a5c"/>
<circle cx="162.4" cy="143.5" r="2.4" fill="#b6da9f"/>
<circle cx="162.5" cy="118.7" r="2.7" fill="#79aa66"/>
<circle cx="139.8" cy="157.6" r="2.8" fill="#86b773"/>
<circle cx="141.0" cy="163.7" r="3.1" fill="#86b773"/>
<circle cx="182.1" cy="142.8" r="1.5" fill="#86b773"/>
<circle cx="171.9" cy="162.7" r="2.5" fill="#b6da9f"/>
<circle cx="171.7" cy="146.7" r="2.1" fill="#79aa66"/>
<circle cx="149.4" cy="164.6" r="1.9" fill="#86b773"/>
<circle cx="139.6" cy="167.8" r="2.2" fill="#a9d394"/>
<circle cx="165.1" cy="171.9" r="2.4" fill="#93c27e"/>
<circle cx="173.6" cy="153.6" r="2.4" fill="#86b773"/>
<circle cx="172.2" cy="164.2" r="2.7" fill="#79aa66"/>
<circle cx="158.1" cy="168.5" r="1.4" fill="#c0e0aa"/>
<circle cx="144.5" cy="132.4" r="2.3" fill="#86b773"/>
<circle cx="144.3" cy="130.0" r="1.9" fill="#79aa66"/>
<circle cx="140.1" cy="169.5" r="3.1" fill="#86b773"/>
<circle cx="153.5" cy="139.9" r="2.0" fill="#93c27e"/>
<circle cx="162.3" cy="164.9" r="2.4" fill="#86b773"/>
<circle cx="162.8" cy="135.0" r="1.9" fill="#86b773"/>
<circle cx="152.1" cy="126.6" r="1.9" fill="#93c27e"/>
<circle cx="135.0" cy="137.8" r="1.4" fill="#93c27e"/>
<circle cx="158.3" cy="177.5" r="2.5" fill="#c0e0aa"/>
<circle cx="166.4" cy="166.2" r="1.3" fill="#86b773"/>
<circle cx="155.6" cy="131.1" r="2.5" fill="#86b773"/>
<circle cx="148.6" cy="124.6" r="2.7" fill="#79aa66"/>
<circle cx="154.9" cy="157.5" r="2.0" fill="#79aa66"/>
<circle cx="141.7" cy="150.0" r="3.0" fill="#6a9a5c"/>
<circle cx="164.7" cy="171.3" r="2.7" fill="#a9d394"/>
<circle cx="135.8" cy="145.1" r="2.9" fill="#93c27e"/>
<circle cx="149.5" cy="164.5" r="1.2" fill="#b6da9f"/>
<circle cx="173.0" cy="125.2" r="2.5" fill="#79aa66"/>
<circle cx="154.0" cy="169.4" r="2.9" fill="#6a9a5c"/>
<circle cx="144.4" cy="154.9" r="2.0" fill="#86b773"/>
<circle cx="161.5" cy="133.6" r="1.4" fill="#79aa66"/>
<circle cx="154.8" cy="158.7" r="2.8" fill="#c0e0aa"/>
<circle cx="141.1" cy="137.2" r="2.4" fill="#86b773"/>
<circle cx="166.8" cy="139.8" r="2.0" fill="#b6da9f"/>
<circle cx="145.0" cy="142.1" r="2.8" fill="#93c27e"/>
<circle cx="159.5" cy="133.0" r="2.7" fill="#b6da9f"/>
<circle cx="136.9" cy="135.3" r="1.3" fill="#86b773"/>
<circle cx="141.9" cy="138.6" r="2.4" fill="#79aa66"/>
<circle cx="167.5" cy="175.4" r="2.9" fill="#a9d394"/>
<circle cx="172.9" cy="152.4" r="2.0" fill="#79aa66"/>
<circle cx="161.2" cy="136.7" r="3.0" fill="#93c27e"/>
<circle cx="138.3" cy="141.7" r="3.1" fill="#a9d394"/>
<circle cx="158.7" cy="122.9" r="2.9" fill="#c0e0aa"/>
<circle cx="140.4" cy="169.7" r="1.9" fill="#c0e0aa"/>
<circle cx="179.2" cy="158.4" r="3.2" fill="#86b773"/>
<circle cx="161.3" cy="167.8" r="2.2" fill="#a9d394"/>
<circle cx="152.1" cy="151.7" r="2.6" fill="#6a9a5c"/>
<circle cx="169.2" cy="124.3" r="2.6" fill="#86b773"/>
<circle cx="146.2" cy="169.1" r="1.3" fill="#a9d394"/>
<circle cx="168.2" cy="143.4" r="1.5" fill="#93c27e"/>
<circle cx="160.8" cy="120.7" r="1.6" fill="#b6da9f"/>
<circle cx="165.6" cy="116.1" r="2.9" fill="#b6da9f"/>
<circle cx="168.9" cy="147.1" r="2.3" fill="#79aa66"/>
<circle cx="154.2" cy="115.9" r="1.7" fill="#a9d394"/>
<rect x="176.0" y="166.755" width="4.4" height="35.245000000000005" fill="#6e4e3c"/>
<circle cx="177.7" cy="147.2" r="4.7" fill="#254a2a" stroke="#254a2a" stroke-width="1.6"/>
<circle cx="179.7" cy="148.4" r="5.0" fill="#254a2a" stroke="#254a2a" stroke-width="1.6"/>
<circle cx="181.3" cy="148.4" r="3.9" fill="#254a2a" stroke="#254a2a" stroke-width="1.6"/>
<circle cx="183.5" cy="150.6" r="3.9" fill="#254a2a" stroke="#254a2a" stroke-width="1.6"/>
<circle cx="187.0" cy="154.8" r="3.7" fill="#254a2a" stroke="#254a2a" stroke-width="1.6"/>
<circle cx="188.8" cy="158.0" r="3.9" fill="#254a2a" stroke="#254a2a" stroke-width="1.6"/>
<circle cx="189.9" cy="161.4" r="4.3" fill="#254a2a" stroke="#254a2a" stroke-width="1.6"/>
<circle cx="190.4" cy="166.7" r="4.6" fill="#254a2a" stroke="#254a2a" stroke-width="1.6"/>
<circle cx="190.9" cy="168.6" r="4.0" fill="#254a2a" stroke="#254a2a" stroke-width="1.6"/>
<circle cx="188.7" cy="172.3" r="5.1" fill="#254a2a" stroke="#254a2a" stroke-width="1.6"/>
<circle cx="186.0" cy="176.8" r="4.9" fill="#254a2a" stroke="#254a2a" stroke-width="1.6"/>
<circle cx="183.6" cy="179.2" r="4.8" fill="#254a2a" stroke="#254a2a" stroke-width="1.6"/>
<circle cx="180.8" cy="180.9" r="4.9" fill="#254a2a" stroke="#254a2a" stroke-width="1.6"/>
<circle cx="179.5" cy="181.3" r="5.0" fill="#254a2a" stroke="#254a2a" stroke-width="1.6"/>
<circle cx="176.6" cy="181.7" r="4.9" fill="#254a2a" stroke="#254a2a" stroke-width="1.6"/>
<circle cx="173.8" cy="181.5" r="4.3" fill="#254a2a" stroke="#254a2a" stroke-width="1.6"/>
<circle cx="171.6" cy="180.1" r="4.3" fill="#254a2a" stroke="#254a2a" stroke-width="1.6"/>
<circle cx="168.7" cy="178.4" r="3.7" fill="#254a2a" stroke="#254a2a" stroke-width="1.6"/>
<circle cx="166.7" cy="173.5" r="4.9" fill="#254a2a" stroke="#254a2a" stroke-width="1.6"/>
<circle cx="165.0" cy="169.7" r="4.7" fill="#254a2a" stroke="#254a2a" stroke-width="1.6"/>
<circle cx="164.8" cy="167.0" r="4.8" fill="#254a2a" stroke="#254a2a" stroke-width="1.6"/>
<circle cx="164.8" cy="164.2" r="4.7" fill="#254a2a" stroke="#254a2a" stroke-width="1.6"/>
<circle cx="165.4" cy="159.3" r="3.8" fill="#254a2a" stroke="#254a2a" stroke-width="1.6"/>
<circle cx="167.6" cy="156.4" r="4.4" fill="#254a2a" stroke="#254a2a" stroke-width="1.6"/>
<circle cx="169.9" cy="153.0" r="4.3" fill="#254a2a" stroke="#254a2a" stroke-width="1.6"/>
<circle cx="172.7" cy="149.6" r="4.2" fill="#254a2a" stroke="#254a2a" stroke-width="1.6"/>
<circle cx="174.2" cy="148.5" r="4.4" fill="#254a2a" stroke="#254a2a" stroke-width="1.6"/>
<circle cx="176.1" cy="146.7" r="3.9" fill="#254a2a" stroke="#254a2a" stroke-width="1.6"/>
<polygon points="190.7,164.6 190.8,166.9 190.6,169.2 190.0,171.4 189.1,173.5 187.9,175.4 186.6,177.2 185.2,178.7 183.6,180.0 182.1,181.1 180.5,181.8 179.0,182.3 177.4,182.4 175.9,182.3 174.4,181.8 172.8,181.1 171.3,180.0 169.7,178.7 168.3,177.2 167.0,175.4 165.8,173.5 164.9,171.4 164.3,169.2 164.1,166.9 164.2,164.6 164.7,162.2 165.5,159.9 166.6,157.7 167.8,155.6 169.2,153.7 170.6,151.9 172.0,150.4 173.3,149.1 174.5,148.0 175.5,147.3 176.5,146.8 177.4,146.7 178.4,146.8 179.4,147.3 180.4,148.0 181.6,149.1 182.9,150.4 184.3,151.9 185.7,153.7 187.1,155.6 188.3,157.7 189.4,159.9 190.2,162.2" fill="#467f4a" stroke="#467f4a" stroke-width="1"/>
<circle cx="177.7" cy="147.2" r="4.7" fill="#467f4a"/>
<circle cx="179.7" cy="148.4" r="5.0" fill="#467f4a"/>
<circle cx="181.3" cy="148.4" r="3.9" fill="#467f4a"/>
<circle cx="183.5" cy="150.6" r="3.9" fill="#467f4a"/>
<circle cx="187.0" cy="154.8" r="3.7" fill="#467f4a"/>
<circle cx="188.8" cy="158.0" r="3.9" fill="#467f4a"/>
<circle cx="189.9" cy="161.4" r="4.3" fill="#467f4a"/>
<circle cx="190.4" cy="166.7" r="4.6" fill="#467f4a"/>
<circle cx="190.9" cy="168.6" r="4.0" fill="#467f4a"/>
<circle cx="188.7" cy="172.3" r="5.1" fill="#467f4a"/>
<circle cx="186.0" cy="176.8" r="4.9" fill="#467f4a"/>
<circle cx="183.6" cy="179.2" r="4.8" fill="#467f4a"/>
<circle cx="180.8" cy="180.9" r="4.9" fill="#467f4a"/>
<circle cx="179.5" cy="181.3" r="5.0" fill="#467f4a"/>
<circle cx="176.6" cy="181.7" r="4.9" fill="#467f4a"/>
<circle cx="173.8" cy="181.5" r="4.3" fill="#467f4a"/>
<circle cx="171.6" cy="180.1" r="4.3" fill="#467f4a"/>
<circle cx="168.7" cy="178.4" r="3.7" fill="#467f4a"/>
<circle cx="166.7" cy="173.5" r="4.9" fill="#467f4a"/>
<circle cx="165.0" cy="169.7" r="4.7" fill="#467f4a"/>
<circle cx="164.8" cy="167.0" r="4.8" fill="#467f4a"/>
<circle cx="164.8" cy="164.2" r="4.7" fill="#467f4a"/>
<circle cx="165.4" cy="159.3" r="3.8" fill="#467f4a"/>
<circle cx="167.6" cy="156.4" r="4.4" fill="#467f4a"/>
<circle cx="169.9" cy="153.0" r="4.3" fill="#467f4a"/>
<circle cx="172.7" cy="149.6" r="4.2" fill="#467f4a"/>
<circle cx="174.2" cy="148.5" r="4.4" fill="#467f4a"/>
<circle cx="176.1" cy="146.7" r="3.9" fill="#467f4a"/>
<circle cx="179.9" cy="174.2" r="2.1" fill="#5d9a5d"/>
<circle cx="173.0" cy="156.1" r="2.6" fill="#5d9a5d"/>
<circle cx="179.6" cy="163.1" r="2.2" fill="#36693b"/>
<circle cx="175.9" cy="153.8" r="1.5" fill="#2f5e35"/>
<circle cx="166.9" cy="172.8" r="1.6" fill="#2f5e35"/>
<circle cx="180.7" cy="156.3" r="2.5" fill="#6aa068"/>
<circle cx="184.6" cy="156.3" r="2.6" fill="#36693b"/>
<circle cx="179.6" cy="177.6" r="2.6" fill="#3c7040"/>
<circle cx="187.4" cy="167.7" r="1.9" fill="#3c7040"/>
<circle cx="176.1" cy="171.2" r="2.3" fill="#6aa068"/>
<circle cx="180.9" cy="160.5" r="2.5" fill="#528c52"/>
<circle cx="169.3" cy="160.2" r="3.1" fill="#5d9a5d"/>
<circle cx="180.4" cy="152.4" r="1.2" fill="#3c7040"/>
<circle cx="182.0" cy="164.5" r="3.0" fill="#2f5e35"/>
<circle cx="168.6" cy="158.9" r="2.2" fill="#528c52"/>
<circle cx="178.4" cy="162.0" r="1.9" fill="#2f5e35"/>
<circle cx="164.6" cy="164.9" r="2.8" fill="#3c7040"/>
<circle cx="178.3" cy="172.2" r="2.0" fill="#5d9a5d"/>
<circle cx="176.8" cy="158.0" r="1.7" fill="#36693b"/>
<circle cx="174.6" cy="150.2" r="2.0" fill="#2f5e35"/>
<circle cx="178.4" cy="179.5" r="1.8" fill="#3c7040"/>
<circle cx="179.4" cy="174.2" r="1.8" fill="#5d9a5d"/>
<circle cx="174.1" cy="165.6" r="2.4" fill="#5d9a5d"/>
<circle cx="189.0" cy="164.9" r="2.1" fill="#36693b"/>
<circle cx="185.5" cy="164.0" r="1.8" fill="#5d9a5d"/>
<circle cx="172.9" cy="167.1" r="1.4" fill="#5d9a5d"/>
<circle cx="179.1" cy="157.4" r="2.4" fill="#2f5e35"/>
<circle cx="175.7" cy="174.3" r="1.9" fill="#5d9a5d"/>
<circle cx="165.8" cy="170.2" r="1.3" fill="#528c52"/>
<circle cx="173.1" cy="163.2" r="1.8" fill="#5d9a5d"/>
<circle cx="183.3" cy="156.7" r="3.0" fill="#36693b"/>
<circle cx="185.1" cy="154.5" r="1.5" fill="#6aa068"/>
<ellipse cx="150.5" cy="194" rx="9.5" ry="7.0" fill="#8fbd78" stroke="#4f7a45" stroke-width="0.7"/>
<circle cx="145.3" cy="195.7" r="3.8" fill="#a6d08f" stroke="#5f8c54" stroke-width="0.4"/>
<circle cx="156.4" cy="192.1" r="3.0" fill="#a6d08f" stroke="#5f8c54" stroke-width="0.4"/>
<circle cx="153.6" cy="195.3" r="3.1" fill="#a6d08f" stroke="#5f8c54" stroke-width="0.4"/>
<circle cx="153.0" cy="193.1" r="4.1" fill="#a6d08f" stroke="#5f8c54" stroke-width="0.4"/>
<circle cx="145.4" cy="191.7" r="4.3" fill="#a6d08f" stroke="#5f8c54" stroke-width="0.4"/>
<circle cx="148.6" cy="192.0" r="4.1" fill="#a6d08f" stroke="#5f8c54" stroke-width="0.4"/>
<rect x="128" y="201.5" width="53" height="28.5" fill="#76905a"/>
<rect x="128" y="201.5" width="53" height="2.5" fill="#9dbb7e"/>
<rect x="181" y="202" width="9" height="28" fill="#9a8a78"/><path d="M181,210.4 L190,211.8 M181,218.8 L190,220.2 M185.5,202 L185.5,210.4 M183.7,211.8 L183.7,218.8 M186.4,220.2 L186.4,230" stroke="#5e4f42" stroke-width="0.8"/>
<rect x="509.8" y="183.85" width="4.4" height="35.150000000000006" fill="#6e4e3c"/>
<circle cx="512.2" cy="162.8" r="4.8" fill="#254a2a" stroke="#254a2a" stroke-width="1.6"/>
<circle cx="514.3" cy="163.3" r="4.4" fill="#254a2a" stroke="#254a2a" stroke-width="1.6"/>
<circle cx="515.4" cy="164.8" r="5.0" fill="#254a2a" stroke="#254a2a" stroke-width="1.6"/>
<circle cx="518.4" cy="167.6" r="4.5" fill="#254a2a" stroke="#254a2a" stroke-width="1.6"/>
<circle cx="520.5" cy="169.6" r="4.0" fill="#254a2a" stroke="#254a2a" stroke-width="1.6"/>
<circle cx="521.8" cy="171.9" r="4.2" fill="#254a2a" stroke="#254a2a" stroke-width="1.6"/>
<circle cx="524.9" cy="177.0" r="3.6" fill="#254a2a" stroke="#254a2a" stroke-width="1.6"/>
<circle cx="525.7" cy="181.8" r="3.9" fill="#254a2a" stroke="#254a2a" stroke-width="1.6"/>
<circle cx="526.2" cy="184.3" r="3.6" fill="#254a2a" stroke="#254a2a" stroke-width="1.6"/>
<circle cx="523.7" cy="189.8" r="4.9" fill="#254a2a" stroke="#254a2a" stroke-width="1.6"/>
<circle cx="522.3" cy="193.0" r="4.7" fill="#254a2a" stroke="#254a2a" stroke-width="1.6"/>
<circle cx="521.9" cy="194.5" r="4.1" fill="#254a2a" stroke="#254a2a" stroke-width="1.6"/>
<circle cx="518.9" cy="198.3" r="3.7" fill="#254a2a" stroke="#254a2a" stroke-width="1.6"/>
<circle cx="515.3" cy="200.1" r="4.2" fill="#254a2a" stroke="#254a2a" stroke-width="1.6"/>
<circle cx="514.1" cy="199.6" r="5.0" fill="#254a2a" stroke="#254a2a" stroke-width="1.6"/>
<circle cx="511.8" cy="199.7" r="5.2" fill="#254a2a" stroke="#254a2a" stroke-width="1.6"/>
<circle cx="508.8" cy="199.7" r="4.5" fill="#254a2a" stroke="#254a2a" stroke-width="1.6"/>
<circle cx="506.5" cy="198.5" r="4.4" fill="#254a2a" stroke="#254a2a" stroke-width="1.6"/>
<circle cx="503.8" cy="197.3" r="3.6" fill="#254a2a" stroke="#254a2a" stroke-width="1.6"/>
<circle cx="500.7" cy="192.6" r="3.9" fill="#254a2a" stroke="#254a2a" stroke-width="1.6"/>
<circle cx="499.1" cy="189.3" r="3.9" fill="#254a2a" stroke="#254a2a" stroke-width="1.6"/>
<circle cx="499.4" cy="184.6" r="5.2" fill="#254a2a" stroke="#254a2a" stroke-width="1.6"/>
<circle cx="499.3" cy="181.3" r="4.9" fill="#254a2a" stroke="#254a2a" stroke-width="1.6"/>
<circle cx="500.0" cy="177.9" r="4.9" fill="#254a2a" stroke="#254a2a" stroke-width="1.6"/>
<circle cx="500.6" cy="175.3" r="4.4" fill="#254a2a" stroke="#254a2a" stroke-width="1.6"/>
<circle cx="503.4" cy="169.7" r="3.9" fill="#254a2a" stroke="#254a2a" stroke-width="1.6"/>
<circle cx="506.4" cy="167.5" r="5.2" fill="#254a2a" stroke="#254a2a" stroke-width="1.6"/>
<circle cx="507.3" cy="165.2" r="4.2" fill="#254a2a" stroke="#254a2a" stroke-width="1.6"/>
<circle cx="509.3" cy="163.4" r="4.2" fill="#254a2a" stroke="#254a2a" stroke-width="1.6"/>
<circle cx="511.6" cy="162.3" r="4.2" fill="#254a2a" stroke="#254a2a" stroke-width="1.6"/>
<polygon points="525.4,181.5 525.6,184.0 525.3,186.5 524.7,188.9 523.8,191.1 522.6,193.2 521.3,195.1 519.8,196.8 518.3,198.2 516.7,199.3 515.1,200.1 513.6,200.6 512.0,200.8 510.4,200.6 508.9,200.1 507.3,199.3 505.7,198.2 504.2,196.8 502.7,195.1 501.4,193.2 500.2,191.1 499.3,188.9 498.7,186.5 498.4,184.0 498.6,181.5 499.0,179.0 499.9,176.5 500.9,174.1 502.2,171.9 503.6,169.8 505.1,167.9 506.5,166.2 507.8,164.8 509.0,163.7 510.1,162.9 511.1,162.4 512.0,162.2 512.9,162.4 513.9,162.9 515.0,163.7 516.2,164.8 517.5,166.2 518.9,167.9 520.4,169.8 521.8,171.9 523.1,174.1 524.1,176.5 525.0,179.0" fill="#467f4a" stroke="#467f4a" stroke-width="1"/>
<circle cx="512.2" cy="162.8" r="4.8" fill="#467f4a"/>
<circle cx="514.3" cy="163.3" r="4.4" fill="#467f4a"/>
<circle cx="515.4" cy="164.8" r="5.0" fill="#467f4a"/>
<circle cx="518.4" cy="167.6" r="4.5" fill="#467f4a"/>
<circle cx="520.5" cy="169.6" r="4.0" fill="#467f4a"/>
<circle cx="521.8" cy="171.9" r="4.2" fill="#467f4a"/>
<circle cx="524.9" cy="177.0" r="3.6" fill="#467f4a"/>
<circle cx="525.7" cy="181.8" r="3.9" fill="#467f4a"/>
<circle cx="526.2" cy="184.3" r="3.6" fill="#467f4a"/>
<circle cx="523.7" cy="189.8" r="4.9" fill="#467f4a"/>
<circle cx="522.3" cy="193.0" r="4.7" fill="#467f4a"/>
<circle cx="521.9" cy="194.5" r="4.1" fill="#467f4a"/>
<circle cx="518.9" cy="198.3" r="3.7" fill="#467f4a"/>
<circle cx="515.3" cy="200.1" r="4.2" fill="#467f4a"/>
<circle cx="514.1" cy="199.6" r="5.0" fill="#467f4a"/>
<circle cx="511.8" cy="199.7" r="5.2" fill="#467f4a"/>
<circle cx="508.8" cy="199.7" r="4.5" fill="#467f4a"/>
<circle cx="506.5" cy="198.5" r="4.4" fill="#467f4a"/>
<circle cx="503.8" cy="197.3" r="3.6" fill="#467f4a"/>
<circle cx="500.7" cy="192.6" r="3.9" fill="#467f4a"/>
<circle cx="499.1" cy="189.3" r="3.9" fill="#467f4a"/>
<circle cx="499.4" cy="184.6" r="5.2" fill="#467f4a"/>
<circle cx="499.3" cy="181.3" r="4.9" fill="#467f4a"/>
<circle cx="500.0" cy="177.9" r="4.9" fill="#467f4a"/>
<circle cx="500.6" cy="175.3" r="4.4" fill="#467f4a"/>
<circle cx="503.4" cy="169.7" r="3.9" fill="#467f4a"/>
<circle cx="506.4" cy="167.5" r="5.2" fill="#467f4a"/>
<circle cx="507.3" cy="165.2" r="4.2" fill="#467f4a"/>
<circle cx="509.3" cy="163.4" r="4.2" fill="#467f4a"/>
<circle cx="511.6" cy="162.3" r="4.2" fill="#467f4a"/>
<circle cx="516.1" cy="182.4" r="2.6" fill="#6aa068"/>
<circle cx="512.7" cy="181.4" r="2.3" fill="#5d9a5d"/>
<circle cx="512.0" cy="172.9" r="1.8" fill="#3c7040"/>
<circle cx="516.3" cy="180.7" r="1.5" fill="#6aa068"/>
<circle cx="505.0" cy="195.9" r="2.7" fill="#2f5e35"/>
<circle cx="517.2" cy="177.6" r="1.3" fill="#36693b"/>
<circle cx="514.7" cy="166.7" r="1.5" fill="#2f5e35"/>
<circle cx="521.5" cy="184.5" r="3.1" fill="#6aa068"/>
<circle cx="500.9" cy="191.5" r="2.4" fill="#6aa068"/>
<circle cx="517.2" cy="172.9" r="2.5" fill="#528c52"/>
<circle cx="517.4" cy="178.0" r="1.3" fill="#3c7040"/>
<circle cx="514.3" cy="166.4" r="1.3" fill="#528c52"/>
<circle cx="509.4" cy="197.9" r="1.8" fill="#6aa068"/>
<circle cx="507.1" cy="185.2" r="2.9" fill="#5d9a5d"/>
<circle cx="509.9" cy="176.0" r="2.7" fill="#36693b"/>
<circle cx="505.3" cy="182.7" r="2.3" fill="#6aa068"/>
<circle cx="511.8" cy="178.5" r="3.0" fill="#36693b"/>
<circle cx="508.7" cy="186.9" r="2.4" fill="#2f5e35"/>
<circle cx="502.8" cy="187.7" r="1.8" fill="#528c52"/>
<circle cx="505.5" cy="179.4" r="1.2" fill="#6aa068"/>
<circle cx="509.0" cy="165.1" r="1.7" fill="#5d9a5d"/>
<circle cx="509.2" cy="189.6" r="2.0" fill="#3c7040"/>
<circle cx="509.2" cy="167.0" r="1.5" fill="#36693b"/>
<circle cx="515.4" cy="184.6" r="2.5" fill="#5d9a5d"/>
<circle cx="512.4" cy="176.7" r="2.5" fill="#5d9a5d"/>
<circle cx="518.6" cy="191.1" r="2.0" fill="#2f5e35"/>
<circle cx="518.1" cy="172.2" r="1.6" fill="#36693b"/>
<circle cx="504.1" cy="192.2" r="2.7" fill="#3c7040"/>
<circle cx="506.1" cy="173.6" r="2.7" fill="#6aa068"/>
<circle cx="512.2" cy="179.9" r="2.9" fill="#528c52"/>
<circle cx="504.0" cy="189.7" r="1.7" fill="#6aa068"/>
<circle cx="521.5" cy="178.3" r="1.3" fill="#6aa068"/>
<circle cx="506.4" cy="188.0" r="2.8" fill="#2f5e35"/>
<circle cx="513.7" cy="169.4" r="1.4" fill="#3c7040"/>
<circle cx="506.0" cy="173.8" r="1.8" fill="#6aa068"/>
<path d="M542,154.5 L541,219 L549,219 L548,154.5 Z" fill="#a29d96"/>
<path d="M545,187 L554,177 M545,189 L537,179" stroke="#a29d96" stroke-width="2.2"/>
<circle cx="548.1" cy="125.6" r="7.3" fill="#5a8a50" stroke="#5a8a50" stroke-width="1.6"/>
<circle cx="549.5" cy="129.4" r="10.5" fill="#5a8a50" stroke="#5a8a50" stroke-width="1.6"/>
<circle cx="555.1" cy="129.6" r="7.3" fill="#5a8a50" stroke="#5a8a50" stroke-width="1.6"/>
<circle cx="561.6" cy="136.5" r="8.1" fill="#5a8a50" stroke="#5a8a50" stroke-width="1.6"/>
<circle cx="568.0" cy="143.5" r="7.7" fill="#5a8a50" stroke="#5a8a50" stroke-width="1.6"/>
<circle cx="571.5" cy="151.1" r="8.0" fill="#5a8a50" stroke="#5a8a50" stroke-width="1.6"/>
<circle cx="570.4" cy="156.9" r="10.2" fill="#5a8a50" stroke="#5a8a50" stroke-width="1.6"/>
<circle cx="569.2" cy="163.9" r="10.2" fill="#5a8a50" stroke="#5a8a50" stroke-width="1.6"/>
<circle cx="568.1" cy="171.9" r="7.0" fill="#5a8a50" stroke="#5a8a50" stroke-width="1.6"/>
<circle cx="560.7" cy="176.4" r="9.0" fill="#5a8a50" stroke="#5a8a50" stroke-width="1.6"/>
<circle cx="557.4" cy="180.2" r="7.5" fill="#5a8a50" stroke="#5a8a50" stroke-width="1.6"/>
<circle cx="549.0" cy="181.8" r="8.9" fill="#5a8a50" stroke="#5a8a50" stroke-width="1.6"/>
<circle cx="542.9" cy="181.1" r="9.6" fill="#5a8a50" stroke="#5a8a50" stroke-width="1.6"/>
<circle cx="536.8" cy="179.9" r="8.9" fill="#5a8a50" stroke="#5a8a50" stroke-width="1.6"/>
<circle cx="531.9" cy="176.7" r="9.1" fill="#5a8a50" stroke="#5a8a50" stroke-width="1.6"/>
<circle cx="528.6" cy="172.3" r="10.3" fill="#5a8a50" stroke="#5a8a50" stroke-width="1.6"/>
<circle cx="523.7" cy="166.8" r="9.7" fill="#5a8a50" stroke="#5a8a50" stroke-width="1.6"/>
<circle cx="520.6" cy="157.7" r="9.2" fill="#5a8a50" stroke="#5a8a50" stroke-width="1.6"/>
<circle cx="521.6" cy="153.9" r="9.8" fill="#5a8a50" stroke="#5a8a50" stroke-width="1.6"/>
<circle cx="523.4" cy="144.2" r="7.5" fill="#5a8a50" stroke="#5a8a50" stroke-width="1.6"/>
<circle cx="527.6" cy="140.5" r="8.8" fill="#5a8a50" stroke="#5a8a50" stroke-width="1.6"/>
<circle cx="533.6" cy="135.8" r="10.2" fill="#5a8a50" stroke="#5a8a50" stroke-width="1.6"/>
<circle cx="539.3" cy="129.4" r="8.7" fill="#5a8a50" stroke="#5a8a50" stroke-width="1.6"/>
<circle cx="543.3" cy="127.8" r="9.2" fill="#5a8a50" stroke="#5a8a50" stroke-width="1.6"/>
<polygon points="572.1,154.5 572.4,158.2 571.9,161.8 570.7,165.3 569.0,168.7 566.7,171.7 564.1,174.5 561.2,177.0 558.2,179.0 555.1,180.7 552.1,181.8 549.0,182.6 546.0,182.8 543.0,182.6 539.9,181.8 536.9,180.7 533.8,179.0 530.8,177.0 527.9,174.5 525.3,171.7 523.0,168.7 521.3,165.3 520.1,161.8 519.6,158.2 519.9,154.5 520.8,150.8 522.4,147.2 524.5,143.7 527.0,140.3 529.7,137.3 532.5,134.5 535.2,132.0 537.8,130.0 540.1,128.3 542.2,127.2 544.2,126.4 546.0,126.2 547.8,126.4 549.8,127.2 551.9,128.3 554.2,130.0 556.8,132.0 559.5,134.5 562.3,137.3 565.0,140.3 567.5,143.7 569.6,147.2 571.2,150.8" fill="#a3cf8c" stroke="#a3cf8c" stroke-width="1"/>
<circle cx="548.1" cy="125.6" r="7.3" fill="#a3cf8c"/>
<circle cx="549.5" cy="129.4" r="10.5" fill="#a3cf8c"/>
<circle cx="555.1" cy="129.6" r="7.3" fill="#a3cf8c"/>
<circle cx="561.6" cy="136.5" r="8.1" fill="#a3cf8c"/>
<circle cx="568.0" cy="143.5" r="7.7" fill="#a3cf8c"/>
<circle cx="571.5" cy="151.1" r="8.0" fill="#a3cf8c"/>
<circle cx="570.4" cy="156.9" r="10.2" fill="#a3cf8c"/>
<circle cx="569.2" cy="163.9" r="10.2" fill="#a3cf8c"/>
<circle cx="568.1" cy="171.9" r="7.0" fill="#a3cf8c"/>
<circle cx="560.7" cy="176.4" r="9.0" fill="#a3cf8c"/>
<circle cx="557.4" cy="180.2" r="7.5" fill="#a3cf8c"/>
<circle cx="549.0" cy="181.8" r="8.9" fill="#a3cf8c"/>
<circle cx="542.9" cy="181.1" r="9.6" fill="#a3cf8c"/>
<circle cx="536.8" cy="179.9" r="8.9" fill="#a3cf8c"/>
<circle cx="531.9" cy="176.7" r="9.1" fill="#a3cf8c"/>
<circle cx="528.6" cy="172.3" r="10.3" fill="#a3cf8c"/>
<circle cx="523.7" cy="166.8" r="9.7" fill="#a3cf8c"/>
<circle cx="520.6" cy="157.7" r="9.2" fill="#a3cf8c"/>
<circle cx="521.6" cy="153.9" r="9.8" fill="#a3cf8c"/>
<circle cx="523.4" cy="144.2" r="7.5" fill="#a3cf8c"/>
<circle cx="527.6" cy="140.5" r="8.8" fill="#a3cf8c"/>
<circle cx="533.6" cy="135.8" r="10.2" fill="#a3cf8c"/>
<circle cx="539.3" cy="129.4" r="8.7" fill="#a3cf8c"/>
<circle cx="543.3" cy="127.8" r="9.2" fill="#a3cf8c"/>
<circle cx="557.0" cy="146.4" r="2.0" fill="#86b773"/>
<circle cx="566.9" cy="158.0" r="2.3" fill="#93c27e"/>
<circle cx="525.0" cy="164.3" r="2.1" fill="#93c27e"/>
<circle cx="561.5" cy="165.0" r="2.1" fill="#c0e0aa"/>
<circle cx="524.3" cy="170.7" r="2.2" fill="#b6da9f"/>
<circle cx="539.1" cy="159.8" r="1.5" fill="#b6da9f"/>
<circle cx="531.7" cy="149.5" r="3.0" fill="#86b773"/>
<circle cx="537.0" cy="140.3" r="2.3" fill="#c0e0aa"/>
<circle cx="549.5" cy="131.9" r="2.5" fill="#b6da9f"/>
<circle cx="555.7" cy="162.2" r="2.9" fill="#c0e0aa"/>
<circle cx="559.9" cy="145.0" r="1.4" fill="#a9d394"/>
<circle cx="544.5" cy="144.1" r="3.2" fill="#86b773"/>
<circle cx="545.6" cy="134.3" r="1.3" fill="#6a9a5c"/>
<circle cx="542.7" cy="126.6" r="2.8" fill="#c0e0aa"/>
<circle cx="530.0" cy="136.6" r="1.6" fill="#c0e0aa"/>
<circle cx="542.1" cy="160.5" r="1.5" fill="#c0e0aa"/>
<circle cx="542.3" cy="136.4" r="1.6" fill="#86b773"/>
<circle cx="556.8" cy="160.4" r="1.4" fill="#6a9a5c"/>
<circle cx="548.6" cy="169.0" r="1.3" fill="#a9d394"/>
<circle cx="569.9" cy="158.2" r="2.1" fill="#93c27e"/>
<circle cx="549.8" cy="171.1" r="3.0" fill="#6a9a5c"/>
<circle cx="534.9" cy="152.6" r="2.0" fill="#b6da9f"/>
<circle cx="547.9" cy="150.2" r="2.7" fill="#b6da9f"/>
<circle cx="543.2" cy="149.6" r="2.6" fill="#6a9a5c"/>
<circle cx="532.4" cy="157.7" r="1.4" fill="#b6da9f"/>
<circle cx="565.9" cy="141.3" r="1.5" fill="#93c27e"/>
<circle cx="559.0" cy="139.4" r="1.3" fill="#c0e0aa"/>
<circle cx="553.4" cy="167.5" r="2.2" fill="#a9d394"/>
<circle cx="570.0" cy="159.3" r="1.6" fill="#c0e0aa"/>
<circle cx="550.1" cy="136.2" r="1.7" fill="#6a9a5c"/>
<circle cx="536.5" cy="152.1" r="1.7" fill="#86b773"/>
<circle cx="567.4" cy="150.1" r="2.0" fill="#6a9a5c"/>
<circle cx="541.0" cy="145.0" r="3.1" fill="#a9d394"/>
<circle cx="534.2" cy="138.2" r="2.9" fill="#86b773"/>
<circle cx="534.4" cy="153.5" r="2.3" fill="#86b773"/>
<circle cx="532.7" cy="175.8" r="2.6" fill="#79aa66"/>
<circle cx="552.6" cy="128.1" r="2.2" fill="#b6da9f"/>
<circle cx="532.7" cy="177.4" r="2.0" fill="#c0e0aa"/>
<circle cx="541.6" cy="143.8" r="1.4" fill="#b6da9f"/>
<circle cx="557.9" cy="146.4" r="2.2" fill="#c0e0aa"/>
<circle cx="556.0" cy="152.3" r="1.9" fill="#93c27e"/>
<circle cx="546.6" cy="154.3" r="2.7" fill="#86b773"/>
<circle cx="572.9" cy="158.4" r="1.3" fill="#6a9a5c"/>
<circle cx="542.7" cy="149.0" r="1.3" fill="#93c27e"/>
<circle cx="553.8" cy="173.3" r="3.0" fill="#86b773"/>
<circle cx="527.4" cy="166.7" r="2.3" fill="#6a9a5c"/>
<circle cx="536.9" cy="176.2" r="2.7" fill="#a9d394"/>
<circle cx="561.9" cy="139.3" r="3.1" fill="#6a9a5c"/>
<circle cx="545.6" cy="153.0" r="1.3" fill="#b6da9f"/>
<circle cx="557.5" cy="147.3" r="3.1" fill="#c0e0aa"/>
<circle cx="565.6" cy="172.7" r="1.9" fill="#a9d394"/>
<circle cx="553.9" cy="172.6" r="2.0" fill="#79aa66"/>
<circle cx="556.7" cy="168.8" r="2.3" fill="#b6da9f"/>
<circle cx="560.2" cy="134.6" r="3.0" fill="#86b773"/>
<circle cx="531.6" cy="158.0" r="1.6" fill="#93c27e"/>
<circle cx="555.0" cy="164.8" r="2.3" fill="#86b773"/>
<circle cx="532.6" cy="159.6" r="2.8" fill="#b6da9f"/>
<circle cx="560.2" cy="167.8" r="1.5" fill="#a9d394"/>
<circle cx="530.3" cy="171.3" r="2.0" fill="#b6da9f"/>
<circle cx="561.0" cy="143.0" r="2.1" fill="#79aa66"/>
<circle cx="530.3" cy="150.1" r="2.8" fill="#79aa66"/>
<circle cx="541.1" cy="139.0" r="2.6" fill="#86b773"/>
<circle cx="553.6" cy="150.6" r="2.1" fill="#a9d394"/>
<circle cx="547.2" cy="141.1" r="2.8" fill="#79aa66"/>
<circle cx="545.1" cy="164.8" r="3.0" fill="#a9d394"/>
<circle cx="535.2" cy="146.3" r="2.4" fill="#b6da9f"/>
<circle cx="553.0" cy="179.2" r="2.0" fill="#6a9a5c"/>
<circle cx="536.3" cy="150.2" r="2.5" fill="#79aa66"/>
<circle cx="522.1" cy="162.4" r="1.7" fill="#79aa66"/>
<circle cx="557.7" cy="135.4" r="2.5" fill="#b6da9f"/>
<circle cx="544.3" cy="170.2" r="2.4" fill="#c0e0aa"/>
<circle cx="547.1" cy="176.3" r="2.1" fill="#86b773"/>
<circle cx="551.5" cy="127.3" r="2.4" fill="#c0e0aa"/>
<circle cx="548.2" cy="173.2" r="3.1" fill="#b6da9f"/>
<circle cx="558.6" cy="171.1" r="1.8" fill="#93c27e"/>
<circle cx="546.9" cy="144.2" r="2.2" fill="#6a9a5c"/>
<circle cx="558.6" cy="145.4" r="1.9" fill="#c0e0aa"/>
<circle cx="540.5" cy="142.4" r="1.5" fill="#c0e0aa"/>
<circle cx="561.8" cy="154.0" r="3.1" fill="#79aa66"/>
<circle cx="535.2" cy="153.9" r="1.7" fill="#c0e0aa"/>
<circle cx="554.0" cy="162.8" r="1.4" fill="#6a9a5c"/>
<circle cx="532.2" cy="154.4" r="2.3" fill="#79aa66"/>
<circle cx="535.8" cy="177.6" r="1.7" fill="#86b773"/>
<circle cx="556.0" cy="179.1" r="2.4" fill="#c0e0aa"/>
<circle cx="544.3" cy="156.7" r="2.3" fill="#93c27e"/>
<circle cx="562.5" cy="143.8" r="3.1" fill="#86b773"/>
<circle cx="546.5" cy="145.5" r="2.8" fill="#a9d394"/>
<circle cx="541.3" cy="157.8" r="2.4" fill="#86b773"/>
<circle cx="543.0" cy="179.2" r="3.1" fill="#86b773"/>
<circle cx="520.4" cy="152.5" r="1.9" fill="#6a9a5c"/>
<circle cx="562.6" cy="163.1" r="3.0" fill="#a9d394"/>
<circle cx="529.4" cy="159.9" r="1.9" fill="#c0e0aa"/>
<circle cx="565.1" cy="158.0" r="1.8" fill="#b6da9f"/>
<circle cx="531.9" cy="137.5" r="3.1" fill="#b6da9f"/>
<circle cx="555.0" cy="154.5" r="2.8" fill="#79aa66"/>
<circle cx="536.9" cy="179.0" r="1.7" fill="#79aa66"/>
<circle cx="571.6" cy="166.0" r="1.7" fill="#b6da9f"/>
<circle cx="546.6" cy="128.4" r="1.8" fill="#6a9a5c"/>
<circle cx="536.1" cy="143.5" r="1.9" fill="#86b773"/>
<circle cx="562.6" cy="164.3" r="1.5" fill="#b6da9f"/>
<circle cx="536.4" cy="159.9" r="3.0" fill="#a9d394"/>
<circle cx="541.6" cy="181.8" r="3.0" fill="#6a9a5c"/>
<circle cx="551.8" cy="128.5" r="2.3" fill="#79aa66"/>
<circle cx="556.7" cy="141.0" r="1.6" fill="#c0e0aa"/>
<circle cx="545.7" cy="148.3" r="2.9" fill="#c0e0aa"/>
<circle cx="557.8" cy="166.2" r="2.5" fill="#c0e0aa"/>
<rect x="572.8" y="181.65" width="4.4" height="37.349999999999994" fill="#6e4e3c"/>
<circle cx="575.7" cy="163.4" r="5.2" fill="#254a2a" stroke="#254a2a" stroke-width="1.6"/>
<circle cx="577.6" cy="162.8" r="3.6" fill="#254a2a" stroke="#254a2a" stroke-width="1.6"/>
<circle cx="579.2" cy="164.8" r="4.2" fill="#254a2a" stroke="#254a2a" stroke-width="1.6"/>
<circle cx="581.7" cy="166.8" r="3.7" fill="#254a2a" stroke="#254a2a" stroke-width="1.6"/>
<circle cx="583.4" cy="169.6" r="4.3" fill="#254a2a" stroke="#254a2a" stroke-width="1.6"/>
<circle cx="585.7" cy="173.2" r="4.3" fill="#254a2a" stroke="#254a2a" stroke-width="1.6"/>
<circle cx="587.8" cy="176.5" r="3.6" fill="#254a2a" stroke="#254a2a" stroke-width="1.6"/>
<circle cx="588.0" cy="182.3" r="4.2" fill="#254a2a" stroke="#254a2a" stroke-width="1.6"/>
<circle cx="586.8" cy="185.5" r="4.8" fill="#254a2a" stroke="#254a2a" stroke-width="1.6"/>
<circle cx="586.4" cy="189.3" r="3.6" fill="#254a2a" stroke="#254a2a" stroke-width="1.6"/>
<circle cx="582.7" cy="192.5" r="4.5" fill="#254a2a" stroke="#254a2a" stroke-width="1.6"/>
<circle cx="580.3" cy="194.5" r="4.6" fill="#254a2a" stroke="#254a2a" stroke-width="1.6"/>
<circle cx="577.1" cy="196.5" r="4.1" fill="#254a2a" stroke="#254a2a" stroke-width="1.6"/>
<circle cx="574.8" cy="196.9" r="4.1" fill="#254a2a" stroke="#254a2a" stroke-width="1.6"/>
<circle cx="572.5" cy="196.0" r="4.7" fill="#254a2a" stroke="#254a2a" stroke-width="1.6"/>
<circle cx="569.9" cy="196.0" r="3.6" fill="#254a2a" stroke="#254a2a" stroke-width="1.6"/>
<circle cx="567.4" cy="192.8" r="4.8" fill="#254a2a" stroke="#254a2a" stroke-width="1.6"/>
<circle cx="564.5" cy="190.2" r="4.3" fill="#254a2a" stroke="#254a2a" stroke-width="1.6"/>
<circle cx="562.1" cy="186.8" r="3.8" fill="#254a2a" stroke="#254a2a" stroke-width="1.6"/>
<circle cx="561.5" cy="184.1" r="4.1" fill="#254a2a" stroke="#254a2a" stroke-width="1.6"/>
<circle cx="561.4" cy="178.4" r="3.8" fill="#254a2a" stroke="#254a2a" stroke-width="1.6"/>
<circle cx="561.8" cy="176.1" r="3.6" fill="#254a2a" stroke="#254a2a" stroke-width="1.6"/>
<circle cx="563.9" cy="172.5" r="4.0" fill="#254a2a" stroke="#254a2a" stroke-width="1.6"/>
<circle cx="567.7" cy="168.5" r="5.0" fill="#254a2a" stroke="#254a2a" stroke-width="1.6"/>
<circle cx="569.3" cy="165.7" r="4.1" fill="#254a2a" stroke="#254a2a" stroke-width="1.6"/>
<circle cx="571.5" cy="163.6" r="4.0" fill="#254a2a" stroke="#254a2a" stroke-width="1.6"/>
<circle cx="573.9" cy="162.6" r="4.5" fill="#254a2a" stroke="#254a2a" stroke-width="1.6"/>
<polygon points="588.0,179.5 588.1,181.8 587.9,184.0 587.3,186.1 586.4,188.2 585.2,190.1 583.9,191.8 582.5,193.3 580.9,194.5 579.4,195.5 577.8,196.3 576.3,196.7 574.8,196.8 573.2,196.7 571.7,196.3 570.1,195.5 568.6,194.5 567.0,193.3 565.6,191.8 564.3,190.1 563.1,188.2 562.2,186.1 561.6,184.0 561.4,181.8 561.5,179.5 562.0,177.2 562.8,175.0 563.9,172.9 565.1,170.8 566.5,168.9 567.9,167.2 569.3,165.7 570.6,164.5 571.8,163.5 572.8,162.7 573.8,162.3 574.8,162.2 575.7,162.3 576.7,162.7 577.7,163.5 578.9,164.5 580.2,165.7 581.6,167.2 583.0,168.9 584.4,170.8 585.6,172.9 586.7,175.0 587.5,177.2" fill="#467f4a" stroke="#467f4a" stroke-width="1"/>
<circle cx="575.7" cy="163.4" r="5.2" fill="#467f4a"/>
<circle cx="577.6" cy="162.8" r="3.6" fill="#467f4a"/>
<circle cx="579.2" cy="164.8" r="4.2" fill="#467f4a"/>
<circle cx="581.7" cy="166.8" r="3.7" fill="#467f4a"/>
<circle cx="583.4" cy="169.6" r="4.3" fill="#467f4a"/>
<circle cx="585.7" cy="173.2" r="4.3" fill="#467f4a"/>
<circle cx="587.8" cy="176.5" r="3.6" fill="#467f4a"/>
<circle cx="588.0" cy="182.3" r="4.2" fill="#467f4a"/>
<circle cx="586.8" cy="185.5" r="4.8" fill="#467f4a"/>
<circle cx="586.4" cy="189.3" r="3.6" fill="#467f4a"/>
<circle cx="582.7" cy="192.5" r="4.5" fill="#467f4a"/>
<circle cx="580.3" cy="194.5" r="4.6" fill="#467f4a"/>
<circle cx="577.1" cy="196.5" r="4.1" fill="#467f4a"/>
<circle cx="574.8" cy="196.9" r="4.1" fill="#467f4a"/>
<circle cx="572.5" cy="196.0" r="4.7" fill="#467f4a"/>
<circle cx="569.9" cy="196.0" r="3.6" fill="#467f4a"/>
<circle cx="567.4" cy="192.8" r="4.8" fill="#467f4a"/>
<circle cx="564.5" cy="190.2" r="4.3" fill="#467f4a"/>
<circle cx="562.1" cy="186.8" r="3.8" fill="#467f4a"/>
<circle cx="561.5" cy="184.1" r="4.1" fill="#467f4a"/>
<circle cx="561.4" cy="178.4" r="3.8" fill="#467f4a"/>
<circle cx="561.8" cy="176.1" r="3.6" fill="#467f4a"/>
<circle cx="563.9" cy="172.5" r="4.0" fill="#467f4a"/>
<circle cx="567.7" cy="168.5" r="5.0" fill="#467f4a"/>
<circle cx="569.3" cy="165.7" r="4.1" fill="#467f4a"/>
<circle cx="571.5" cy="163.6" r="4.0" fill="#467f4a"/>
<circle cx="573.9" cy="162.6" r="4.5" fill="#467f4a"/>
<circle cx="574.6" cy="184.9" r="2.6" fill="#5d9a5d"/>
<circle cx="576.6" cy="172.4" r="1.5" fill="#3c7040"/>
<circle cx="574.7" cy="174.3" r="1.5" fill="#528c52"/>
<circle cx="577.7" cy="178.9" r="2.0" fill="#528c52"/>
<circle cx="577.8" cy="186.2" r="3.1" fill="#5d9a5d"/>
<circle cx="577.2" cy="164.3" r="3.1" fill="#3c7040"/>
<circle cx="570.9" cy="181.2" r="3.1" fill="#5d9a5d"/>
<circle cx="570.7" cy="184.6" r="1.7" fill="#5d9a5d"/>
<circle cx="564.8" cy="175.2" r="3.1" fill="#528c52"/>
<circle cx="575.5" cy="184.7" r="2.5" fill="#3c7040"/>
<circle cx="572.7" cy="168.0" r="1.7" fill="#36693b"/>
<circle cx="563.6" cy="186.9" r="2.7" fill="#528c52"/>
<circle cx="571.7" cy="170.6" r="3.0" fill="#36693b"/>
<circle cx="572.9" cy="169.7" r="3.1" fill="#6aa068"/>
<circle cx="581.9" cy="170.9" r="1.8" fill="#3c7040"/>
<circle cx="565.0" cy="187.3" r="2.4" fill="#3c7040"/>
<circle cx="581.5" cy="182.3" r="2.5" fill="#5d9a5d"/>
<circle cx="570.2" cy="190.3" r="1.7" fill="#528c52"/>
<circle cx="578.0" cy="178.1" r="2.6" fill="#3c7040"/>
<circle cx="583.9" cy="189.7" r="2.8" fill="#528c52"/>
<circle cx="581.4" cy="178.9" r="2.0" fill="#2f5e35"/>
<circle cx="575.4" cy="173.4" r="1.6" fill="#528c52"/>
<circle cx="573.4" cy="173.2" r="2.7" fill="#528c52"/>
<circle cx="582.3" cy="176.5" r="2.2" fill="#2f5e35"/>
<circle cx="572.6" cy="168.2" r="1.6" fill="#3c7040"/>
<circle cx="568.5" cy="177.8" r="1.7" fill="#5d9a5d"/>
<circle cx="586.4" cy="185.5" r="2.8" fill="#528c52"/>
<circle cx="571.9" cy="168.1" r="2.6" fill="#2f5e35"/>
<circle cx="564.9" cy="187.7" r="3.1" fill="#2f5e35"/>
<circle cx="570.6" cy="188.2" r="3.0" fill="#528c52"/>
<circle cx="571.2" cy="167.0" r="2.3" fill="#2f5e35"/>
<ellipse cx="529.7" cy="210" rx="9.75" ry="7.0" fill="#8fbd78" stroke="#4f7a45" stroke-width="0.7"/>
<circle cx="532.6" cy="212.9" r="2.9" fill="#a6d08f" stroke="#5f8c54" stroke-width="0.4"/>
<circle cx="536.5" cy="207.4" r="3.8" fill="#a6d08f" stroke="#5f8c54" stroke-width="0.4"/>
<circle cx="524.1" cy="212.2" r="2.8" fill="#a6d08f" stroke="#5f8c54" stroke-width="0.4"/>
<circle cx="532.5" cy="211.9" r="4.0" fill="#a6d08f" stroke="#5f8c54" stroke-width="0.4"/>
<circle cx="528.9" cy="213.1" r="4.5" fill="#a6d08f" stroke="#5f8c54" stroke-width="0.4"/>
<circle cx="524.5" cy="210.1" r="4.4" fill="#a6d08f" stroke="#5f8c54" stroke-width="0.4"/>
<rect x="500" y="218.5" width="93" height="11" fill="#76905a"/>
<rect x="500" y="218.5" width="93" height="2.5" fill="#9dbb7e"/>
<path d="M185,230 L189,221 L219,220.5 L219,230 Z" fill="#5a3e32"/>
<rect x="475" y="220.5" width="26" height="9.5" fill="#5a3e32"/>
<rect x="218.7" y="220" width="256.5" height="10" fill="#9d9ca1"/>
<path d="M218.7,220.4 L475,220.4" stroke="#2a2a2a" stroke-width="1"/>
<rect x="210.1" y="101.5" width="5" height="120.0" fill="#3c3c3e"/><path d="M214.6,118.5 C220.6,107.5 237.6,102.5 257.6,103.0" stroke="#3c3c3e" stroke-width="2.6" fill="none"/><ellipse cx="256.6" cy="104.3" rx="4.6" ry="2.4" fill="#fff" stroke="#3c3c3e" stroke-width="1.4"/>
<rect x="478.9" y="101.5" width="5" height="120.0" fill="#3c3c3e"/><path d="M479.4,118.5 C473.4,107.5 456.4,102.5 436.4,103.0" stroke="#3c3c3e" stroke-width="2.6" fill="none"/><ellipse cx="437.4" cy="104.3" rx="4.6" ry="2.4" fill="#fff" stroke="#3c3c3e" stroke-width="1.4"/>
<ellipse cx="250.5" cy="212.4" rx="2.2" ry="8.17" fill="none" stroke="#1a1a1a" stroke-width="1.6"/>
<path d="M246.5,200.36 L247.3,216.7 L249.9,216.7 L250.5,203.8 L251.1,216.7 L253.7,216.7 L254.5,200.36 Z" fill="#3a4030"/>
<path d="M244.0,203.8 L243.0,197.35 L244.5,188.32 Q250.5,185.31 256.5,188.32 L258.3,197.78 L257.3,203.8 L255.0,202.94 L255.0,195.2 L246.0,195.2 L246.0,202.94 Z" fill="#5f7a48" stroke="#2a3320" stroke-width="0.7"/>
<path d="M246.0,190.9 L255.0,190.9 L254.7,201.65 L246.3,201.65 Z" fill="#5f7a48"/>
<path d="M248.5,190.9 L249.5,199.5" stroke="#8aa070" stroke-width="1" opacity="0.7"/>
<circle cx="250.5" cy="182.73" r="3.6550000000000002" fill="#d9b48f"/>
<path d="M246.2,182.3 A4.3,4.085 0 0 1 254.8,182.3 Z" fill="#e8e8e8" stroke="#333" stroke-width="0.5"/>
<path d="M294.09499999999997,181.6 L322.805,181.6 L326.71999999999997,192.88 L290.18,192.88 Z" fill="#a9d6ee" stroke="#1f2b3a" stroke-width="2"/>
<rect x="286.7" y="191.0" width="43.5" height="3.008" rx="2" fill="#1f2b3a"/>
<rect x="288.44" y="192.88" width="40.02" height="16.168" rx="2" fill="#1f2b3a"/>
<circle cx="292.35499999999996" cy="202.656" r="2.82" fill="#f2c318"/>
<circle cx="324.54499999999996" cy="202.656" r="2.82" fill="#f2c318"/>
<circle cx="297.14" cy="202.656" r="2.068" fill="#fff"/>
<circle cx="319.76" cy="202.656" r="2.068" fill="#fff"/>
<rect x="289.31" y="209.048" width="38.28" height="3.384" fill="#fff" stroke="#1f2b3a" stroke-width="0.8"/>
<rect x="289.745" y="212.432" width="6.96" height="6.768" fill="#111"/>
<rect x="320.195" y="212.432" width="6.96" height="6.768" fill="#111"/>
<rect x="296.705" y="212.432" width="23.490000000000002" height="6.016" fill="#fff" stroke="#222" stroke-width="0.6"/>
<path d="M367.53000000000003,199.145 L370.068,185.788 Q371.76,182.9 375.99,182.9 L392.91,182.9 Q397.14,182.9 398.832,185.788 L401.37,199.145 Z" fill="#c01a2e" stroke="#5a0a14" stroke-width="1"/>
<path d="M371.76,193.73000000000002 L373.875,186.51000000000002 L395.02500000000003,186.51000000000002 L397.14,193.73000000000002 Z" fill="#b7def2"/>
<rect x="364.569" y="194.81300000000002" width="39.76199999999999" height="12.635" rx="2" fill="#c01a2e" stroke="#5a0a14" stroke-width="0.8"/>
<rect x="364.992" y="196.618" width="3.384" height="7.942" fill="#f0b030"/>
<rect x="400.524" y="196.618" width="3.384" height="7.942" fill="#f0b030"/>
<rect x="363.3" y="206.726" width="42.3" height="5.054" rx="2" fill="#2a1214"/>
<rect x="378.105" y="207.809" width="12.69" height="2.166" fill="#c8b070"/>
<rect x="366.261" y="211.78" width="7.191" height="7.220000000000001" fill="#111"/>
<rect x="395.448" y="211.78" width="7.191" height="7.220000000000001" fill="#111"/>
<ellipse cx="442.3" cy="210.8" rx="2.2" ry="7.79" fill="none" stroke="#1a1a1a" stroke-width="1.6"/>
<path d="M438.3,199.32 L439.1,214.9 L441.7,214.9 L442.3,202.6 L442.90000000000003,214.9 L445.5,214.9 L446.3,199.32 Z" fill="#3a4030"/>
<path d="M435.8,202.6 L434.8,196.45 L436.3,187.84 Q442.3,184.97 448.3,187.84 L450.1,196.86 L449.1,202.6 L446.8,201.78 L446.8,194.4 L437.8,194.4 L437.8,201.78 Z" fill="#6b8a50" stroke="#2a3320" stroke-width="0.7"/>
<path d="M437.8,190.3 L446.8,190.3 L446.5,200.55 L438.1,200.55 Z" fill="#6b8a50"/>
<path d="M440.3,190.3 L441.3,198.5" stroke="#8aa070" stroke-width="1" opacity="0.7"/>
<circle cx="442.3" cy="182.51" r="3.4850000000000003" fill="#d9b48f"/>
<path d="M438.2,182.1 A4.1000000000000005,3.895 0 0 1 446.40000000000003,182.1 Z" fill="#555" stroke="#333" stroke-width="0.5"/>
<text x="296.7" y="101.4" font-size="14.5" font-weight="bold" fill="#222" textLength="130" lengthAdjust="spacingAndGlyphs">Existing Cross-Section</text>
<path d="M219,242 L219,263.5" stroke="#555" stroke-width="1"/>
<path d="M270.3,242 L270.3,263.5" stroke="#555" stroke-width="1"/>
<path d="M346.4,242 L346.4,263.5" stroke="#555" stroke-width="1"/>
<path d="M422.5,242 L422.5,263.5" stroke="#555" stroke-width="1"/>
<path d="M474.4,242 L474.4,263.5" stroke="#555" stroke-width="1"/>
<text x="308.3" y="241.3" font-size="12.5" font-weight="normal" fill="#2e2e2e" text-anchor="middle" textLength="11.8" lengthAdjust="spacingAndGlyphs">11&#8242;</text>
<text x="384.4" y="241.3" font-size="12.5" font-weight="normal" fill="#2e2e2e" text-anchor="middle" textLength="11.8" lengthAdjust="spacingAndGlyphs">11&#8242;</text>
<path d="M219.5,253.5 L233,253.5 M256,253.5 L269.8,253.5" stroke="#555" stroke-width="1"/>
<path d="M220.0,253.5 l6,-2.6 l0,5.2 Z M269.3,253.5 l-6,-2.6 l0,5.2 Z" fill="#555"/>
<path d="M270.8,253.5 L280.5,253.5 M336,253.5 L345.9,253.5" stroke="#555" stroke-width="1"/>
<path d="M271.3,253.5 l6,-2.6 l0,5.2 Z M345.4,253.5 l-6,-2.6 l0,5.2 Z" fill="#555"/>
<path d="M346.9,253.5 L356.5,253.5 M412.5,253.5 L422,253.5" stroke="#555" stroke-width="1"/>
<path d="M347.4,253.5 l6,-2.6 l0,5.2 Z M421.5,253.5 l-6,-2.6 l0,5.2 Z" fill="#555"/>
<path d="M423,253.5 L437,253.5 M460,253.5 L473.9,253.5" stroke="#555" stroke-width="1"/>
<path d="M423.5,253.5 l6,-2.6 l0,5.2 Z M473.4,253.5 l-6,-2.6 l0,5.2 Z" fill="#555"/>
<text x="244.8" y="254.6" font-size="12.5" font-weight="normal" fill="#2e2e2e" text-anchor="middle" textLength="18.6" lengthAdjust="spacingAndGlyphs">7&#8211;8&#8242;</text>
<text x="308.3" y="254.6" font-size="12.5" font-weight="normal" fill="#2e2e2e" text-anchor="middle" textLength="54" lengthAdjust="spacingAndGlyphs">Southbound</text>
<text x="384.4" y="254.6" font-size="12.5" font-weight="normal" fill="#2e2e2e" text-anchor="middle" textLength="52" lengthAdjust="spacingAndGlyphs">Northbound</text>
<text x="448.3" y="254.6" font-size="12.5" font-weight="normal" fill="#2e2e2e" text-anchor="middle" textLength="18.6" lengthAdjust="spacingAndGlyphs">7&#8211;8&#8242;</text>
<text x="244.8" y="267.8" font-size="12.5" font-weight="normal" fill="#2e2e2e" text-anchor="middle" textLength="38" lengthAdjust="spacingAndGlyphs">Shoulder</text>
<text x="308.3" y="269.5" font-size="12.5" font-weight="normal" fill="#2e2e2e" text-anchor="middle" textLength="52" lengthAdjust="spacingAndGlyphs">Travel Lane</text>
<text x="384.4" y="269.5" font-size="12.5" font-weight="normal" fill="#2e2e2e" text-anchor="middle" textLength="52" lengthAdjust="spacingAndGlyphs">Travel Lane</text>
<text x="448.3" y="267.8" font-size="12.5" font-weight="normal" fill="#2e2e2e" text-anchor="middle" textLength="38" lengthAdjust="spacingAndGlyphs">Shoulder</text>
<path d="M219,281.7 L219,297.6" stroke="#555" stroke-width="1"/>
<path d="M474.4,281.7 L474.4,297.6" stroke="#555" stroke-width="1"/>
<path d="M219.5,288.3 L328,288.3 M365,288.3 L473.9,288.3" stroke="#555" stroke-width="1"/>
<path d="M220.0,288.3 l6,-2.6 l0,5.2 Z M473.4,288.3 l-6,-2.6 l0,5.2 Z" fill="#555"/>
<text x="346.4" y="291.6" font-size="12.5" font-weight="normal" fill="#2e2e2e" text-anchor="middle" textLength="34.3" lengthAdjust="spacingAndGlyphs">36&#8242;&#8211;38&#8242;</text>
<path d="M184.2,296.6 L184.2,311.5" stroke="#555" stroke-width="1"/>
<path d="M499.3,296.6 L499.3,311.5" stroke="#555" stroke-width="1"/>
<path d="M184.7,304.2 L331,304.2 M359,304.2 L498.8,304.2" stroke="#555" stroke-width="1"/>
<path d="M185.2,304.2 l6,-2.6 l0,5.2 Z M498.3,304.2 l-6,-2.6 l0,5.2 Z" fill="#555"/>
<text x="344.7" y="304.9" font-size="12.5" font-weight="normal" fill="#2e2e2e" text-anchor="middle" textLength="14.7" lengthAdjust="spacingAndGlyphs">50&#8242;</text>
<text x="344.7" y="316.5" font-size="12.5" font-weight="normal" fill="#2e2e2e" text-anchor="middle" textLength="58" lengthAdjust="spacingAndGlyphs">Right of way</text>
<rect x="621" y="82" width="582" height="243.5" rx="14" fill="#fff"/>
<rect x="642.3" y="173.69" width="4.4" height="33.31" fill="#6e4e3c"/>
<circle cx="641.7" cy="157.5" r="3.5" fill="#254a2a" stroke="#254a2a" stroke-width="1.6"/>
<circle cx="643.8" cy="159.2" r="4.5" fill="#254a2a" stroke="#254a2a" stroke-width="1.6"/>
<circle cx="645.9" cy="159.6" r="3.5" fill="#254a2a" stroke="#254a2a" stroke-width="1.6"/>
<circle cx="648.1" cy="162.8" r="4.6" fill="#254a2a" stroke="#254a2a" stroke-width="1.6"/>
<circle cx="650.5" cy="165.5" r="4.6" fill="#254a2a" stroke="#254a2a" stroke-width="1.6"/>
<circle cx="654.0" cy="169.6" r="3.5" fill="#254a2a" stroke="#254a2a" stroke-width="1.6"/>
<circle cx="654.2" cy="173.0" r="4.1" fill="#254a2a" stroke="#254a2a" stroke-width="1.6"/>
<circle cx="652.9" cy="176.0" r="5.0" fill="#254a2a" stroke="#254a2a" stroke-width="1.6"/>
<circle cx="653.1" cy="179.4" r="3.3" fill="#254a2a" stroke="#254a2a" stroke-width="1.6"/>
<circle cx="648.8" cy="183.0" r="4.0" fill="#254a2a" stroke="#254a2a" stroke-width="1.6"/>
<circle cx="647.2" cy="184.3" r="3.9" fill="#254a2a" stroke="#254a2a" stroke-width="1.6"/>
<circle cx="643.8" cy="184.6" r="5.0" fill="#254a2a" stroke="#254a2a" stroke-width="1.6"/>
<circle cx="641.3" cy="186.1" r="3.7" fill="#254a2a" stroke="#254a2a" stroke-width="1.6"/>
<circle cx="637.8" cy="184.7" r="4.2" fill="#254a2a" stroke="#254a2a" stroke-width="1.6"/>
<circle cx="634.7" cy="182.2" r="4.8" fill="#254a2a" stroke="#254a2a" stroke-width="1.6"/>
<circle cx="632.2" cy="181.4" r="3.6" fill="#254a2a" stroke="#254a2a" stroke-width="1.6"/>
<circle cx="630.8" cy="176.9" r="5.0" fill="#254a2a" stroke="#254a2a" stroke-width="1.6"/>
<circle cx="629.8" cy="175.3" r="4.6" fill="#254a2a" stroke="#254a2a" stroke-width="1.6"/>
<circle cx="630.0" cy="170.2" r="4.4" fill="#254a2a" stroke="#254a2a" stroke-width="1.6"/>
<circle cx="631.2" cy="168.1" r="4.7" fill="#254a2a" stroke="#254a2a" stroke-width="1.6"/>
<circle cx="633.4" cy="163.5" r="3.6" fill="#254a2a" stroke="#254a2a" stroke-width="1.6"/>
<circle cx="636.0" cy="160.9" r="3.7" fill="#254a2a" stroke="#254a2a" stroke-width="1.6"/>
<circle cx="637.7" cy="159.7" r="3.9" fill="#254a2a" stroke="#254a2a" stroke-width="1.6"/>
<circle cx="640.2" cy="158.3" r="4.0" fill="#254a2a" stroke="#254a2a" stroke-width="1.6"/>
<polygon points="654.2,171.9 654.3,173.7 654.1,175.5 653.6,177.2 652.7,178.9 651.6,180.4 650.3,181.8 649.0,183.0 647.5,184.0 646.0,184.8 644.6,185.4 643.1,185.7 641.6,185.9 640.2,185.7 638.7,185.4 637.3,184.8 635.8,184.0 634.3,183.0 633.0,181.8 631.7,180.4 630.6,178.9 629.7,177.2 629.2,175.5 629.0,173.7 629.1,171.9 629.5,170.1 630.3,168.3 631.3,166.6 632.5,164.9 633.8,163.4 635.2,162.0 636.5,160.8 637.7,159.8 638.8,159.0 639.8,158.4 640.8,158.1 641.6,157.9 642.5,158.1 643.5,158.4 644.5,159.0 645.6,159.8 646.8,160.8 648.1,162.0 649.5,163.4 650.8,164.9 652.0,166.6 653.0,168.3 653.8,170.1" fill="#467f4a" stroke="#467f4a" stroke-width="1"/>
<circle cx="641.7" cy="157.5" r="3.5" fill="#467f4a"/>
<circle cx="643.8" cy="159.2" r="4.5" fill="#467f4a"/>
<circle cx="645.9" cy="159.6" r="3.5" fill="#467f4a"/>
<circle cx="648.1" cy="162.8" r="4.6" fill="#467f4a"/>
<circle cx="650.5" cy="165.5" r="4.6" fill="#467f4a"/>
<circle cx="654.0" cy="169.6" r="3.5" fill="#467f4a"/>
<circle cx="654.2" cy="173.0" r="4.1" fill="#467f4a"/>
<circle cx="652.9" cy="176.0" r="5.0" fill="#467f4a"/>
<circle cx="653.1" cy="179.4" r="3.3" fill="#467f4a"/>
<circle cx="648.8" cy="183.0" r="4.0" fill="#467f4a"/>
<circle cx="647.2" cy="184.3" r="3.9" fill="#467f4a"/>
<circle cx="643.8" cy="184.6" r="5.0" fill="#467f4a"/>
<circle cx="641.3" cy="186.1" r="3.7" fill="#467f4a"/>
<circle cx="637.8" cy="184.7" r="4.2" fill="#467f4a"/>
<circle cx="634.7" cy="182.2" r="4.8" fill="#467f4a"/>
<circle cx="632.2" cy="181.4" r="3.6" fill="#467f4a"/>
<circle cx="630.8" cy="176.9" r="5.0" fill="#467f4a"/>
<circle cx="629.8" cy="175.3" r="4.6" fill="#467f4a"/>
<circle cx="630.0" cy="170.2" r="4.4" fill="#467f4a"/>
<circle cx="631.2" cy="168.1" r="4.7" fill="#467f4a"/>
<circle cx="633.4" cy="163.5" r="3.6" fill="#467f4a"/>
<circle cx="636.0" cy="160.9" r="3.7" fill="#467f4a"/>
<circle cx="637.7" cy="159.7" r="3.9" fill="#467f4a"/>
<circle cx="640.2" cy="158.3" r="4.0" fill="#467f4a"/>
<circle cx="637.1" cy="162.1" r="3.2" fill="#36693b"/>
<circle cx="652.5" cy="171.4" r="3.0" fill="#2f5e35"/>
<circle cx="631.7" cy="167.1" r="1.8" fill="#6aa068"/>
<circle cx="642.5" cy="173.9" r="1.9" fill="#3c7040"/>
<circle cx="650.7" cy="168.9" r="3.0" fill="#2f5e35"/>
<circle cx="636.8" cy="161.0" r="1.4" fill="#36693b"/>
<circle cx="643.5" cy="179.4" r="2.8" fill="#528c52"/>
<circle cx="638.2" cy="170.1" r="2.9" fill="#5d9a5d"/>
<circle cx="636.2" cy="161.8" r="1.9" fill="#36693b"/>
<circle cx="640.2" cy="159.7" r="1.3" fill="#528c52"/>
<circle cx="636.5" cy="165.7" r="3.2" fill="#2f5e35"/>
<circle cx="632.1" cy="172.5" r="2.2" fill="#5d9a5d"/>
<circle cx="643.2" cy="161.8" r="3.1" fill="#528c52"/>
<circle cx="642.0" cy="165.1" r="1.9" fill="#528c52"/>
<circle cx="649.2" cy="172.5" r="2.1" fill="#2f5e35"/>
<circle cx="646.1" cy="171.7" r="2.9" fill="#3c7040"/>
<circle cx="651.1" cy="175.2" r="2.8" fill="#36693b"/>
<circle cx="651.5" cy="167.8" r="1.6" fill="#6aa068"/>
<circle cx="631.5" cy="175.1" r="2.6" fill="#3c7040"/>
<circle cx="635.8" cy="171.8" r="2.6" fill="#36693b"/>
<circle cx="631.3" cy="174.6" r="1.9" fill="#528c52"/>
<circle cx="635.7" cy="179.0" r="2.7" fill="#2f5e35"/>
<circle cx="650.3" cy="167.9" r="2.7" fill="#3c7040"/>
<circle cx="651.6" cy="174.8" r="2.0" fill="#6aa068"/>
<circle cx="646.3" cy="178.3" r="1.6" fill="#2f5e35"/>
<path d="M667.5,143.0 L666.5,207 L674.5,207 L673.5,143.0 Z" fill="#a29d96"/>
<path d="M670.5,176 L679.5,166 M670.5,178 L662.5,168" stroke="#a29d96" stroke-width="2.2"/>
<circle cx="669.3" cy="113.8" r="7.8" fill="#5a8a50" stroke="#5a8a50" stroke-width="1.6"/>
<circle cx="673.6" cy="117.8" r="10.4" fill="#5a8a50" stroke="#5a8a50" stroke-width="1.6"/>
<circle cx="679.0" cy="120.8" r="9.7" fill="#5a8a50" stroke="#5a8a50" stroke-width="1.6"/>
<circle cx="683.8" cy="124.2" r="9.0" fill="#5a8a50" stroke="#5a8a50" stroke-width="1.6"/>
<circle cx="691.5" cy="133.4" r="9.0" fill="#5a8a50" stroke="#5a8a50" stroke-width="1.6"/>
<circle cx="693.8" cy="141.3" r="10.4" fill="#5a8a50" stroke="#5a8a50" stroke-width="1.6"/>
<circle cx="697.7" cy="146.7" r="7.0" fill="#5a8a50" stroke="#5a8a50" stroke-width="1.6"/>
<circle cx="694.6" cy="156.0" r="7.5" fill="#5a8a50" stroke="#5a8a50" stroke-width="1.6"/>
<circle cx="690.1" cy="158.7" r="9.8" fill="#5a8a50" stroke="#5a8a50" stroke-width="1.6"/>
<circle cx="681.6" cy="165.8" r="10.2" fill="#5a8a50" stroke="#5a8a50" stroke-width="1.6"/>
<circle cx="675.6" cy="171.2" r="7.8" fill="#5a8a50" stroke="#5a8a50" stroke-width="1.6"/>
<circle cx="672.2" cy="172.3" r="7.5" fill="#5a8a50" stroke="#5a8a50" stroke-width="1.6"/>
<circle cx="662.1" cy="171.4" r="7.5" fill="#5a8a50" stroke="#5a8a50" stroke-width="1.6"/>
<circle cx="658.2" cy="170.1" r="7.1" fill="#5a8a50" stroke="#5a8a50" stroke-width="1.6"/>
<circle cx="651.8" cy="166.0" r="7.2" fill="#5a8a50" stroke="#5a8a50" stroke-width="1.6"/>
<circle cx="645.4" cy="158.6" r="7.7" fill="#5a8a50" stroke="#5a8a50" stroke-width="1.6"/>
<circle cx="644.6" cy="150.7" r="10.5" fill="#5a8a50" stroke="#5a8a50" stroke-width="1.6"/>
<circle cx="643.6" cy="144.2" r="10.1" fill="#5a8a50" stroke="#5a8a50" stroke-width="1.6"/>
<circle cx="646.2" cy="134.4" r="9.2" fill="#5a8a50" stroke="#5a8a50" stroke-width="1.6"/>
<circle cx="651.4" cy="128.5" r="9.9" fill="#5a8a50" stroke="#5a8a50" stroke-width="1.6"/>
<circle cx="656.1" cy="121.3" r="7.9" fill="#5a8a50" stroke="#5a8a50" stroke-width="1.6"/>
<circle cx="661.0" cy="117.5" r="8.0" fill="#5a8a50" stroke="#5a8a50" stroke-width="1.6"/>
<circle cx="666.2" cy="117.3" r="10.7" fill="#5a8a50" stroke="#5a8a50" stroke-width="1.6"/>
<polygon points="696.0,143.0 696.3,146.7 695.8,150.4 694.6,153.9 692.8,157.3 690.4,160.4 687.7,163.2 684.8,165.7 681.7,167.7 678.5,169.4 675.4,170.6 672.2,171.3 669.1,171.6 666.0,171.3 662.8,170.6 659.7,169.4 656.5,167.7 653.4,165.7 650.5,163.2 647.8,160.4 645.4,157.3 643.6,153.9 642.4,150.4 641.9,146.7 642.2,143.0 643.1,139.3 644.8,135.6 646.9,132.1 649.5,128.7 652.3,125.6 655.2,122.8 658.0,120.3 660.6,118.3 663.0,116.6 665.2,115.4 667.2,114.7 669.1,114.4 671.0,114.7 673.0,115.4 675.2,116.6 677.6,118.3 680.2,120.3 683.0,122.8 685.9,125.6 688.7,128.7 691.3,132.1 693.4,135.6 695.1,139.3" fill="#a3cf8c" stroke="#a3cf8c" stroke-width="1"/>
<circle cx="669.3" cy="113.8" r="7.8" fill="#a3cf8c"/>
<circle cx="673.6" cy="117.8" r="10.4" fill="#a3cf8c"/>
<circle cx="679.0" cy="120.8" r="9.7" fill="#a3cf8c"/>
<circle cx="683.8" cy="124.2" r="9.0" fill="#a3cf8c"/>
<circle cx="691.5" cy="133.4" r="9.0" fill="#a3cf8c"/>
<circle cx="693.8" cy="141.3" r="10.4" fill="#a3cf8c"/>
<circle cx="697.7" cy="146.7" r="7.0" fill="#a3cf8c"/>
<circle cx="694.6" cy="156.0" r="7.5" fill="#a3cf8c"/>
<circle cx="690.1" cy="158.7" r="9.8" fill="#a3cf8c"/>
<circle cx="681.6" cy="165.8" r="10.2" fill="#a3cf8c"/>
<circle cx="675.6" cy="171.2" r="7.8" fill="#a3cf8c"/>
<circle cx="672.2" cy="172.3" r="7.5" fill="#a3cf8c"/>
<circle cx="662.1" cy="171.4" r="7.5" fill="#a3cf8c"/>
<circle cx="658.2" cy="170.1" r="7.1" fill="#a3cf8c"/>
<circle cx="651.8" cy="166.0" r="7.2" fill="#a3cf8c"/>
<circle cx="645.4" cy="158.6" r="7.7" fill="#a3cf8c"/>
<circle cx="644.6" cy="150.7" r="10.5" fill="#a3cf8c"/>
<circle cx="643.6" cy="144.2" r="10.1" fill="#a3cf8c"/>
<circle cx="646.2" cy="134.4" r="9.2" fill="#a3cf8c"/>
<circle cx="651.4" cy="128.5" r="9.9" fill="#a3cf8c"/>
<circle cx="656.1" cy="121.3" r="7.9" fill="#a3cf8c"/>
<circle cx="661.0" cy="117.5" r="8.0" fill="#a3cf8c"/>
<circle cx="666.2" cy="117.3" r="10.7" fill="#a3cf8c"/>
<circle cx="662.3" cy="146.5" r="1.2" fill="#79aa66"/>
<circle cx="673.6" cy="153.9" r="2.9" fill="#c0e0aa"/>
<circle cx="678.5" cy="154.2" r="1.8" fill="#93c27e"/>
<circle cx="659.9" cy="151.7" r="2.2" fill="#c0e0aa"/>
<circle cx="648.8" cy="142.4" r="3.1" fill="#86b773"/>
<circle cx="641.3" cy="144.5" r="1.7" fill="#a9d394"/>
<circle cx="660.4" cy="163.2" r="1.7" fill="#b6da9f"/>
<circle cx="652.3" cy="160.7" r="2.9" fill="#b6da9f"/>
<circle cx="678.2" cy="140.2" r="2.8" fill="#6a9a5c"/>
<circle cx="664.8" cy="134.2" r="3.1" fill="#b6da9f"/>
<circle cx="659.8" cy="143.0" r="2.4" fill="#c0e0aa"/>
<circle cx="692.5" cy="137.9" r="2.8" fill="#86b773"/>
<circle cx="657.3" cy="150.1" r="1.4" fill="#79aa66"/>
<circle cx="664.7" cy="154.0" r="1.8" fill="#86b773"/>
<circle cx="683.7" cy="132.5" r="1.6" fill="#a9d394"/>
<circle cx="671.3" cy="120.7" r="2.6" fill="#79aa66"/>
<circle cx="663.5" cy="149.8" r="1.3" fill="#a9d394"/>
<circle cx="680.3" cy="140.3" r="1.3" fill="#c0e0aa"/>
<circle cx="660.9" cy="135.4" r="2.7" fill="#93c27e"/>
<circle cx="662.4" cy="150.0" r="1.6" fill="#86b773"/>
<circle cx="665.0" cy="133.3" r="2.1" fill="#93c27e"/>
<circle cx="642.9" cy="151.6" r="2.1" fill="#c0e0aa"/>
<circle cx="670.4" cy="139.9" r="1.5" fill="#c0e0aa"/>
<circle cx="692.3" cy="157.1" r="1.6" fill="#93c27e"/>
<circle cx="664.7" cy="127.4" r="1.3" fill="#6a9a5c"/>
<circle cx="649.5" cy="127.2" r="2.8" fill="#93c27e"/>
<circle cx="691.4" cy="160.2" r="3.2" fill="#c0e0aa"/>
<circle cx="669.4" cy="159.8" r="2.5" fill="#6a9a5c"/>
<circle cx="656.9" cy="162.0" r="2.4" fill="#c0e0aa"/>
<circle cx="666.4" cy="146.3" r="1.3" fill="#93c27e"/>
<circle cx="676.9" cy="139.5" r="2.6" fill="#6a9a5c"/>
<circle cx="682.0" cy="134.2" r="1.3" fill="#79aa66"/>
<circle cx="657.7" cy="121.1" r="1.7" fill="#79aa66"/>
<circle cx="672.2" cy="155.7" r="2.5" fill="#c0e0aa"/>
<circle cx="669.7" cy="115.8" r="1.8" fill="#c0e0aa"/>
<circle cx="692.5" cy="136.9" r="2.5" fill="#86b773"/>
<circle cx="673.7" cy="131.5" r="2.3" fill="#86b773"/>
<circle cx="683.5" cy="158.2" r="2.8" fill="#a9d394"/>
<circle cx="686.4" cy="165.3" r="1.8" fill="#86b773"/>
<circle cx="692.4" cy="142.3" r="2.6" fill="#c0e0aa"/>
<circle cx="672.5" cy="148.4" r="2.0" fill="#b6da9f"/>
<circle cx="693.1" cy="157.9" r="2.8" fill="#a9d394"/>
<circle cx="663.2" cy="119.2" r="3.2" fill="#86b773"/>
<circle cx="663.2" cy="163.4" r="1.9" fill="#79aa66"/>
<circle cx="652.1" cy="133.8" r="2.2" fill="#a9d394"/>
<circle cx="648.6" cy="160.1" r="3.0" fill="#a9d394"/>
<circle cx="678.6" cy="157.0" r="1.4" fill="#93c27e"/>
<circle cx="657.1" cy="161.9" r="2.6" fill="#a9d394"/>
<circle cx="692.5" cy="159.4" r="2.5" fill="#c0e0aa"/>
<circle cx="666.4" cy="141.3" r="2.4" fill="#93c27e"/>
<circle cx="666.9" cy="157.0" r="2.1" fill="#a9d394"/>
<circle cx="665.8" cy="144.9" r="2.6" fill="#c0e0aa"/>
<circle cx="680.9" cy="125.1" r="2.3" fill="#c0e0aa"/>
<circle cx="697.2" cy="145.9" r="2.5" fill="#b6da9f"/>
<circle cx="678.7" cy="163.9" r="2.9" fill="#c0e0aa"/>
<circle cx="658.5" cy="140.6" r="2.7" fill="#a9d394"/>
<circle cx="679.2" cy="148.7" r="2.4" fill="#93c27e"/>
<circle cx="673.8" cy="152.3" r="2.3" fill="#79aa66"/>
<circle cx="660.1" cy="151.4" r="2.5" fill="#86b773"/>
<circle cx="649.0" cy="151.1" r="1.4" fill="#c0e0aa"/>
<circle cx="676.9" cy="121.1" r="1.9" fill="#86b773"/>
<circle cx="643.4" cy="138.6" r="1.9" fill="#b6da9f"/>
<circle cx="682.2" cy="159.9" r="1.4" fill="#6a9a5c"/>
<circle cx="692.8" cy="142.2" r="1.5" fill="#b6da9f"/>
<circle cx="672.9" cy="168.5" r="2.3" fill="#c0e0aa"/>
<circle cx="664.4" cy="168.7" r="1.7" fill="#86b773"/>
<circle cx="668.5" cy="128.7" r="1.8" fill="#93c27e"/>
<circle cx="682.6" cy="132.3" r="2.1" fill="#c0e0aa"/>
<circle cx="670.7" cy="147.8" r="1.9" fill="#86b773"/>
<circle cx="673.3" cy="118.2" r="1.6" fill="#93c27e"/>
<circle cx="640.8" cy="148.4" r="2.6" fill="#c0e0aa"/>
<circle cx="644.0" cy="151.5" r="3.1" fill="#c0e0aa"/>
<circle cx="690.8" cy="135.2" r="2.7" fill="#b6da9f"/>
<circle cx="664.8" cy="152.7" r="2.1" fill="#79aa66"/>
<circle cx="678.0" cy="121.2" r="1.4" fill="#a9d394"/>
<circle cx="683.4" cy="146.9" r="2.5" fill="#a9d394"/>
<circle cx="660.5" cy="143.0" r="3.1" fill="#b6da9f"/>
<circle cx="670.2" cy="149.1" r="2.1" fill="#c0e0aa"/>
<circle cx="675.6" cy="146.5" r="1.6" fill="#c0e0aa"/>
<circle cx="661.7" cy="144.0" r="2.4" fill="#c0e0aa"/>
<circle cx="649.2" cy="161.3" r="2.5" fill="#93c27e"/>
<circle cx="660.6" cy="152.9" r="3.2" fill="#c0e0aa"/>
<circle cx="672.8" cy="124.1" r="2.6" fill="#86b773"/>
<circle cx="654.0" cy="150.0" r="2.7" fill="#b6da9f"/>
<circle cx="647.1" cy="152.4" r="1.6" fill="#79aa66"/>
<circle cx="664.8" cy="118.9" r="2.5" fill="#6a9a5c"/>
<circle cx="666.7" cy="136.1" r="2.2" fill="#b6da9f"/>
<circle cx="651.7" cy="125.3" r="1.6" fill="#a9d394"/>
<circle cx="658.8" cy="133.5" r="1.2" fill="#93c27e"/>
<circle cx="675.0" cy="138.4" r="1.7" fill="#93c27e"/>
<circle cx="673.1" cy="153.0" r="2.5" fill="#79aa66"/>
<circle cx="668.8" cy="140.0" r="2.4" fill="#79aa66"/>
<circle cx="675.6" cy="135.6" r="1.2" fill="#b6da9f"/>
<circle cx="657.6" cy="128.3" r="2.9" fill="#79aa66"/>
<circle cx="664.2" cy="168.5" r="1.7" fill="#93c27e"/>
<circle cx="666.9" cy="147.1" r="1.2" fill="#79aa66"/>
<circle cx="670.7" cy="128.7" r="2.7" fill="#79aa66"/>
<circle cx="692.3" cy="149.7" r="2.1" fill="#c0e0aa"/>
<circle cx="681.1" cy="153.0" r="2.5" fill="#79aa66"/>
<circle cx="697.0" cy="144.9" r="2.3" fill="#c0e0aa"/>
<circle cx="685.4" cy="128.6" r="2.5" fill="#93c27e"/>
<circle cx="649.7" cy="142.7" r="2.4" fill="#c0e0aa"/>
<circle cx="669.6" cy="158.5" r="1.8" fill="#a9d394"/>
<circle cx="665.9" cy="138.4" r="2.7" fill="#79aa66"/>
<circle cx="658.6" cy="120.2" r="1.6" fill="#6a9a5c"/>
<circle cx="668.9" cy="126.7" r="3.0" fill="#86b773"/>
<circle cx="677.4" cy="154.7" r="2.7" fill="#b6da9f"/>
<circle cx="695.6" cy="141.5" r="1.6" fill="#a9d394"/>
<circle cx="648.9" cy="156.1" r="2.0" fill="#c0e0aa"/>
<circle cx="671.1" cy="149.9" r="3.1" fill="#86b773"/>
<circle cx="654.0" cy="141.4" r="2.8" fill="#79aa66"/>
<rect x="686.5" y="170.66" width="4.4" height="36.34" fill="#6e4e3c"/>
<circle cx="689.6" cy="150.4" r="4.6" fill="#254a2a" stroke="#254a2a" stroke-width="1.6"/>
<circle cx="691.5" cy="150.8" r="3.9" fill="#254a2a" stroke="#254a2a" stroke-width="1.6"/>
<circle cx="692.9" cy="153.3" r="5.0" fill="#254a2a" stroke="#254a2a" stroke-width="1.6"/>
<circle cx="695.9" cy="155.1" r="3.8" fill="#254a2a" stroke="#254a2a" stroke-width="1.6"/>
<circle cx="697.4" cy="158.1" r="4.5" fill="#254a2a" stroke="#254a2a" stroke-width="1.6"/>
<circle cx="698.7" cy="161.4" r="5.2" fill="#254a2a" stroke="#254a2a" stroke-width="1.6"/>
<circle cx="701.1" cy="164.9" r="4.2" fill="#254a2a" stroke="#254a2a" stroke-width="1.6"/>
<circle cx="701.7" cy="170.0" r="4.6" fill="#254a2a" stroke="#254a2a" stroke-width="1.6"/>
<circle cx="702.2" cy="172.2" r="4.0" fill="#254a2a" stroke="#254a2a" stroke-width="1.6"/>
<circle cx="701.5" cy="176.8" r="3.5" fill="#254a2a" stroke="#254a2a" stroke-width="1.6"/>
<circle cx="698.5" cy="179.7" r="4.8" fill="#254a2a" stroke="#254a2a" stroke-width="1.6"/>
<circle cx="696.5" cy="182.0" r="5.0" fill="#254a2a" stroke="#254a2a" stroke-width="1.6"/>
<circle cx="693.6" cy="185.1" r="4.4" fill="#254a2a" stroke="#254a2a" stroke-width="1.6"/>
<circle cx="691.7" cy="186.9" r="3.6" fill="#254a2a" stroke="#254a2a" stroke-width="1.6"/>
<circle cx="690.1" cy="185.7" r="5.2" fill="#254a2a" stroke="#254a2a" stroke-width="1.6"/>
<circle cx="687.2" cy="187.0" r="3.8" fill="#254a2a" stroke="#254a2a" stroke-width="1.6"/>
<circle cx="683.9" cy="184.4" r="4.8" fill="#254a2a" stroke="#254a2a" stroke-width="1.6"/>
<circle cx="682.4" cy="184.2" r="4.0" fill="#254a2a" stroke="#254a2a" stroke-width="1.6"/>
<circle cx="679.7" cy="181.5" r="3.9" fill="#254a2a" stroke="#254a2a" stroke-width="1.6"/>
<circle cx="678.3" cy="178.6" r="4.4" fill="#254a2a" stroke="#254a2a" stroke-width="1.6"/>
<circle cx="676.4" cy="174.4" r="4.1" fill="#254a2a" stroke="#254a2a" stroke-width="1.6"/>
<circle cx="675.3" cy="170.9" r="3.6" fill="#254a2a" stroke="#254a2a" stroke-width="1.6"/>
<circle cx="677.0" cy="167.4" r="5.0" fill="#254a2a" stroke="#254a2a" stroke-width="1.6"/>
<circle cx="678.4" cy="161.6" r="4.4" fill="#254a2a" stroke="#254a2a" stroke-width="1.6"/>
<circle cx="679.0" cy="159.2" r="3.7" fill="#254a2a" stroke="#254a2a" stroke-width="1.6"/>
<circle cx="681.5" cy="156.1" r="4.0" fill="#254a2a" stroke="#254a2a" stroke-width="1.6"/>
<circle cx="683.7" cy="153.4" r="3.9" fill="#254a2a" stroke="#254a2a" stroke-width="1.6"/>
<circle cx="685.9" cy="151.1" r="3.8" fill="#254a2a" stroke="#254a2a" stroke-width="1.6"/>
<circle cx="688.2" cy="150.2" r="4.2" fill="#254a2a" stroke="#254a2a" stroke-width="1.6"/>
<polygon points="702.1,168.4 702.2,170.8 701.9,173.2 701.4,175.5 700.5,177.7 699.3,179.7 698.0,181.5 696.6,183.1 695.1,184.4 693.6,185.5 692.0,186.3 690.5,186.7 689.0,186.9 687.5,186.7 686.0,186.3 684.4,185.5 682.9,184.4 681.4,183.1 680.0,181.5 678.7,179.7 677.5,177.7 676.6,175.5 676.1,173.2 675.8,170.8 675.9,168.4 676.4,166.0 677.2,163.6 678.3,161.3 679.5,159.1 680.9,157.1 682.3,155.3 683.6,153.7 684.9,152.4 686.1,151.3 687.1,150.5 688.1,150.1 689.0,149.9 689.9,150.1 690.9,150.5 691.9,151.3 693.1,152.4 694.4,153.7 695.7,155.3 697.1,157.1 698.5,159.1 699.7,161.3 700.8,163.6 701.6,166.0" fill="#467f4a" stroke="#467f4a" stroke-width="1"/>
<circle cx="689.6" cy="150.4" r="4.6" fill="#467f4a"/>
<circle cx="691.5" cy="150.8" r="3.9" fill="#467f4a"/>
<circle cx="692.9" cy="153.3" r="5.0" fill="#467f4a"/>
<circle cx="695.9" cy="155.1" r="3.8" fill="#467f4a"/>
<circle cx="697.4" cy="158.1" r="4.5" fill="#467f4a"/>
<circle cx="698.7" cy="161.4" r="5.2" fill="#467f4a"/>
<circle cx="701.1" cy="164.9" r="4.2" fill="#467f4a"/>
<circle cx="701.7" cy="170.0" r="4.6" fill="#467f4a"/>
<circle cx="702.2" cy="172.2" r="4.0" fill="#467f4a"/>
<circle cx="701.5" cy="176.8" r="3.5" fill="#467f4a"/>
<circle cx="698.5" cy="179.7" r="4.8" fill="#467f4a"/>
<circle cx="696.5" cy="182.0" r="5.0" fill="#467f4a"/>
<circle cx="693.6" cy="185.1" r="4.4" fill="#467f4a"/>
<circle cx="691.7" cy="186.9" r="3.6" fill="#467f4a"/>
<circle cx="690.1" cy="185.7" r="5.2" fill="#467f4a"/>
<circle cx="687.2" cy="187.0" r="3.8" fill="#467f4a"/>
<circle cx="683.9" cy="184.4" r="4.8" fill="#467f4a"/>
<circle cx="682.4" cy="184.2" r="4.0" fill="#467f4a"/>
<circle cx="679.7" cy="181.5" r="3.9" fill="#467f4a"/>
<circle cx="678.3" cy="178.6" r="4.4" fill="#467f4a"/>
<circle cx="676.4" cy="174.4" r="4.1" fill="#467f4a"/>
<circle cx="675.3" cy="170.9" r="3.6" fill="#467f4a"/>
<circle cx="677.0" cy="167.4" r="5.0" fill="#467f4a"/>
<circle cx="678.4" cy="161.6" r="4.4" fill="#467f4a"/>
<circle cx="679.0" cy="159.2" r="3.7" fill="#467f4a"/>
<circle cx="681.5" cy="156.1" r="4.0" fill="#467f4a"/>
<circle cx="683.7" cy="153.4" r="3.9" fill="#467f4a"/>
<circle cx="685.9" cy="151.1" r="3.8" fill="#467f4a"/>
<circle cx="688.2" cy="150.2" r="4.2" fill="#467f4a"/>
<circle cx="681.3" cy="170.1" r="2.1" fill="#3c7040"/>
<circle cx="693.0" cy="159.0" r="2.2" fill="#5d9a5d"/>
<circle cx="680.9" cy="179.0" r="2.5" fill="#5d9a5d"/>
<circle cx="689.4" cy="185.3" r="2.1" fill="#6aa068"/>
<circle cx="684.6" cy="183.5" r="2.9" fill="#6aa068"/>
<circle cx="696.6" cy="160.4" r="1.3" fill="#528c52"/>
<circle cx="697.6" cy="175.5" r="1.8" fill="#6aa068"/>
<circle cx="686.9" cy="185.1" r="1.7" fill="#528c52"/>
<circle cx="695.6" cy="156.4" r="2.0" fill="#528c52"/>
<circle cx="689.2" cy="158.5" r="1.5" fill="#2f5e35"/>
<circle cx="700.1" cy="164.0" r="2.4" fill="#2f5e35"/>
<circle cx="687.0" cy="181.9" r="3.1" fill="#6aa068"/>
<circle cx="691.6" cy="158.3" r="3.1" fill="#2f5e35"/>
<circle cx="694.4" cy="157.3" r="2.5" fill="#3c7040"/>
<circle cx="700.1" cy="171.7" r="1.2" fill="#6aa068"/>
<circle cx="677.4" cy="170.3" r="1.4" fill="#3c7040"/>
<circle cx="697.7" cy="179.3" r="3.1" fill="#36693b"/>
<circle cx="700.4" cy="175.7" r="2.3" fill="#5d9a5d"/>
<circle cx="699.5" cy="168.0" r="2.9" fill="#5d9a5d"/>
<circle cx="690.0" cy="170.6" r="2.8" fill="#5d9a5d"/>
<circle cx="690.6" cy="171.1" r="2.4" fill="#5d9a5d"/>
<circle cx="691.1" cy="181.0" r="1.4" fill="#6aa068"/>
<circle cx="681.6" cy="180.0" r="2.2" fill="#6aa068"/>
<circle cx="688.3" cy="171.3" r="2.9" fill="#6aa068"/>
<circle cx="690.0" cy="168.5" r="2.4" fill="#2f5e35"/>
<circle cx="687.0" cy="174.0" r="1.4" fill="#2f5e35"/>
<circle cx="680.7" cy="178.3" r="1.6" fill="#2f5e35"/>
<circle cx="694.1" cy="172.3" r="1.7" fill="#36693b"/>
<circle cx="693.0" cy="179.7" r="2.8" fill="#36693b"/>
<circle cx="681.2" cy="165.1" r="2.7" fill="#6aa068"/>
<circle cx="691.0" cy="168.5" r="1.9" fill="#36693b"/>
<circle cx="685.0" cy="175.1" r="2.4" fill="#2f5e35"/>
<ellipse cx="661.2" cy="198.3" rx="9.6" ry="7.3" fill="#8fbd78" stroke="#4f7a45" stroke-width="0.7"/>
<circle cx="661.6" cy="199.1" r="4.2" fill="#a6d08f" stroke="#5f8c54" stroke-width="0.4"/>
<circle cx="666.6" cy="201.6" r="3.2" fill="#a6d08f" stroke="#5f8c54" stroke-width="0.4"/>
<circle cx="667.2" cy="197.6" r="3.1" fill="#a6d08f" stroke="#5f8c54" stroke-width="0.4"/>
<circle cx="655.8" cy="198.4" r="2.8" fill="#a6d08f" stroke="#5f8c54" stroke-width="0.4"/>
<circle cx="658.2" cy="199.3" r="4.1" fill="#a6d08f" stroke="#5f8c54" stroke-width="0.4"/>
<circle cx="664.6" cy="194.7" r="2.6" fill="#a6d08f" stroke="#5f8c54" stroke-width="0.4"/>
<rect x="638" y="206.4" width="54" height="28" fill="#76905a"/>
<rect x="638" y="206.4" width="54" height="2.5" fill="#9dbb7e"/>
<rect x="692" y="207" width="8.5" height="27.5" fill="#9a8a78"/><path d="M692,215.25 L700.5,216.625 M692,223.5 L700.5,224.875 M696.25,207 L696.25,215.25 M694.55,216.625 L694.55,223.5 M697.1,224.875 L697.1,234.5" stroke="#5e4f42" stroke-width="0.8"/>
<rect x="1118.8" y="188.475" width="4.4" height="35.525000000000006" fill="#6e4e3c"/>
<circle cx="1121.6" cy="167.9" r="3.9" fill="#254a2a" stroke="#254a2a" stroke-width="1.6"/>
<circle cx="1122.9" cy="169.7" r="5.2" fill="#254a2a" stroke="#254a2a" stroke-width="1.6"/>
<circle cx="1125.3" cy="171.2" r="4.7" fill="#254a2a" stroke="#254a2a" stroke-width="1.6"/>
<circle cx="1127.7" cy="173.1" r="4.2" fill="#254a2a" stroke="#254a2a" stroke-width="1.6"/>
<circle cx="1130.2" cy="176.8" r="4.5" fill="#254a2a" stroke="#254a2a" stroke-width="1.6"/>
<circle cx="1132.2" cy="180.5" r="4.7" fill="#254a2a" stroke="#254a2a" stroke-width="1.6"/>
<circle cx="1134.0" cy="184.5" r="4.3" fill="#254a2a" stroke="#254a2a" stroke-width="1.6"/>
<circle cx="1134.9" cy="186.7" r="3.7" fill="#254a2a" stroke="#254a2a" stroke-width="1.6"/>
<circle cx="1134.4" cy="192.3" r="3.8" fill="#254a2a" stroke="#254a2a" stroke-width="1.6"/>
<circle cx="1132.3" cy="195.4" r="4.6" fill="#254a2a" stroke="#254a2a" stroke-width="1.6"/>
<circle cx="1130.9" cy="197.2" r="4.9" fill="#254a2a" stroke="#254a2a" stroke-width="1.6"/>
<circle cx="1128.6" cy="199.7" r="5.1" fill="#254a2a" stroke="#254a2a" stroke-width="1.6"/>
<circle cx="1125.1" cy="203.7" r="3.9" fill="#254a2a" stroke="#254a2a" stroke-width="1.6"/>
<circle cx="1122.5" cy="203.6" r="4.8" fill="#254a2a" stroke="#254a2a" stroke-width="1.6"/>
<circle cx="1121.0" cy="203.8" r="4.7" fill="#254a2a" stroke="#254a2a" stroke-width="1.6"/>
<circle cx="1118.5" cy="202.8" r="5.2" fill="#254a2a" stroke="#254a2a" stroke-width="1.6"/>
<circle cx="1115.2" cy="200.7" r="5.3" fill="#254a2a" stroke="#254a2a" stroke-width="1.6"/>
<circle cx="1113.1" cy="200.4" r="4.1" fill="#254a2a" stroke="#254a2a" stroke-width="1.6"/>
<circle cx="1110.4" cy="195.9" r="4.6" fill="#254a2a" stroke="#254a2a" stroke-width="1.6"/>
<circle cx="1109.7" cy="193.3" r="5.1" fill="#254a2a" stroke="#254a2a" stroke-width="1.6"/>
<circle cx="1107.7" cy="188.0" r="4.0" fill="#254a2a" stroke="#254a2a" stroke-width="1.6"/>
<circle cx="1108.5" cy="185.9" r="4.7" fill="#254a2a" stroke="#254a2a" stroke-width="1.6"/>
<circle cx="1109.8" cy="181.3" r="4.7" fill="#254a2a" stroke="#254a2a" stroke-width="1.6"/>
<circle cx="1111.6" cy="177.2" r="4.2" fill="#254a2a" stroke="#254a2a" stroke-width="1.6"/>
<circle cx="1112.9" cy="174.7" r="3.7" fill="#254a2a" stroke="#254a2a" stroke-width="1.6"/>
<circle cx="1116.5" cy="171.9" r="4.8" fill="#254a2a" stroke="#254a2a" stroke-width="1.6"/>
<circle cx="1118.4" cy="170.1" r="4.8" fill="#254a2a" stroke="#254a2a" stroke-width="1.6"/>
<circle cx="1120.2" cy="169.3" r="5.1" fill="#254a2a" stroke="#254a2a" stroke-width="1.6"/>
<polygon points="1134.5,186.2 1134.6,188.6 1134.4,190.9 1133.8,193.2 1132.9,195.3 1131.7,197.3 1130.4,199.0 1128.9,200.6 1127.4,201.9 1125.8,203.0 1124.3,203.7 1122.7,204.2 1121.2,204.3 1119.7,204.2 1118.1,203.7 1116.6,203.0 1115.0,201.9 1113.5,200.6 1112.0,199.0 1110.7,197.3 1109.5,195.3 1108.6,193.2 1108.0,190.9 1107.8,188.6 1107.9,186.2 1108.4,183.9 1109.2,181.6 1110.3,179.3 1111.5,177.2 1112.9,175.2 1114.3,173.5 1115.7,171.9 1117.0,170.6 1118.2,169.5 1119.3,168.8 1120.3,168.3 1121.2,168.2 1122.1,168.3 1123.1,168.8 1124.2,169.5 1125.4,170.6 1126.7,171.9 1128.1,173.5 1129.5,175.2 1130.9,177.2 1132.1,179.3 1133.2,181.6 1134.0,183.9" fill="#467f4a" stroke="#467f4a" stroke-width="1"/>
<circle cx="1121.6" cy="167.9" r="3.9" fill="#467f4a"/>
<circle cx="1122.9" cy="169.7" r="5.2" fill="#467f4a"/>
<circle cx="1125.3" cy="171.2" r="4.7" fill="#467f4a"/>
<circle cx="1127.7" cy="173.1" r="4.2" fill="#467f4a"/>
<circle cx="1130.2" cy="176.8" r="4.5" fill="#467f4a"/>
<circle cx="1132.2" cy="180.5" r="4.7" fill="#467f4a"/>
<circle cx="1134.0" cy="184.5" r="4.3" fill="#467f4a"/>
<circle cx="1134.9" cy="186.7" r="3.7" fill="#467f4a"/>
<circle cx="1134.4" cy="192.3" r="3.8" fill="#467f4a"/>
<circle cx="1132.3" cy="195.4" r="4.6" fill="#467f4a"/>
<circle cx="1130.9" cy="197.2" r="4.9" fill="#467f4a"/>
<circle cx="1128.6" cy="199.7" r="5.1" fill="#467f4a"/>
<circle cx="1125.1" cy="203.7" r="3.9" fill="#467f4a"/>
<circle cx="1122.5" cy="203.6" r="4.8" fill="#467f4a"/>
<circle cx="1121.0" cy="203.8" r="4.7" fill="#467f4a"/>
<circle cx="1118.5" cy="202.8" r="5.2" fill="#467f4a"/>
<circle cx="1115.2" cy="200.7" r="5.3" fill="#467f4a"/>
<circle cx="1113.1" cy="200.4" r="4.1" fill="#467f4a"/>
<circle cx="1110.4" cy="195.9" r="4.6" fill="#467f4a"/>
<circle cx="1109.7" cy="193.3" r="5.1" fill="#467f4a"/>
<circle cx="1107.7" cy="188.0" r="4.0" fill="#467f4a"/>
<circle cx="1108.5" cy="185.9" r="4.7" fill="#467f4a"/>
<circle cx="1109.8" cy="181.3" r="4.7" fill="#467f4a"/>
<circle cx="1111.6" cy="177.2" r="4.2" fill="#467f4a"/>
<circle cx="1112.9" cy="174.7" r="3.7" fill="#467f4a"/>
<circle cx="1116.5" cy="171.9" r="4.8" fill="#467f4a"/>
<circle cx="1118.4" cy="170.1" r="4.8" fill="#467f4a"/>
<circle cx="1120.2" cy="169.3" r="5.1" fill="#467f4a"/>
<circle cx="1118.5" cy="178.2" r="2.8" fill="#36693b"/>
<circle cx="1119.9" cy="172.0" r="2.9" fill="#6aa068"/>
<circle cx="1121.2" cy="180.6" r="2.6" fill="#6aa068"/>
<circle cx="1126.4" cy="179.5" r="2.7" fill="#6aa068"/>
<circle cx="1116.1" cy="179.2" r="3.1" fill="#5d9a5d"/>
<circle cx="1121.6" cy="197.6" r="2.1" fill="#6aa068"/>
<circle cx="1120.1" cy="171.2" r="3.1" fill="#5d9a5d"/>
<circle cx="1120.3" cy="194.1" r="1.7" fill="#6aa068"/>
<circle cx="1113.5" cy="196.3" r="2.0" fill="#3c7040"/>
<circle cx="1127.6" cy="176.4" r="1.4" fill="#6aa068"/>
<circle cx="1116.0" cy="183.7" r="1.6" fill="#36693b"/>
<circle cx="1120.2" cy="182.5" r="2.3" fill="#36693b"/>
<circle cx="1116.3" cy="177.8" r="1.7" fill="#5d9a5d"/>
<circle cx="1120.0" cy="181.0" r="2.4" fill="#528c52"/>
<circle cx="1120.0" cy="173.8" r="2.0" fill="#528c52"/>
<circle cx="1117.1" cy="193.3" r="1.3" fill="#2f5e35"/>
<circle cx="1112.3" cy="177.3" r="1.5" fill="#6aa068"/>
<circle cx="1109.0" cy="184.4" r="2.7" fill="#528c52"/>
<circle cx="1121.6" cy="181.7" r="2.5" fill="#3c7040"/>
<circle cx="1120.0" cy="178.8" r="3.0" fill="#528c52"/>
<circle cx="1126.1" cy="180.9" r="1.7" fill="#36693b"/>
<circle cx="1116.7" cy="191.9" r="2.9" fill="#5d9a5d"/>
<circle cx="1119.6" cy="199.2" r="2.0" fill="#2f5e35"/>
<circle cx="1109.0" cy="187.1" r="2.2" fill="#5d9a5d"/>
<circle cx="1116.9" cy="181.6" r="3.0" fill="#36693b"/>
<circle cx="1119.7" cy="194.5" r="3.1" fill="#528c52"/>
<circle cx="1122.1" cy="182.7" r="2.8" fill="#6aa068"/>
<circle cx="1110.7" cy="183.0" r="1.6" fill="#6aa068"/>
<circle cx="1122.6" cy="177.0" r="2.4" fill="#2f5e35"/>
<circle cx="1119.7" cy="187.2" r="2.9" fill="#36693b"/>
<circle cx="1116.3" cy="185.7" r="2.4" fill="#6aa068"/>
<circle cx="1116.8" cy="192.1" r="2.4" fill="#2f5e35"/>
<circle cx="1113.2" cy="181.9" r="2.0" fill="#36693b"/>
<path d="M1150.8,159.5 L1149.8,224 L1157.8,224 L1156.8,159.5 Z" fill="#a29d96"/>
<path d="M1153.8,192 L1162.8,182 M1153.8,194 L1145.8,184" stroke="#a29d96" stroke-width="2.2"/>
<circle cx="1157.1" cy="130.1" r="6.9" fill="#5a8a50" stroke="#5a8a50" stroke-width="1.6"/>
<circle cx="1160.4" cy="132.1" r="7.7" fill="#5a8a50" stroke="#5a8a50" stroke-width="1.6"/>
<circle cx="1166.1" cy="138.0" r="9.3" fill="#5a8a50" stroke="#5a8a50" stroke-width="1.6"/>
<circle cx="1173.5" cy="142.5" r="7.2" fill="#5a8a50" stroke="#5a8a50" stroke-width="1.6"/>
<circle cx="1177.8" cy="147.6" r="7.0" fill="#5a8a50" stroke="#5a8a50" stroke-width="1.6"/>
<circle cx="1180.1" cy="154.7" r="8.7" fill="#5a8a50" stroke="#5a8a50" stroke-width="1.6"/>
<circle cx="1182.8" cy="161.6" r="7.6" fill="#5a8a50" stroke="#5a8a50" stroke-width="1.6"/>
<circle cx="1179.4" cy="171.3" r="8.8" fill="#5a8a50" stroke="#5a8a50" stroke-width="1.6"/>
<circle cx="1176.0" cy="176.1" r="9.0" fill="#5a8a50" stroke="#5a8a50" stroke-width="1.6"/>
<circle cx="1169.5" cy="184.6" r="6.9" fill="#5a8a50" stroke="#5a8a50" stroke-width="1.6"/>
<circle cx="1162.1" cy="185.5" r="9.4" fill="#5a8a50" stroke="#5a8a50" stroke-width="1.6"/>
<circle cx="1157.7" cy="188.5" r="7.4" fill="#5a8a50" stroke="#5a8a50" stroke-width="1.6"/>
<circle cx="1149.2" cy="186.8" r="8.1" fill="#5a8a50" stroke="#5a8a50" stroke-width="1.6"/>
<circle cx="1145.4" cy="186.2" r="7.2" fill="#5a8a50" stroke="#5a8a50" stroke-width="1.6"/>
<circle cx="1137.6" cy="178.4" r="9.0" fill="#5a8a50" stroke="#5a8a50" stroke-width="1.6"/>
<circle cx="1133.4" cy="172.3" r="9.5" fill="#5a8a50" stroke="#5a8a50" stroke-width="1.6"/>
<circle cx="1131.8" cy="166.2" r="10.4" fill="#5a8a50" stroke="#5a8a50" stroke-width="1.6"/>
<circle cx="1130.1" cy="159.8" r="8.9" fill="#5a8a50" stroke="#5a8a50" stroke-width="1.6"/>
<circle cx="1133.8" cy="150.6" r="9.1" fill="#5a8a50" stroke="#5a8a50" stroke-width="1.6"/>
<circle cx="1138.9" cy="143.8" r="9.0" fill="#5a8a50" stroke="#5a8a50" stroke-width="1.6"/>
<circle cx="1143.1" cy="137.2" r="7.0" fill="#5a8a50" stroke="#5a8a50" stroke-width="1.6"/>
<circle cx="1147.6" cy="134.6" r="7.9" fill="#5a8a50" stroke="#5a8a50" stroke-width="1.6"/>
<circle cx="1151.8" cy="131.7" r="7.7" fill="#5a8a50" stroke="#5a8a50" stroke-width="1.6"/>
<polygon points="1181.9,159.5 1182.1,163.2 1181.7,166.8 1180.5,170.3 1178.7,173.6 1176.5,176.7 1173.8,179.5 1170.9,181.9 1167.9,184.0 1164.9,185.6 1161.8,186.8 1158.7,187.5 1155.7,187.8 1152.7,187.5 1149.6,186.8 1146.5,185.6 1143.5,184.0 1140.5,181.9 1137.6,179.5 1134.9,176.7 1132.7,173.6 1130.9,170.3 1129.7,166.8 1129.3,163.2 1129.5,159.5 1130.4,155.8 1132.0,152.2 1134.1,148.7 1136.6,145.4 1139.4,142.3 1142.2,139.5 1144.9,137.1 1147.4,135.0 1149.8,133.4 1151.9,132.2 1153.9,131.5 1155.7,131.2 1157.5,131.5 1159.5,132.2 1161.6,133.4 1164.0,135.0 1166.5,137.1 1169.2,139.5 1172.0,142.3 1174.8,145.4 1177.3,148.7 1179.4,152.2 1181.0,155.8" fill="#a3cf8c" stroke="#a3cf8c" stroke-width="1"/>
<circle cx="1157.1" cy="130.1" r="6.9" fill="#a3cf8c"/>
<circle cx="1160.4" cy="132.1" r="7.7" fill="#a3cf8c"/>
<circle cx="1166.1" cy="138.0" r="9.3" fill="#a3cf8c"/>
<circle cx="1173.5" cy="142.5" r="7.2" fill="#a3cf8c"/>
<circle cx="1177.8" cy="147.6" r="7.0" fill="#a3cf8c"/>
<circle cx="1180.1" cy="154.7" r="8.7" fill="#a3cf8c"/>
<circle cx="1182.8" cy="161.6" r="7.6" fill="#a3cf8c"/>
<circle cx="1179.4" cy="171.3" r="8.8" fill="#a3cf8c"/>
<circle cx="1176.0" cy="176.1" r="9.0" fill="#a3cf8c"/>
<circle cx="1169.5" cy="184.6" r="6.9" fill="#a3cf8c"/>
<circle cx="1162.1" cy="185.5" r="9.4" fill="#a3cf8c"/>
<circle cx="1157.7" cy="188.5" r="7.4" fill="#a3cf8c"/>
<circle cx="1149.2" cy="186.8" r="8.1" fill="#a3cf8c"/>
<circle cx="1145.4" cy="186.2" r="7.2" fill="#a3cf8c"/>
<circle cx="1137.6" cy="178.4" r="9.0" fill="#a3cf8c"/>
<circle cx="1133.4" cy="172.3" r="9.5" fill="#a3cf8c"/>
<circle cx="1131.8" cy="166.2" r="10.4" fill="#a3cf8c"/>
<circle cx="1130.1" cy="159.8" r="8.9" fill="#a3cf8c"/>
<circle cx="1133.8" cy="150.6" r="9.1" fill="#a3cf8c"/>
<circle cx="1138.9" cy="143.8" r="9.0" fill="#a3cf8c"/>
<circle cx="1143.1" cy="137.2" r="7.0" fill="#a3cf8c"/>
<circle cx="1147.6" cy="134.6" r="7.9" fill="#a3cf8c"/>
<circle cx="1151.8" cy="131.7" r="7.7" fill="#a3cf8c"/>
<circle cx="1167.4" cy="168.7" r="2.9" fill="#6a9a5c"/>
<circle cx="1163.7" cy="174.4" r="1.7" fill="#6a9a5c"/>
<circle cx="1173.8" cy="150.4" r="2.5" fill="#93c27e"/>
<circle cx="1143.1" cy="156.4" r="2.0" fill="#79aa66"/>
<circle cx="1177.3" cy="158.0" r="1.6" fill="#93c27e"/>
<circle cx="1145.7" cy="182.5" r="1.7" fill="#c0e0aa"/>
<circle cx="1171.1" cy="162.8" r="1.3" fill="#86b773"/>
<circle cx="1170.4" cy="148.0" r="1.8" fill="#6a9a5c"/>
<circle cx="1149.4" cy="144.2" r="2.1" fill="#6a9a5c"/>
<circle cx="1154.6" cy="174.0" r="2.3" fill="#93c27e"/>
<circle cx="1155.5" cy="140.3" r="2.0" fill="#93c27e"/>
<circle cx="1160.4" cy="188.2" r="2.2" fill="#93c27e"/>
<circle cx="1156.2" cy="132.3" r="2.5" fill="#b6da9f"/>
<circle cx="1158.3" cy="141.1" r="2.0" fill="#c0e0aa"/>
<circle cx="1143.2" cy="148.1" r="3.1" fill="#86b773"/>
<circle cx="1157.0" cy="157.1" r="1.4" fill="#6a9a5c"/>
<circle cx="1169.2" cy="142.7" r="2.5" fill="#a9d394"/>
<circle cx="1169.4" cy="172.0" r="1.2" fill="#79aa66"/>
<circle cx="1153.5" cy="135.0" r="2.7" fill="#93c27e"/>
<circle cx="1146.8" cy="159.0" r="1.8" fill="#6a9a5c"/>
<circle cx="1146.1" cy="142.0" r="1.9" fill="#b6da9f"/>
<circle cx="1169.0" cy="183.8" r="3.0" fill="#93c27e"/>
<circle cx="1143.2" cy="147.6" r="3.1" fill="#c0e0aa"/>
<circle cx="1169.1" cy="141.0" r="1.7" fill="#86b773"/>
<circle cx="1156.7" cy="181.6" r="1.4" fill="#c0e0aa"/>
<circle cx="1148.4" cy="160.2" r="2.3" fill="#a9d394"/>
<circle cx="1171.0" cy="176.4" r="1.5" fill="#93c27e"/>
<circle cx="1135.5" cy="155.5" r="3.1" fill="#b6da9f"/>
<circle cx="1156.1" cy="135.2" r="1.8" fill="#6a9a5c"/>
<circle cx="1177.7" cy="158.8" r="3.0" fill="#79aa66"/>
<circle cx="1142.3" cy="163.9" r="1.9" fill="#c0e0aa"/>
<circle cx="1146.5" cy="152.1" r="1.2" fill="#b6da9f"/>
<circle cx="1154.7" cy="152.6" r="3.0" fill="#c0e0aa"/>
<circle cx="1158.9" cy="153.5" r="1.8" fill="#b6da9f"/>
<circle cx="1135.4" cy="161.5" r="3.1" fill="#6a9a5c"/>
<circle cx="1140.9" cy="150.8" r="2.1" fill="#a9d394"/>
<circle cx="1148.6" cy="164.5" r="2.1" fill="#6a9a5c"/>
<circle cx="1138.8" cy="168.8" r="1.3" fill="#6a9a5c"/>
<circle cx="1147.4" cy="140.1" r="2.0" fill="#c0e0aa"/>
<circle cx="1143.0" cy="182.5" r="1.6" fill="#b6da9f"/>
<circle cx="1146.2" cy="157.0" r="1.8" fill="#b6da9f"/>
<circle cx="1155.7" cy="187.7" r="2.8" fill="#79aa66"/>
<circle cx="1159.3" cy="152.3" r="3.2" fill="#6a9a5c"/>
<circle cx="1164.5" cy="134.7" r="2.9" fill="#a9d394"/>
<circle cx="1164.6" cy="177.2" r="2.9" fill="#b6da9f"/>
<circle cx="1163.0" cy="152.7" r="3.2" fill="#c0e0aa"/>
<circle cx="1153.7" cy="185.3" r="1.8" fill="#79aa66"/>
<circle cx="1151.3" cy="135.8" r="2.3" fill="#a9d394"/>
<circle cx="1154.5" cy="148.2" r="1.6" fill="#86b773"/>
<circle cx="1178.2" cy="168.5" r="2.7" fill="#c0e0aa"/>
<circle cx="1175.8" cy="167.4" r="3.0" fill="#93c27e"/>
<circle cx="1149.6" cy="158.1" r="1.4" fill="#93c27e"/>
<circle cx="1163.3" cy="180.3" r="2.9" fill="#6a9a5c"/>
<circle cx="1133.7" cy="175.7" r="1.7" fill="#93c27e"/>
<circle cx="1141.2" cy="146.6" r="2.5" fill="#79aa66"/>
<circle cx="1143.2" cy="152.9" r="1.6" fill="#86b773"/>
<circle cx="1154.1" cy="145.5" r="1.5" fill="#79aa66"/>
<circle cx="1148.0" cy="143.8" r="3.1" fill="#a9d394"/>
<circle cx="1177.5" cy="160.9" r="3.2" fill="#93c27e"/>
<circle cx="1167.3" cy="165.5" r="1.5" fill="#86b773"/>
<circle cx="1151.7" cy="165.8" r="1.9" fill="#b6da9f"/>
<circle cx="1168.6" cy="181.9" r="1.8" fill="#6a9a5c"/>
<circle cx="1179.7" cy="156.8" r="1.2" fill="#93c27e"/>
<circle cx="1159.4" cy="144.9" r="1.4" fill="#6a9a5c"/>
<circle cx="1163.2" cy="149.0" r="2.7" fill="#c0e0aa"/>
<circle cx="1163.4" cy="172.4" r="2.6" fill="#b6da9f"/>
<circle cx="1161.3" cy="181.9" r="2.2" fill="#86b773"/>
<circle cx="1155.5" cy="187.4" r="1.4" fill="#c0e0aa"/>
<circle cx="1142.7" cy="166.6" r="1.9" fill="#c0e0aa"/>
<circle cx="1173.7" cy="180.8" r="2.7" fill="#b6da9f"/>
<circle cx="1140.2" cy="153.4" r="1.4" fill="#c0e0aa"/>
<circle cx="1175.2" cy="151.2" r="2.3" fill="#b6da9f"/>
<circle cx="1162.4" cy="140.2" r="2.1" fill="#b6da9f"/>
<circle cx="1172.1" cy="164.1" r="3.1" fill="#a9d394"/>
<circle cx="1172.0" cy="163.9" r="1.7" fill="#6a9a5c"/>
<circle cx="1175.0" cy="175.1" r="2.0" fill="#a9d394"/>
<circle cx="1149.9" cy="151.6" r="2.9" fill="#b6da9f"/>
<circle cx="1179.3" cy="155.6" r="1.2" fill="#79aa66"/>
<circle cx="1155.0" cy="142.7" r="2.8" fill="#79aa66"/>
<circle cx="1167.1" cy="139.6" r="1.5" fill="#86b773"/>
<circle cx="1152.8" cy="142.2" r="2.9" fill="#c0e0aa"/>
<circle cx="1159.5" cy="185.6" r="1.9" fill="#79aa66"/>
<circle cx="1162.3" cy="134.8" r="1.2" fill="#b6da9f"/>
<circle cx="1160.7" cy="175.2" r="1.3" fill="#a9d394"/>
<circle cx="1157.0" cy="142.3" r="2.0" fill="#93c27e"/>
<circle cx="1175.1" cy="157.0" r="1.4" fill="#c0e0aa"/>
<circle cx="1166.6" cy="157.2" r="1.3" fill="#86b773"/>
<circle cx="1145.0" cy="149.7" r="1.8" fill="#a9d394"/>
<circle cx="1143.7" cy="146.5" r="3.0" fill="#79aa66"/>
<circle cx="1157.6" cy="165.2" r="1.2" fill="#79aa66"/>
<circle cx="1171.2" cy="149.8" r="3.1" fill="#6a9a5c"/>
<circle cx="1155.2" cy="146.5" r="1.3" fill="#79aa66"/>
<circle cx="1150.6" cy="145.0" r="2.5" fill="#86b773"/>
<circle cx="1173.7" cy="179.1" r="1.8" fill="#93c27e"/>
<circle cx="1141.0" cy="169.6" r="2.3" fill="#86b773"/>
<circle cx="1163.0" cy="181.8" r="2.6" fill="#79aa66"/>
<circle cx="1169.9" cy="146.3" r="2.0" fill="#86b773"/>
<circle cx="1160.5" cy="145.5" r="2.1" fill="#b6da9f"/>
<circle cx="1139.2" cy="148.1" r="2.1" fill="#79aa66"/>
<circle cx="1150.3" cy="140.8" r="3.0" fill="#a9d394"/>
<circle cx="1157.5" cy="147.9" r="1.8" fill="#c0e0aa"/>
<circle cx="1148.6" cy="139.7" r="2.8" fill="#c0e0aa"/>
<circle cx="1155.8" cy="135.4" r="2.8" fill="#b6da9f"/>
<circle cx="1159.1" cy="164.5" r="2.4" fill="#79aa66"/>
<circle cx="1156.9" cy="139.8" r="2.4" fill="#6a9a5c"/>
<circle cx="1153.9" cy="141.7" r="1.7" fill="#79aa66"/>
<rect x="1182.8" y="187.65" width="4.4" height="36.349999999999994" fill="#6e4e3c"/>
<circle cx="1184.0" cy="168.8" r="4.8" fill="#254a2a" stroke="#254a2a" stroke-width="1.6"/>
<circle cx="1185.9" cy="168.9" r="4.4" fill="#254a2a" stroke="#254a2a" stroke-width="1.6"/>
<circle cx="1188.4" cy="171.6" r="5.0" fill="#254a2a" stroke="#254a2a" stroke-width="1.6"/>
<circle cx="1190.6" cy="173.2" r="4.4" fill="#254a2a" stroke="#254a2a" stroke-width="1.6"/>
<circle cx="1192.5" cy="175.3" r="4.3" fill="#254a2a" stroke="#254a2a" stroke-width="1.6"/>
<circle cx="1194.7" cy="179.9" r="5.1" fill="#254a2a" stroke="#254a2a" stroke-width="1.6"/>
<circle cx="1196.5" cy="184.0" r="4.9" fill="#254a2a" stroke="#254a2a" stroke-width="1.6"/>
<circle cx="1197.9" cy="187.7" r="3.8" fill="#254a2a" stroke="#254a2a" stroke-width="1.6"/>
<circle cx="1195.8" cy="192.2" r="5.0" fill="#254a2a" stroke="#254a2a" stroke-width="1.6"/>
<circle cx="1195.8" cy="195.3" r="3.7" fill="#254a2a" stroke="#254a2a" stroke-width="1.6"/>
<circle cx="1192.6" cy="198.1" r="4.4" fill="#254a2a" stroke="#254a2a" stroke-width="1.6"/>
<circle cx="1189.4" cy="200.6" r="4.6" fill="#254a2a" stroke="#254a2a" stroke-width="1.6"/>
<circle cx="1187.2" cy="201.8" r="4.6" fill="#254a2a" stroke="#254a2a" stroke-width="1.6"/>
<circle cx="1184.7" cy="203.4" r="3.6" fill="#254a2a" stroke="#254a2a" stroke-width="1.6"/>
<circle cx="1182.6" cy="201.6" r="5.3" fill="#254a2a" stroke="#254a2a" stroke-width="1.6"/>
<circle cx="1178.3" cy="201.0" r="4.1" fill="#254a2a" stroke="#254a2a" stroke-width="1.6"/>
<circle cx="1175.7" cy="198.3" r="4.5" fill="#254a2a" stroke="#254a2a" stroke-width="1.6"/>
<circle cx="1174.9" cy="196.6" r="5.1" fill="#254a2a" stroke="#254a2a" stroke-width="1.6"/>
<circle cx="1172.5" cy="192.4" r="5.3" fill="#254a2a" stroke="#254a2a" stroke-width="1.6"/>
<circle cx="1170.0" cy="188.8" r="3.7" fill="#254a2a" stroke="#254a2a" stroke-width="1.6"/>
<circle cx="1171.4" cy="184.9" r="5.0" fill="#254a2a" stroke="#254a2a" stroke-width="1.6"/>
<circle cx="1172.2" cy="180.2" r="4.1" fill="#254a2a" stroke="#254a2a" stroke-width="1.6"/>
<circle cx="1174.3" cy="177.7" r="4.8" fill="#254a2a" stroke="#254a2a" stroke-width="1.6"/>
<circle cx="1176.3" cy="175.4" r="5.1" fill="#254a2a" stroke="#254a2a" stroke-width="1.6"/>
<circle cx="1179.0" cy="170.5" r="3.6" fill="#254a2a" stroke="#254a2a" stroke-width="1.6"/>
<circle cx="1181.1" cy="169.4" r="4.2" fill="#254a2a" stroke="#254a2a" stroke-width="1.6"/>
<circle cx="1182.5" cy="169.0" r="4.6" fill="#254a2a" stroke="#254a2a" stroke-width="1.6"/>
<polygon points="1197.4,185.5 1197.6,187.8 1197.3,190.0 1196.7,192.1 1195.8,194.1 1194.6,196.0 1193.3,197.7 1191.8,199.2 1190.3,200.5 1188.7,201.5 1187.1,202.2 1185.6,202.6 1184.0,202.8 1182.4,202.6 1180.9,202.2 1179.3,201.5 1177.7,200.5 1176.2,199.2 1174.7,197.7 1173.4,196.0 1172.2,194.1 1171.3,192.1 1170.7,190.0 1170.4,187.8 1170.6,185.5 1171.0,183.2 1171.9,181.0 1172.9,178.9 1174.2,176.9 1175.6,175.0 1177.1,173.3 1178.5,171.8 1179.8,170.5 1181.0,169.5 1182.1,168.8 1183.1,168.4 1184.0,168.2 1184.9,168.4 1185.9,168.8 1187.0,169.5 1188.2,170.5 1189.5,171.8 1190.9,173.3 1192.4,175.0 1193.8,176.9 1195.1,178.9 1196.1,181.0 1197.0,183.2" fill="#467f4a" stroke="#467f4a" stroke-width="1"/>
<circle cx="1184.0" cy="168.8" r="4.8" fill="#467f4a"/>
<circle cx="1185.9" cy="168.9" r="4.4" fill="#467f4a"/>
<circle cx="1188.4" cy="171.6" r="5.0" fill="#467f4a"/>
<circle cx="1190.6" cy="173.2" r="4.4" fill="#467f4a"/>
<circle cx="1192.5" cy="175.3" r="4.3" fill="#467f4a"/>
<circle cx="1194.7" cy="179.9" r="5.1" fill="#467f4a"/>
<circle cx="1196.5" cy="184.0" r="4.9" fill="#467f4a"/>
<circle cx="1197.9" cy="187.7" r="3.8" fill="#467f4a"/>
<circle cx="1195.8" cy="192.2" r="5.0" fill="#467f4a"/>
<circle cx="1195.8" cy="195.3" r="3.7" fill="#467f4a"/>
<circle cx="1192.6" cy="198.1" r="4.4" fill="#467f4a"/>
<circle cx="1189.4" cy="200.6" r="4.6" fill="#467f4a"/>
<circle cx="1187.2" cy="201.8" r="4.6" fill="#467f4a"/>
<circle cx="1184.7" cy="203.4" r="3.6" fill="#467f4a"/>
<circle cx="1182.6" cy="201.6" r="5.3" fill="#467f4a"/>
<circle cx="1178.3" cy="201.0" r="4.1" fill="#467f4a"/>
<circle cx="1175.7" cy="198.3" r="4.5" fill="#467f4a"/>
<circle cx="1174.9" cy="196.6" r="5.1" fill="#467f4a"/>
<circle cx="1172.5" cy="192.4" r="5.3" fill="#467f4a"/>
<circle cx="1170.0" cy="188.8" r="3.7" fill="#467f4a"/>
<circle cx="1171.4" cy="184.9" r="5.0" fill="#467f4a"/>
<circle cx="1172.2" cy="180.2" r="4.1" fill="#467f4a"/>
<circle cx="1174.3" cy="177.7" r="4.8" fill="#467f4a"/>
<circle cx="1176.3" cy="175.4" r="5.1" fill="#467f4a"/>
<circle cx="1179.0" cy="170.5" r="3.6" fill="#467f4a"/>
<circle cx="1181.1" cy="169.4" r="4.2" fill="#467f4a"/>
<circle cx="1182.5" cy="169.0" r="4.6" fill="#467f4a"/>
<circle cx="1193.2" cy="183.1" r="1.8" fill="#5d9a5d"/>
<circle cx="1191.3" cy="177.1" r="2.6" fill="#2f5e35"/>
<circle cx="1196.9" cy="189.7" r="2.7" fill="#3c7040"/>
<circle cx="1177.6" cy="195.9" r="2.7" fill="#6aa068"/>
<circle cx="1178.3" cy="181.4" r="2.3" fill="#6aa068"/>
<circle cx="1181.5" cy="186.6" r="1.4" fill="#5d9a5d"/>
<circle cx="1185.7" cy="170.9" r="2.7" fill="#36693b"/>
<circle cx="1196.4" cy="184.4" r="1.4" fill="#2f5e35"/>
<circle cx="1177.7" cy="183.8" r="2.1" fill="#6aa068"/>
<circle cx="1177.5" cy="199.1" r="2.6" fill="#5d9a5d"/>
<circle cx="1189.1" cy="189.6" r="2.0" fill="#6aa068"/>
<circle cx="1181.6" cy="174.0" r="2.4" fill="#2f5e35"/>
<circle cx="1174.0" cy="193.5" r="1.9" fill="#528c52"/>
<circle cx="1186.0" cy="191.9" r="2.6" fill="#36693b"/>
<circle cx="1194.0" cy="182.5" r="1.6" fill="#2f5e35"/>
<circle cx="1186.1" cy="192.6" r="2.8" fill="#528c52"/>
<circle cx="1181.5" cy="188.1" r="1.3" fill="#3c7040"/>
<circle cx="1193.9" cy="187.6" r="2.9" fill="#3c7040"/>
<circle cx="1189.5" cy="177.9" r="3.1" fill="#3c7040"/>
<circle cx="1178.9" cy="181.5" r="2.1" fill="#36693b"/>
<circle cx="1178.9" cy="190.7" r="2.6" fill="#5d9a5d"/>
<circle cx="1191.3" cy="194.7" r="2.0" fill="#36693b"/>
<circle cx="1188.5" cy="189.9" r="1.9" fill="#5d9a5d"/>
<circle cx="1183.7" cy="191.5" r="1.5" fill="#3c7040"/>
<circle cx="1184.3" cy="193.6" r="1.7" fill="#5d9a5d"/>
<circle cx="1182.8" cy="177.3" r="2.8" fill="#6aa068"/>
<circle cx="1176.2" cy="186.6" r="1.6" fill="#2f5e35"/>
<circle cx="1183.4" cy="174.2" r="1.5" fill="#6aa068"/>
<circle cx="1177.0" cy="180.8" r="2.2" fill="#6aa068"/>
<circle cx="1171.8" cy="191.0" r="2.3" fill="#6aa068"/>
<circle cx="1187.8" cy="174.8" r="2.1" fill="#6aa068"/>
<circle cx="1184.8" cy="181.5" r="3.1" fill="#3c7040"/>
<ellipse cx="1139.8" cy="215.3" rx="9.8" ry="7.35" fill="#8fbd78" stroke="#4f7a45" stroke-width="0.7"/>
<circle cx="1138.5" cy="215.7" r="4.2" fill="#a6d08f" stroke="#5f8c54" stroke-width="0.4"/>
<circle cx="1135.4" cy="212.9" r="2.6" fill="#a6d08f" stroke="#5f8c54" stroke-width="0.4"/>
<circle cx="1134.5" cy="211.0" r="2.8" fill="#a6d08f" stroke="#5f8c54" stroke-width="0.4"/>
<circle cx="1140.0" cy="219.6" r="3.9" fill="#a6d08f" stroke="#5f8c54" stroke-width="0.4"/>
<circle cx="1138.1" cy="214.5" r="3.9" fill="#a6d08f" stroke="#5f8c54" stroke-width="0.4"/>
<circle cx="1137.4" cy="211.5" r="4.2" fill="#a6d08f" stroke="#5f8c54" stroke-width="0.4"/>
<rect x="1110" y="223.3" width="92.5" height="11.2" fill="#76905a"/>
<rect x="1110" y="223.3" width="92.5" height="2.5" fill="#9dbb7e"/>
<rect x="700.8" y="217.7" width="42" height="16.8" fill="#e7d6b4"/><rect x="703.8" y="221.7" width="36" height="12.8" fill="#fff" stroke="#cdbb97" stroke-width="0.6"/>
<rect x="1069" y="217.7" width="41.2" height="16.8" fill="#e7d6b4"/><rect x="1072" y="221.7" width="35.2" height="12.8" fill="#fff" stroke="#cdbb97" stroke-width="0.6"/>
<rect x="742.7" y="223.3" width="326.3" height="11.2" fill="#9d9ca1"/>
<path d="M742.7,223.7 L1069,223.7" stroke="#2a2a2a" stroke-width="1"/>
<rect x="778" y="223.8" width="13.3" height="10.7" fill="#cfcfd2"/>
<path d="M778.0,234.5 L782.0,223.8" stroke="#fff" stroke-width="1.3"/>
<path d="M780.9555555555555,234.5 L784.9555555555555,223.8" stroke="#fff" stroke-width="1.3"/>
<path d="M783.9111111111112,234.5 L787.9111111111112,223.8" stroke="#fff" stroke-width="1.3"/>
<path d="M786.8666666666667,234.5 L790.8666666666667,223.8" stroke="#fff" stroke-width="1.3"/>
<path d="M789.8222222222222,234.5 L793.8222222222222,223.8" stroke="#fff" stroke-width="1.3"/>
<rect x="1019.3" y="223.8" width="15" height="10.7" fill="#cfcfd2"/>
<path d="M1019.3,234.5 L1023.3,223.8" stroke="#fff" stroke-width="1.3"/>
<path d="M1022.6333333333333,234.5 L1026.6333333333332,223.8" stroke="#fff" stroke-width="1.3"/>
<path d="M1025.9666666666667,234.5 L1029.9666666666667,223.8" stroke="#fff" stroke-width="1.3"/>
<path d="M1029.3,234.5 L1033.3,223.8" stroke="#fff" stroke-width="1.3"/>
<path d="M1032.6333333333332,234.5 L1036.6333333333332,223.8" stroke="#fff" stroke-width="1.3"/>
<rect x="733.9" y="101.8" width="5" height="116.2" fill="#3c3c3e"/><path d="M738.4,118.8 C744.4,107.8 761.4,102.8 781.4,103.3" stroke="#3c3c3e" stroke-width="2.6" fill="none"/><ellipse cx="780.4" cy="104.6" rx="4.6" ry="2.4" fill="#fff" stroke="#3c3c3e" stroke-width="1.4"/>
<rect x="1072.9" y="101.8" width="5" height="116.2" fill="#3c3c3e"/><path d="M1073.4,118.8 C1067.4,107.8 1050.4,102.8 1030.4,103.3" stroke="#3c3c3e" stroke-width="2.6" fill="none"/><ellipse cx="1031.4" cy="104.6" rx="4.6" ry="2.4" fill="#fff" stroke="#3c3c3e" stroke-width="1.4"/>
<ellipse cx="719.5" cy="181.3475" rx="2.750999999999999" ry="3.143999999999999" fill="#1b1b1b"/><path d="M714.5,201.98 L714.0,188.225 Q719.5,184.29500000000002 725.0,188.225 L724.5,201.98 L722.5,201.98 L722.5,217.7 L720.0,217.7 L719.5,204.338 L719.0,217.7 L716.5,217.7 L716.5,201.98 Z" fill="#1b1b1b"/>
<ellipse cx="727.5" cy="182.365" rx="2.6739999999999995" ry="3.055999999999999" fill="#1b1b1b"/><path d="M722.5,202.42 L722.0,189.05 Q727.5,185.23 733.0,189.05 L732.5,202.42 L730.5,202.42 L730.5,217.7 L728.0,217.7 L727.5,204.712 L727.0,217.7 L724.5,217.7 L724.5,202.42 Z" fill="#1b1b1b"/>
<ellipse cx="1090.4" cy="179.1275" rx="2.9189999999999996" ry="3.335999999999999" fill="#1b1b1b"/><path d="M1085.4,201.01999999999998 L1084.9,186.425 Q1090.4,182.255 1095.9,186.425 L1095.4,201.01999999999998 L1093.4,201.01999999999998 L1093.4,217.7 L1090.9,217.7 L1090.4,203.522 L1089.9,217.7 L1087.4,217.7 L1087.4,201.01999999999998 Z" fill="#1b1b1b"/>
<ellipse cx="759.5" cy="215.2" rx="2.2" ry="7.41" fill="none" stroke="#1a1a1a" stroke-width="1.6"/>
<path d="M755.5,204.28 L756.3,219.1 L758.9,219.1 L759.5,207.4 L760.1,219.1 L762.7,219.1 L763.5,204.28 Z" fill="#3a4030"/>
<path d="M753.0,207.4 L752.0,201.55 L753.5,193.36 Q759.5,190.63 765.5,193.36 L767.3,201.94 L766.3,207.4 L764.0,206.62 L764.0,199.6 L755.0,199.6 L755.0,206.62 Z" fill="#5f7a48" stroke="#2a3320" stroke-width="0.7"/>
<path d="M755.0,195.7 L764.0,195.7 L763.7,205.45 L755.3,205.45 Z" fill="#5f7a48"/>
<path d="M757.5,195.7 L758.5,203.5" stroke="#8aa070" stroke-width="1" opacity="0.7"/>
<circle cx="759.5" cy="188.29" r="3.3150000000000004" fill="#d9b48f"/>
<path d="M755.6,187.9 A3.9000000000000004,3.705 0 0 1 763.4,187.9 Z" fill="#e8e8e8" stroke="#333" stroke-width="0.5"/>
<ellipse cx="1051" cy="214.2" rx="2.2" ry="7.41" fill="none" stroke="#1a1a1a" stroke-width="1.6"/>
<path d="M1047,203.28 L1047.8,218.1 L1050.4,218.1 L1051,206.4 L1051.6,218.1 L1054.2,218.1 L1055,203.28 Z" fill="#3a4030"/>
<path d="M1044.5,206.4 L1043.5,200.55 L1045,192.36 Q1051,189.63 1057,192.36 L1058.8,200.94 L1057.8,206.4 L1055.5,205.62 L1055.5,198.6 L1046.5,198.6 L1046.5,205.62 Z" fill="#6b8a50" stroke="#2a3320" stroke-width="0.7"/>
<path d="M1046.5,194.7 L1055.5,194.7 L1055.2,204.45 L1046.8,204.45 Z" fill="#6b8a50"/>
<path d="M1049,194.7 L1050,202.5" stroke="#8aa070" stroke-width="1" opacity="0.7"/>
<circle cx="1051" cy="187.29" r="3.3150000000000004" fill="#d9b48f"/>
<path d="M1047.1,186.9 A3.9000000000000004,3.705 0 0 1 1054.9,186.9 Z" fill="#ddd" stroke="#333" stroke-width="0.5"/>
<path d="M815.65,184 L845.35,184 L849.4,195.55 L811.6,195.55 Z" fill="#a9d6ee" stroke="#1f2b3a" stroke-width="2"/>
<rect x="808" y="193.625" width="45" height="3.08" rx="2" fill="#1f2b3a"/>
<rect x="809.8" y="195.55" width="41.4" height="16.555" rx="2" fill="#1f2b3a"/>
<circle cx="813.85" cy="205.56" r="2.8874999999999997" fill="#f2c318"/>
<circle cx="847.15" cy="205.56" r="2.8874999999999997" fill="#f2c318"/>
<circle cx="818.8" cy="205.56" r="2.1175" fill="#fff"/>
<circle cx="842.2" cy="205.56" r="2.1175" fill="#fff"/>
<rect x="810.7" y="212.105" width="39.6" height="3.465" fill="#fff" stroke="#1f2b3a" stroke-width="0.8"/>
<rect x="811.15" y="215.57" width="7.2" height="6.93" fill="#111"/>
<rect x="842.65" y="215.57" width="7.2" height="6.93" fill="#111"/>
<rect x="818.35" y="215.57" width="24.3" height="6.16" fill="#fff" stroke="#222" stroke-width="0.6"/>
<path d="M887.812,200.75 L892.98,186.875 Q894.272,185 898.148,185 L918.82,185 Q922.696,185 923.988,186.875 L927.864,200.75 Z" fill="#8aa828" stroke="#2f3a10" stroke-width="1.2"/>
<path d="M893.626,198.125 L896.21,188.75 L921.404,188.75 L923.988,198.125 Z" fill="#b7def2" stroke="#2f3a10" stroke-width="0.8"/>
<rect x="876.184" y="199.25" width="59.431999999999995" height="13.5" rx="3" fill="#8aa828" stroke="#2f3a10" stroke-width="1"/>
<rect x="928.51" y="201.875" width="5.167999999999999" height="7.5" fill="#f0b030"/>
<rect x="900.732" y="212.75" width="29.069999999999997" height="3.0" fill="#f2d060" stroke="#2f3a10" stroke-width="0.6"/>
<ellipse cx="881.998" cy="215.75" rx="6.46" ry="6.75" fill="#111"/>
<ellipse cx="881.998" cy="215.75" rx="3.23" ry="3.375" fill="#ddd"/>
<ellipse cx="928.51" cy="216.5" rx="6.46" ry="6.0" fill="#111"/>
<ellipse cx="928.51" cy="216.5" rx="3.23" ry="3.0" fill="#ddd"/>
<ellipse cx="894.272" cy="217.25" rx="5.167999999999999" ry="5.250000000000001" fill="#111"/>
<path d="M965.6999999999999,201.875 L968.28,188.0 Q970.0,185 974.3,185 L991.5,185 Q995.8,185 997.52,188.0 L1000.1,201.875 Z" fill="#c01a2e" stroke="#5a0a14" stroke-width="1"/>
<path d="M970.0,196.25 L972.15,188.75 L993.65,188.75 L995.8,196.25 Z" fill="#b7def2"/>
<rect x="962.6899999999999" y="197.375" width="40.419999999999995" height="13.125" rx="2" fill="#c01a2e" stroke="#5a0a14" stroke-width="0.8"/>
<rect x="963.12" y="199.25" width="3.44" height="8.25" fill="#f0b030"/>
<rect x="999.24" y="199.25" width="3.44" height="8.25" fill="#f0b030"/>
<rect x="961.4" y="209.75" width="43" height="5.250000000000001" rx="2" fill="#2a1214"/>
<rect x="976.4499999999999" y="210.875" width="12.9" height="2.25" fill="#c8b070"/>
<rect x="964.41" y="215.0" width="7.3100000000000005" height="7.5" fill="#111"/>
<rect x="994.0799999999999" y="215.0" width="7.3100000000000005" height="7.5" fill="#111"/>
<text x="839.9" y="100.7" font-size="14.5" font-weight="bold" fill="#222" textLength="140" lengthAdjust="spacingAndGlyphs">Proposed Cross-Section</text>
<path d="M700.8,249.4 L700.8,268" stroke="#555" stroke-width="1"/>
<path d="M742,249.4 L742,268" stroke="#555" stroke-width="1"/>
<path d="M777.5,249.4 L777.5,268" stroke="#555" stroke-width="1"/>
<path d="M792,249.4 L792,268" stroke="#555" stroke-width="1"/>
<path d="M868,249.4 L868,268" stroke="#555" stroke-width="1"/>
<path d="M943.8,249.4 L943.8,268" stroke="#555" stroke-width="1"/>
<path d="M1020.5,249.4 L1020.5,268" stroke="#555" stroke-width="1"/>
<path d="M1033.6,249.4 L1033.6,268" stroke="#555" stroke-width="1"/>
<path d="M1069,249.4 L1069,268" stroke="#555" stroke-width="1"/>
<path d="M1110.2,249.4 L1110.2,268" stroke="#555" stroke-width="1"/>
<path d="M701.3,258.3 L714,258.3 M729,258.3 L741.5,258.3" stroke="#555" stroke-width="1"/>
<path d="M701.8,258.3 l6,-2.6 l0,5.2 Z M741.0,258.3 l-6,-2.6 l0,5.2 Z" fill="#555"/>
<path d="M742.5,258.3 L748,258.3 M771,258.3 L777.0,258.3" stroke="#555" stroke-width="1"/>
<path d="M743.0,258.3 l6,-2.6 l0,5.2 Z M776.5,258.3 l-6,-2.6 l0,5.2 Z" fill="#555"/>
<path d="M778.0,258.3 L791.5,258.3" stroke="#555" stroke-width="1"/>
<path d="M778.5,258.3 l6,-2.6 l0,5.2 Z M791.0,258.3 l-6,-2.6 l0,5.2 Z" fill="#555"/>
<path d="M792.5,258.3 L796,258.3 M864,258.3 L867.5,258.3" stroke="#555" stroke-width="1"/>
<path d="M793.0,258.3 l6,-2.6 l0,5.2 Z M867.0,258.3 l-6,-2.6 l0,5.2 Z" fill="#555"/>
<path d="M868.5,258.3 L880,258.3 M931,258.3 L943.3,258.3" stroke="#555" stroke-width="1"/>
<path d="M869.0,258.3 l6,-2.6 l0,5.2 Z M942.8,258.3 l-6,-2.6 l0,5.2 Z" fill="#555"/>
<path d="M944.3,258.3 L947,258.3 M1017,258.3 L1020.0,258.3" stroke="#555" stroke-width="1"/>
<path d="M944.8,258.3 l6,-2.6 l0,5.2 Z M1019.5,258.3 l-6,-2.6 l0,5.2 Z" fill="#555"/>
<path d="M1021.0,258.3 L1033.1,258.3" stroke="#555" stroke-width="1"/>
<path d="M1021.5,258.3 l6,-2.6 l0,5.2 Z M1032.6,258.3 l-6,-2.6 l0,5.2 Z" fill="#555"/>
<path d="M1034.1,258.3 L1040,258.3 M1062,258.3 L1068.5,258.3" stroke="#555" stroke-width="1"/>
<path d="M1034.6,258.3 l6,-2.6 l0,5.2 Z M1068.0,258.3 l-6,-2.6 l0,5.2 Z" fill="#555"/>
<path d="M1069.5,258.3 L1082,258.3 M1097,258.3 L1109.7,258.3" stroke="#555" stroke-width="1"/>
<path d="M1070.0,258.3 l6,-2.6 l0,5.2 Z M1109.2,258.3 l-6,-2.6 l0,5.2 Z" fill="#555"/>
<text x="760.7" y="246.4" font-size="12.5" font-weight="normal" fill="#2e2e2e" text-anchor="middle" textLength="7.5" lengthAdjust="spacingAndGlyphs">5&#8242;</text>
<text x="785.7" y="246.4" font-size="12.5" font-weight="normal" fill="#2e2e2e" text-anchor="middle" textLength="7.5" lengthAdjust="spacingAndGlyphs">2&#8242;</text>
<text x="830.6" y="246.4" font-size="12.5" font-weight="normal" fill="#2e2e2e" text-anchor="middle" textLength="11.8" lengthAdjust="spacingAndGlyphs">11&#8242;</text>
<text x="905.3" y="246.4" font-size="12.5" font-weight="normal" fill="#2e2e2e" text-anchor="middle" textLength="11.8" lengthAdjust="spacingAndGlyphs">11&#8242;</text>
<text x="982" y="246.4" font-size="12.5" font-weight="normal" fill="#2e2e2e" text-anchor="middle" textLength="11.8" lengthAdjust="spacingAndGlyphs">11&#8242;</text>
<text x="1027.6" y="246.4" font-size="12.5" font-weight="normal" fill="#2e2e2e" text-anchor="middle" textLength="7.5" lengthAdjust="spacingAndGlyphs">2&#8242;</text>
<text x="1051.1" y="246.4" font-size="12.5" font-weight="normal" fill="#2e2e2e" text-anchor="middle" textLength="7.5" lengthAdjust="spacingAndGlyphs">5&#8242;</text>
<text x="721.4" y="261.4" font-size="12.5" font-weight="normal" fill="#2e2e2e" text-anchor="middle" textLength="7.5" lengthAdjust="spacingAndGlyphs">6&#8242;</text>
<text x="760.7" y="261.4" font-size="12.5" font-weight="normal" fill="#2e2e2e" text-anchor="middle" textLength="18" lengthAdjust="spacingAndGlyphs">Bike</text>
<text x="830.6" y="261.4" font-size="12.5" font-weight="normal" fill="#2e2e2e" text-anchor="middle" textLength="54" lengthAdjust="spacingAndGlyphs">Southbound</text>
<text x="905.3" y="261.4" font-size="12.5" font-weight="normal" fill="#2e2e2e" text-anchor="middle" textLength="44" lengthAdjust="spacingAndGlyphs">Left-Turn</text>
<text x="982" y="261.4" font-size="12.5" font-weight="normal" fill="#2e2e2e" text-anchor="middle" textLength="52" lengthAdjust="spacingAndGlyphs">Northbound</text>
<text x="1051.1" y="261.4" font-size="12.5" font-weight="normal" fill="#2e2e2e" text-anchor="middle" textLength="18" lengthAdjust="spacingAndGlyphs">Bike</text>
<text x="1089.6" y="261.4" font-size="12.5" font-weight="normal" fill="#2e2e2e" text-anchor="middle" textLength="7.5" lengthAdjust="spacingAndGlyphs">6&#8242;</text>
<text x="721.4" y="275.6" font-size="12.5" font-weight="normal" fill="#2e2e2e" text-anchor="middle" textLength="39" lengthAdjust="spacingAndGlyphs">Sidewalk</text>
<text x="760.7" y="275.6" font-size="12.5" font-weight="normal" fill="#2e2e2e" text-anchor="middle" textLength="19" lengthAdjust="spacingAndGlyphs">Lane</text>
<text x="785.7" y="275.6" font-size="10.5" font-weight="normal" fill="#2e2e2e" text-anchor="middle" textLength="23" lengthAdjust="spacingAndGlyphs">Buffer</text>
<text x="830.6" y="275.6" font-size="12.5" font-weight="normal" fill="#2e2e2e" text-anchor="middle" textLength="52" lengthAdjust="spacingAndGlyphs">Travel Lane</text>
<text x="905.3" y="275.6" font-size="12.5" font-weight="normal" fill="#2e2e2e" text-anchor="middle" textLength="19" lengthAdjust="spacingAndGlyphs">Lane</text>
<text x="982" y="275.6" font-size="12.5" font-weight="normal" fill="#2e2e2e" text-anchor="middle" textLength="52" lengthAdjust="spacingAndGlyphs">Travel Lane</text>
<text x="1027.6" y="275.6" font-size="10.5" font-weight="normal" fill="#2e2e2e" text-anchor="middle" textLength="23" lengthAdjust="spacingAndGlyphs">Buffer</text>
<text x="1051.1" y="275.6" font-size="12.5" font-weight="normal" fill="#2e2e2e" text-anchor="middle" textLength="19" lengthAdjust="spacingAndGlyphs">Lane</text>
<text x="1089.6" y="275.6" font-size="12.5" font-weight="normal" fill="#2e2e2e" text-anchor="middle" textLength="39" lengthAdjust="spacingAndGlyphs">Sidewalk</text>
<path d="M700.8,283 L700.8,298" stroke="#555" stroke-width="1"/>
<path d="M1110.2,283 L1110.2,298" stroke="#555" stroke-width="1"/>
<path d="M701.3,290.6 L884,290.6 M923,290.6 L1109.7,290.6" stroke="#555" stroke-width="1"/>
<path d="M701.8,290.6 l6,-2.6 l0,5.2 Z M1109.2,290.6 l-6,-2.6 l0,5.2 Z" fill="#555"/>
<text x="903.5" y="292.4" font-size="12.5" font-weight="normal" fill="#2e2e2e" text-anchor="middle" textLength="14.7" lengthAdjust="spacingAndGlyphs">60&#8242;</text>
<path d="M712.8,297 L712.8,312" stroke="#555" stroke-width="1"/>
<path d="M1075.4,297 L1075.4,312" stroke="#555" stroke-width="1"/>
<path d="M713.3,304.8 L888,304.8 M920,304.8 L1074.9,304.8" stroke="#555" stroke-width="1"/>
<path d="M713.8,304.8 l6,-2.6 l0,5.2 Z M1074.4,304.8 l-6,-2.6 l0,5.2 Z" fill="#555"/>
<text x="904.2" y="307.4" font-size="12.5" font-weight="normal" fill="#2e2e2e" text-anchor="middle" textLength="14.7" lengthAdjust="spacingAndGlyphs">50&#8242;</text>
<text x="904.2" y="318.6" font-size="12.5" font-weight="normal" fill="#2e2e2e" text-anchor="middle" textLength="58" lengthAdjust="spacingAndGlyphs">Right of way</text>
<rect x="1265" y="87.7" width="250" height="167.6" fill="#242120" stroke="#e9a587" stroke-width="2"/>
<text x="1340.6" y="114" font-size="24" font-weight="bold" fill="#fff" textLength="99" lengthAdjust="spacingAndGlyphs">LEGEND</text>
<rect x="1334.6" y="161" width="104.20000000000005" height="30" fill="#9c9c9c"/>
<rect x="1378" y="155" width="20" height="41" fill="#a9a9a9"/>
<rect x="1334.6" y="154.7" width="104.20000000000005" height="6.7" fill="#1f9a86"/>
<rect x="1334.6" y="190" width="104.20000000000005" height="6.2" fill="#1f9a86"/>
<rect x="1334.6" y="161.3" width="33.90000000000009" height="4.6" fill="#e8e8e8"/>
<path d="M1334.6,163.6 L1368.5,163.6" stroke="#b0b0b0" stroke-width="0.8" stroke-dasharray="3 2"/>
<path d="M1334.6,175.7 L1368.5,175.7" stroke="#e8d020" stroke-width="1.4"/>
<path d="M1334.6,189.3 L1368.5,189.3" stroke="#e8d020" stroke-width="1.4"/>
<rect x="1397.5" y="161.3" width="41.299999999999955" height="4.6" fill="#e8e8e8"/>
<path d="M1397.5,163.6 L1438.8,163.6" stroke="#b0b0b0" stroke-width="0.8" stroke-dasharray="3 2"/>
<path d="M1397.5,175.7 L1438.8,175.7" stroke="#e8d020" stroke-width="1.4"/>
<path d="M1397.5,189.3 L1438.8,189.3" stroke="#e8d020" stroke-width="1.4"/>
<rect x="1334.6" y="145.4" width="104.20000000000005" height="8.8" fill="#f7a21b" stroke="#f3e01c" stroke-width="1.3"/>
<rect x="1339.9" y="146.8" width="5" height="6.2" fill="#1e1a18"/>
<rect x="1350.5" y="146.8" width="5" height="6.2" fill="#1e1a18"/>
<rect x="1361.1" y="146.8" width="5" height="6.2" fill="#1e1a18"/>
<rect x="1371.7" y="146.8" width="5" height="6.2" fill="#1e1a18"/>
<rect x="1382.3" y="146.8" width="5" height="6.2" fill="#1e1a18"/>
<rect x="1392.9" y="146.8" width="5" height="6.2" fill="#1e1a18"/>
<rect x="1403.5" y="146.8" width="5" height="6.2" fill="#1e1a18"/>
<rect x="1414.1" y="146.8" width="5" height="6.2" fill="#1e1a18"/>
<rect x="1424.7" y="146.8" width="5" height="6.2" fill="#1e1a18"/>
<rect x="1435.3" y="146.8" width="5" height="6.2" fill="#1e1a18"/>
<rect x="1334.6" y="196.1" width="104.20000000000005" height="8.8" fill="#f7a21b" stroke="#f3e01c" stroke-width="1.3"/>
<rect x="1337.2" y="197.5" width="5" height="6.2" fill="#1e1a18"/>
<rect x="1347.8" y="197.5" width="5" height="6.2" fill="#1e1a18"/>
<rect x="1358.4" y="197.5" width="5" height="6.2" fill="#1e1a18"/>
<rect x="1369.0" y="197.5" width="5" height="6.2" fill="#1e1a18"/>
<rect x="1379.6" y="197.5" width="5" height="6.2" fill="#1e1a18"/>
<rect x="1390.2" y="197.5" width="5" height="6.2" fill="#1e1a18"/>
<rect x="1400.8" y="197.5" width="5" height="6.2" fill="#1e1a18"/>
<rect x="1411.4" y="197.5" width="5" height="6.2" fill="#1e1a18"/>
<rect x="1422.0" y="197.5" width="5" height="6.2" fill="#1e1a18"/>
<rect x="1432.6" y="197.5" width="5" height="6.2" fill="#1e1a18"/>
<path d="M1366.5,154.2 L1369,145.8 L1378,145.8 L1381,154.2 Z" fill="#2e4fb0" stroke="#cfd8f0" stroke-width="0.5"/>
<path d="M1366.5,196.6 L1381,196.6 L1378,204.6 L1369,204.6 Z" fill="#2e4fb0" stroke="#cfd8f0" stroke-width="0.5"/>
<rect x="1369.3" y="157.5" width="8.5" height="1.7" fill="#f2e01a"/>
<rect x="1369.3" y="161.2" width="8.5" height="1.7" fill="#f2e01a"/>
<rect x="1369.3" y="164.9" width="8.5" height="1.7" fill="#f2e01a"/>
<rect x="1369.3" y="168.6" width="8.5" height="1.7" fill="#f2e01a"/>
<rect x="1369.3" y="172.3" width="8.5" height="1.7" fill="#f2e01a"/>
<rect x="1369.3" y="176.0" width="8.5" height="1.7" fill="#f2e01a"/>
<rect x="1369.3" y="179.7" width="8.5" height="1.7" fill="#f2e01a"/>
<rect x="1369.3" y="183.4" width="8.5" height="1.7" fill="#f2e01a"/>
<rect x="1369.3" y="187.1" width="8.5" height="1.7" fill="#f2e01a"/>
<rect x="1382" y="163" width="10" height="23.7" rx="1" fill="#fff" stroke="#ccc" stroke-width="0.4"/>
<circle cx="1387" cy="167.5" r="3" fill="#d4202a"/>
<circle cx="1387" cy="174.8" r="3" fill="#e8c21a"/>
<circle cx="1387" cy="182.2" r="3" fill="#2aa23a"/>
<path d="M1368.2,131 L1372.6,131 L1372.6,141" stroke="#e9c21c" stroke-width="1.3" fill="none"/><path d="M1372.6,144.2 L1370.20,140.00 L1375.00,140.00 Z" fill="#e9c21c"/>
<path d="M1318,164.7 L1330,164.7" stroke="#e9c21c" stroke-width="1.3" fill="none"/><path d="M1333.3,164.7 L1329.10,167.10 L1329.10,162.30 Z" fill="#e9c21c"/>
<path d="M1318,193.7 L1330,193.7" stroke="#e9c21c" stroke-width="1.3" fill="none"/><path d="M1333.3,193.7 L1329.10,196.10 L1329.10,191.30 Z" fill="#e9c21c"/>
<path d="M1454.8,175.7 L1443,175.7" stroke="#e9c21c" stroke-width="1.3" fill="none"/><path d="M1440,175.7 L1444.20,173.30 L1444.20,178.10 Z" fill="#e9c21c"/>
<path d="M1454.8,198.9 L1443,198.9" stroke="#e9c21c" stroke-width="1.3" fill="none"/><path d="M1440,198.9 L1444.20,196.50 L1444.20,201.30 Z" fill="#e9c21c"/>
<path d="M1359.4,224.2 L1374.3,224.2 L1374.3,209.5" stroke="#e9c21c" stroke-width="1.3" fill="none"/><path d="M1374.3,206.4 L1376.70,210.60 L1371.90,210.60 Z" fill="#e9c21c"/>
<path d="M1391.4,217.6 L1386.6,217.6 L1386.6,192" stroke="#e9c21c" stroke-width="1.3" fill="none"/><path d="M1386.6,188.8 L1389.00,193.00 L1384.20,193.00 Z" fill="#e9c21c"/>
<text x="1325.8" y="133.8" font-size="9.2" font-weight="bold" fill="#fff" textLength="38.6" lengthAdjust="spacingAndGlyphs">Curb ramp</text>
<text x="1285.5" y="160.8" font-size="9.2" font-weight="bold" fill="#fff" textLength="33.7" lengthAdjust="spacingAndGlyphs">Bike lane</text>
<text x="1285.5" y="170.7" font-size="9.2" font-weight="bold" fill="#fff" textLength="21.5" lengthAdjust="spacingAndGlyphs">buffer</text>
<text x="1283.3" y="195.9" font-size="9.2" font-weight="bold" fill="#fff" textLength="33.7" lengthAdjust="spacingAndGlyphs">Bike lane</text>
<text x="1318" y="219.8" font-size="9.2" font-weight="bold" fill="#fff" textLength="34.2" lengthAdjust="spacingAndGlyphs">Proposed</text>
<text x="1315.8" y="228.6" font-size="9.2" font-weight="bold" fill="#fff" textLength="37" lengthAdjust="spacingAndGlyphs">crosswalk</text>
<text x="1395.6" y="218.7" font-size="9.2" font-weight="bold" fill="#fff" textLength="22.3" lengthAdjust="spacingAndGlyphs">Signal</text>
<text x="1456.3" y="177.8" font-size="9.2" font-weight="bold" fill="#fff" textLength="50" lengthAdjust="spacingAndGlyphs">Lane marking</text>
<text x="1456.3" y="201.4" font-size="9.2" font-weight="bold" fill="#fff" textLength="35.3" lengthAdjust="spacingAndGlyphs">Proposed</text>
<text x="1456.3" y="211.2" font-size="9.2" font-weight="bold" fill="#fff" textLength="32" lengthAdjust="spacingAndGlyphs">sidewalk</text>
<text x="1286.7" y="247.5" font-size="13" font-style="italic" fill="#fff" textLength="206.8" lengthAdjust="spacingAndGlyphs">Not to scale: for illustration purposes</text>
<!-- ============ FOOTER ============ -->
<rect x="95.75" y="925.25" width="1439.5" height="80.5" rx="11" fill="#fff" stroke="#2a2a2a" stroke-width="1.5"/>
<g font-size="16" fill="#1a1a1a">
<text x="117.6" y="956.7" textLength="65.6" lengthAdjust="spacingAndGlyphs">BOSTON</text>
<text x="117.6" y="972.7" textLength="61.6" lengthAdjust="spacingAndGlyphs">REGION</text>
<text x="117.6" y="988.7" textLength="35.4" lengthAdjust="spacingAndGlyphs">MPO</text>
</g>
<g font-size="14" font-weight="bold" fill="#1a1a1a">
<text x="804.8" y="956.3" textLength="69.7" lengthAdjust="spacingAndGlyphs">Figure 32</text>
<text x="543.8" y="973.4" textLength="547.2" lengthAdjust="spacingAndGlyphs">Improvement Concept: Alternative 2 - Dual Bicycle Lanes and Sidewalks</text>
<text x="657.8" y="992" textLength="319.2" lengthAdjust="spacingAndGlyphs">Route 138 at Milton Street and Dollar Lane</text>
</g>
<g font-size="13" font-style="italic" fill="#1a1a1a">
<text x="1318.8" y="950.9" textLength="199.5" lengthAdjust="spacingAndGlyphs">Addressing Priority Corridors from</text>
<text x="1341.7" y="966.7" textLength="176.6" lengthAdjust="spacingAndGlyphs">the LRTP Needs Assessment:</text>
<text x="1404.4" y="982.6" textLength="114.6" lengthAdjust="spacingAndGlyphs">Route 138 in Milton</text>
</g>
<!-- north arrow -->
<g>
<path d="M407.8,952.7 L365.6,962.7 L380.3,967.2 Z" fill="#fff" stroke="#000" stroke-width="1.3" stroke-linejoin="miter"/>
<path d="M407.8,952.7 L380.3,967.2 L377.1,983.4 Z" fill="#000"/>
<path d="M358.5,974.4 L369.8,968.9 L362.6,981.7 L373.9,976.1" fill="none" stroke="#000" stroke-width="1.9" stroke-linecap="round" stroke-linejoin="miter"/>
</g>

</svg>
</body></html>
